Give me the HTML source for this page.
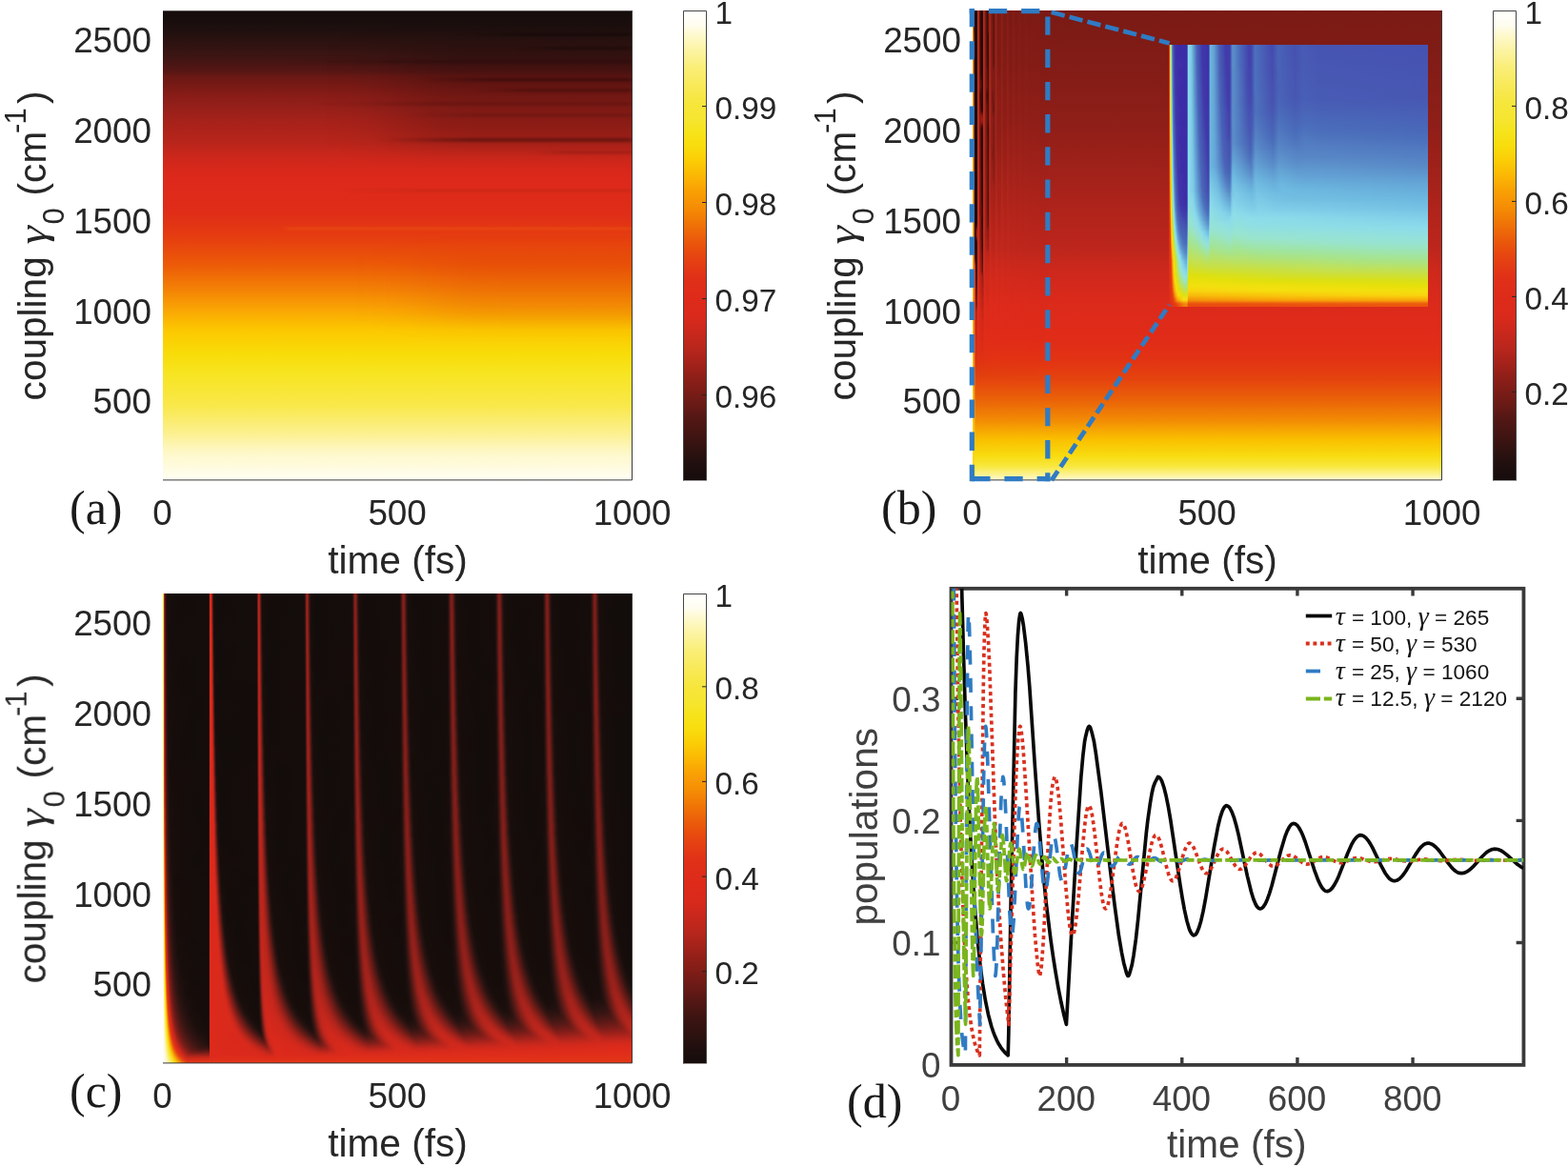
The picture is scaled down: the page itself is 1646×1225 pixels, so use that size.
<!DOCTYPE html>
<html lang="en"><head><meta charset="utf-8"><title>Figure</title>
<style>html,body{margin:0;padding:0;background:#fff}#fig{position:relative;width:1646px;height:1225px;overflow:hidden;background:#fff}.hm{position:absolute;overflow:hidden}.bl{position:absolute;left:0;top:0;width:100%;height:100%}.bl i{position:absolute;left:0;width:100%;display:block}#ov{position:absolute;left:0;top:0;display:block}</style></head><body>
<div id="fig">
<svg width="0" height="0" style="position:absolute"><defs><filter id="vb" x="0" y="-0.5" width="1" height="2" color-interpolation-filters="sRGB"><feGaussianBlur stdDeviation="0 2.5"/></filter><filter id="vb2" x="0" y="-0.5" width="1" height="2" color-interpolation-filters="sRGB"><feGaussianBlur stdDeviation="0 1.5"/></filter></defs></svg>
<div class="hm" style="left:171px;top:623.4px;width:493px;height:493px"><div class="bl" style="filter:url(#vb)"><i style="top:-12.4px;height:28px;background:linear-gradient(90deg,#ffffff 0,#f8e21e 0.5px,#e33a13 1px,#a7231b 1.5px,#661b17 2px,#431714 2.5px,#2e1412 3px,#180e0c 4.5px,#120c0a 19px,#140d0b 48px,#2c1412 48.5px,#a0221b 49px,#dd2b1b 49.5px,#dc2a1c 50.5px,#c7271c 51px,#441714 52.5px,#261210 53px,#180e0c 53.5px,#120c0a 58.5px,#140d0b 98px,#190e0c 98.5px,#371513 99px,#a3221b 100px,#bb261c 100.5px,#b7251c 101px,#a0221b 101.5px,#421714 103px,#2a1311 103.5px,#170d0b 104.5px,#120c0a 121px,#140d0b 148px,#180e0c 148.5px,#24110f 149px,#3e1614 149.5px,#851e19 150.5px,#9b211b 151px,#9e221b 151.5px,#911f1a 152px,#311512 154px,#190e0c 155px,#120c0a 160.5px,#150d0b 198px,#1e100e 199px,#2c1412 199.5px,#791d18 201px,#8a1f1a 201.5px,#901f1a 202px,#891e1a 202.5px,#2a1311 205px,#190e0c 206px,#120c0a 213.5px,#150d0b 248px,#1c0f0d 249px,#361513 250px,#751c18 251.5px,#831e19 252px,#881e19 252.5px,#791d18 253.5px,#331513 255.5px,#190e0c 257px,#120c0a 266px,#150d0b 298px,#23110f 299.5px,#3f1714 300.5px,#731c18 302px,#841e19 303px,#7a1d18 304px,#2e1412 306.5px,#190e0c 308px,#120c0a 318px,#150d0b 348px,#21110f 349.5px,#3c1614 350.5px,#6f1c17 352px,#811e19 353px,#791d18 354px,#301412 356.5px,#190e0c 358px,#120c0a 367.5px,#160d0b 398.5px,#20100e 399.5px,#381613 400.5px,#791d18 402.5px,#801d19 403.5px,#6e1b17 404.5px,#271210 407px,#170d0b 408.5px,#120c0a 429px,#160d0b 448.5px,#271311 450px,#761c18 452.5px,#7f1d19 453.5px,#701c17 454.5px,#281311 457px,#170e0c 458.5px,#120c0a 475.5px,#120c0a 493px)"></i><i style="top:15.6px;height:16px;background:linear-gradient(90deg,#ffffff 0,#f8e322 0.5px,#e54011 1px,#ae241c 1.5px,#6a1b17 2px,#471815 2.5px,#311513 3px,#190e0c 4.5px,#120c0a 17px,#140d0b 48px,#2c1412 48.5px,#9f221b 49px,#dd2b1b 49.5px,#dc2a1c 50.5px,#cd281c 51px,#7a1d18 52px,#2c1412 53px,#1b0f0d 53.5px,#120c0a 56px,#140d0b 98px,#190e0c 98.5px,#341513 99px,#9f221b 100px,#ba261c 100.5px,#b9251c 101px,#a5231b 101.5px,#301512 103.5px,#180e0c 104.5px,#120c0a 111.5px,#140d0b 148px,#22110f 149px,#3b1613 149.5px,#811e19 150.5px,#99211b 151px,#9f221b 151.5px,#95201a 152px,#381613 154px,#1d0f0d 155px,#120c0a 158px,#150d0b 198px,#1d0f0d 199px,#2a1311 199.5px,#751c18 201px,#881e19 201.5px,#901f1a 202px,#8c1f1a 202.5px,#6a1b17 203.5px,#2f1412 205px,#1b0f0d 206px,#120c0a 210.5px,#150d0b 248px,#1b0e0c 249px,#331513 250px,#801d19 252px,#871e19 252.5px,#7d1d19 253.5px,#2b1412 256px,#170e0c 257.5px,#120c0a 273px,#150d0b 298px,#22110f 299.5px,#3c1614 300.5px,#7c1d19 302.5px,#831e19 303.5px,#721c18 304.5px,#291311 307px,#180e0c 308.5px,#120c0a 324px,#170d0b 348.5px,#291311 350px,#781d18 352.5px,#811e19 353.5px,#721c18 354.5px,#2a1311 357px,#180e0c 358.5px,#120c0a 372.5px,#160d0b 398.5px,#271210 400px,#761c18 402.5px,#801d19 403.5px,#731c18 404.5px,#2b1412 407px,#180e0c 408.5px,#120c0a 421px,#160d0b 448.5px,#261210 450px,#731c18 452.5px,#801d19 453.5px,#741c18 454.5px,#2c1412 457px,#180e0c 458.5px,#120c0a 469.5px,#120c0a 493px)"></i><i style="top:31.6px;height:16px;background:linear-gradient(90deg,#ffffff 0,#f8e427 0.5px,#e6480f 1px,#b5251c 1.5px,#701c17 2px,#4b1815 2.5px,#341513 3px,#1f100e 4px,#140d0b 6.5px,#140d0b 48px,#2c1412 48.5px,#9e221b 49px,#dd2b1c 49.5px,#dd2a1c 50.5px,#d2281c 51px,#b1241c 51.5px,#5b1a16 52.5px,#361513 53px,#20100e 53.5px,#140d0b 54.5px,#140d0b 98px,#190e0c 98.5px,#321513 99px,#9b211b 100px,#b9251c 100.5px,#ba261c 101px,#a9231b 101.5px,#381613 103.5px,#1a0e0c 104.5px,#120c0a 108.5px,#140d0b 148px,#21100e 149px,#371513 149.5px,#7c1d19 150.5px,#96201a 151px,#9f221b 151.5px,#98211b 152px,#2b1412 154.5px,#180e0c 155.5px,#120c0a 162.5px,#140d0b 198px,#1b0f0d 199px,#281311 199.5px,#851e19 201.5px,#8f1f1a 202px,#8e1f1a 202.5px,#711c18 203.5px,#361513 205px,#1e100e 206px,#130c0a 208.5px,#150d0b 248px,#190e0c 249px,#2f1412 250px,#7d1d19 252px,#861e19 252.5px,#811e19 253.5px,#301512 256px,#180e0c 257.5px,#120c0a 267.5px,#170d0b 298.5px,#291311 300px,#791d18 302.5px,#841e19 303.5px,#761c18 304.5px,#2d1412 307px,#190e0c 308.5px,#120c0a 319px,#160d0b 348.5px,#271210 350px,#751c18 352.5px,#821e19 353.5px,#761c18 354.5px,#2e1412 357px,#190e0c 358.5px,#120c0a 368px,#160d0b 398.5px,#251210 400px,#721c18 402.5px,#801d19 403.5px,#771c18 404.5px,#261210 407.5px,#170d0b 409px,#120c0a 428.5px,#160d0b 448.5px,#24110f 450px,#3f1614 451px,#6f1c17 452.5px,#7f1d19 453.5px,#781d18 454.5px,#281311 457.5px,#170e0c 459px,#120c0a 475.5px,#120c0a 493px)"></i><i style="top:47.6px;height:16px;background:linear-gradient(90deg,#ffffff 0,#f8e52e 0.5px,#e8510c 1px,#bd261c 1.5px,#751c18 2px,#4f1815 2.5px,#381613 3px,#21110f 4px,#160d0b 6px,#140d0b 48px,#2c1412 48.5px,#9e211b 49px,#dd2b1c 49.5px,#dd2b1c 50.5px,#d5291c 51px,#ba261c 51.5px,#421714 53px,#261210 53.5px,#190e0c 54px,#120c0a 58.5px,#140d0b 98px,#180e0c 98.5px,#2f1412 99px,#97201a 100px,#b7251c 100.5px,#bc261c 101px,#ad241c 101.5px,#2a1311 104px,#170e0c 105px,#120c0a 115px,#140d0b 148px,#1f100e 149px,#341513 149.5px,#771c18 150.5px,#92201a 151px,#9f221b 151.5px,#9b211b 152px,#751c18 153px,#321513 154.5px,#1b0f0d 155.5px,#120c0a 159.5px,#160d0b 198.5px,#261210 199.5px,#811e19 201.5px,#8d1f1a 202px,#8f1f1a 202.5px,#771c18 203.5px,#2c1412 205.5px,#170d0b 207px,#120c0a 223px,#160d0b 248.5px,#21100e 249.5px,#2c1412 250px,#791d18 252px,#881e19 253px,#791d18 254px,#2a1311 256.5px,#170e0c 258px,#120c0a 273.5px,#160d0b 298.5px,#271210 300px,#751c18 302.5px,#841e19 303.5px,#7b1d18 304.5px,#291311 307.5px,#180e0c 309px,#120c0a 323.5px,#160d0b 348.5px,#251210 350px,#521916 351.5px,#7c1d19 353px,#801d19 354px,#611a16 355.5px,#291311 357.5px,#180e0c 359px,#120c0a 372px,#160d0b 398.5px,#23110f 400px,#3e1614 401px,#7a1d18 403px,#801d19 404px,#701c17 405px,#2b1412 407.5px,#180e0c 409px,#120c0a 421px,#150d0b 448.5px,#22110f 450px,#3b1613 451px,#771c18 453px,#801d19 454px,#711c18 455px,#2c1412 457.5px,#170d0b 459.5px,#120c0a 489.5px,#120c0a 493px)"></i><i style="top:63.6px;height:16px;background:linear-gradient(90deg,#ffffff 0,#f9e635 0.5px,#ea5a0a 1px,#c5271c 1.5px,#7c1d18 2px,#531916 2.5px,#2b1412 3.5px,#180e0c 5px,#120c0a 20px,#140d0b 48px,#2b1412 48.5px,#9d211b 49px,#dd2b1c 49.5px,#d8291c 51px,#c2261c 51.5px,#4e1815 53px,#2e1412 53.5px,#1d0f0d 54px,#120c0a 56px,#140d0b 98px,#180e0c 98.5px,#2d1412 99px,#93201a 100px,#b5251c 100.5px,#bc261c 101px,#b1241c 101.5px,#811e19 102.5px,#321513 104px,#190e0c 105px,#120c0a 111px,#140d0b 148px,#1e100e 149px,#301512 149.5px,#8e1f1a 151px,#9e211b 151.5px,#9d211b 152px,#7c1d19 153px,#3a1613 154.5px,#1f100e 155.5px,#130c0a 157.5px,#160d0b 198.5px,#190e0c 199px,#351513 200px,#7d1d19 201.5px,#8b1f1a 202px,#901f1a 202.5px,#7d1d19 203.5px,#331513 205.5px,#180e0c 207px,#120c0a 216px,#160d0b 248.5px,#1f100e 249.5px,#3b1613 250.5px,#751c18 252px,#881e19 253px,#7e1d19 254px,#301412 256.5px,#190e0c 258px,#120c0a 267.5px,#160d0b 298.5px,#251210 300px,#511915 301.5px,#7d1d19 303px,#831e19 304px,#741c18 305px,#2e1412 307.5px,#170d0b 309.5px,#120c0a 331px,#160d0b 348.5px,#23110f 350px,#3c1614 351px,#791d18 353px,#811e19 354px,#741c18 355px,#2f1412 357.5px,#170e0c 359.5px,#120c0a 378.5px,#150d0b 398.5px,#22110f 400px,#391613 401px,#761c18 403px,#801d19 404px,#751c18 405px,#271210 408px,#180e0c 409.5px,#120c0a 426px,#170d0b 449px,#291311 450.5px,#741c18 453px,#801d19 454px,#761c18 455px,#281311 458px,#180e0c 459.5px,#120c0a 474px,#120c0a 493px)"></i><i style="top:79.6px;height:16px;background:linear-gradient(90deg,#ffffff 0,#f9e73c 0.5px,#ec6309 1px,#cd281c 1.5px,#821e19 2px,#581916 2.5px,#2e1412 3.5px,#190e0c 5px,#120c0a 17.5px,#140d0b 48px,#2b1412 48.5px,#9d211b 49px,#dd2b1c 49.5px,#da2a1c 51px,#ca271c 51.5px,#831e19 52.5px,#3a1613 53.5px,#23110f 54px,#180e0c 54.5px,#120c0a 60px,#140d0b 98px,#180e0c 98.5px,#2b1412 99px,#8f1f1a 100px,#b2251c 100.5px,#bd261c 101px,#b4251c 101.5px,#891e1a 102.5px,#3b1614 104px,#1d0f0d 105px,#120c0a 107.5px,#160d0b 148.5px,#1c0f0d 149px,#2d1412 149.5px,#8a1f1a 151px,#9c211b 151.5px,#9f221b 152px,#831e19 153px,#301412 155px,#1b0f0d 156px,#120c0a 160.5px,#160d0b 198.5px,#22110f 199.5px,#311513 200px,#781d18 201.5px,#881e1a 202px,#901f1a 202.5px,#8d1f1a 203px,#721c18 204px,#2b1412 206px,#170e0c 207.5px,#120c0a 222px,#160d0b 248.5px,#271210 250px,#7e1d19 252.5px,#881e19 253.5px,#761c18 254.5px,#2a1311 257px,#180e0c 258.5px,#120c0a 271.5px,#160d0b 298.5px,#23110f 300px,#3b1614 301px,#791d18 303px,#841e19 304px,#791d18 305px,#2a1311 308px,#170d0b 310px,#120c0a 345.5px,#1a0e0c 349.5px,#2a1311 350.5px,#751c18 353px,#821e19 354px,#791d18 355px,#2b1412 358px,#170d0b 360px,#120c0a 390px,#170d0b 399px,#281311 400.5px,#721c18 403px,#801d19 404px,#791d18 405px,#2c1412 408px,#170d0b 410px,#120c0a 434px,#160d0b 449px,#271210 450.5px,#7a1d18 453.5px,#7f1d19 454.5px,#641a17 456px,#2d1412 458px,#170e0c 460px,#120c0a 480px,#120c0a 493px)"></i><i style="top:95.6px;height:16px;background:linear-gradient(90deg,#ffffff 0,#fae843 0.5px,#ee6e08 1px,#d4291c 1.5px,#891e1a 2px,#5e1a16 2.5px,#431714 3px,#271210 4px,#180e0c 5.5px,#120c0a 24.5px,#140d0b 48px,#2b1412 48.5px,#9c211b 49px,#dd2b1c 49.5px,#dc2a1c 51px,#d1281c 51.5px,#b5251c 52px,#471815 53.5px,#2b1412 54px,#1c0f0d 54.5px,#120c0a 56.5px,#140c0a 98px,#170e0c 98.5px,#291311 99px,#8a1f1a 100px,#b0241c 100.5px,#bd261c 101px,#b7251c 101.5px,#911f1a 102.5px,#2f1412 104.5px,#190e0c 105.5px,#120c0a 111.5px,#160d0b 148.5px,#1b0f0d 149px,#2a1311 149.5px,#851e19 151px,#99211b 151.5px,#9f221b 152px,#99211b 152.5px,#601a16 154px,#291311 155.5px,#160d0b 157px,#130c0a 197.5px,#180e0c 199px,#2d1412 200px,#851e19 202px,#8e1f1a 202.5px,#8f1f1a 203px,#791d18 204px,#331513 206px,#190e0c 207.5px,#120c0a 216px,#150d0b 248.5px,#251210 250px,#441714 251px,#7a1d18 252.5px,#881e1a 253.5px,#7c1d19 254.5px,#271210 257.5px,#170e0c 259px,#120c0a 278px,#150d0b 298.5px,#21100e 300px,#371513 301px,#741c18 303px,#831e19 304px,#7e1d19 305px,#271210 308.5px,#180e0c 310px,#120c0a 325px,#170d0b 349px,#271311 350.5px,#7b1d18 353.5px,#811e19 354.5px,#741c18 355.5px,#281311 358.5px,#160d0b 360.5px,#130c0a 397.5px,#1e100e 400px,#301512 401px,#781d18 403.5px,#801d19 404.5px,#741c18 405.5px,#291311 408.5px,#170d0b 410.5px,#120c0a 446px,#1d0f0d 450px,#2e1412 451px,#761c18 453.5px,#801d19 454.5px,#751c18 455.5px,#2a1311 458.5px,#170d0b 460.5px,#120c0a 490px,#120c0a 493px)"></i><i style="top:111.6px;height:16px;background:linear-gradient(90deg,#ffffff 0,#fae84b 0.5px,#f07806 1px,#d92a1c 1.5px,#911f1a 2px,#631a17 2.5px,#481815 3px,#291311 4px,#170e0c 6px,#120c0a 37px,#140d0b 48px,#2b1412 48.5px,#9c211b 49px,#dd2b1c 49.5px,#dc2a1c 51px,#d4291c 51.5px,#bf261c 52px,#371613 54px,#23110f 54.5px,#150d0b 55.5px,#140c0a 98px,#170d0b 98.5px,#281311 99px,#531916 99.5px,#861e19 100px,#ac241c 100.5px,#bc261c 101px,#b9251c 101.5px,#99211b 102.5px,#3a1613 104.5px,#1d0f0d 105.5px,#130c0a 108px,#160d0b 148.5px,#1a0e0c 149px,#281311 149.5px,#801d19 151px,#96201a 151.5px,#9f221b 152px,#9c211b 152.5px,#7e1d19 153.5px,#301512 155.5px,#180e0c 157px,#120c0a 169px,#150d0b 198.5px,#1e100e 199.5px,#2a1311 200px,#801d19 202px,#8c1f1a 202.5px,#901f1a 203px,#801d19 204px,#2d1412 206.5px,#180e0c 208px,#120c0a 219.5px,#150d0b 248.5px,#1a0e0c 249.5px,#2d1412 250.5px,#751c18 252.5px,#871e19 253.5px,#811e19 254.5px,#2c1412 257.5px,#170d0b 259.5px,#120c0a 288.5px,#170d0b 299px,#271210 300.5px,#7b1d18 303.5px,#841e19 304.5px,#7a1d18 305.5px,#2d1412 308.5px,#170e0c 310.5px,#120c0a 329px,#160d0b 349px,#251210 350.5px,#4d1815 352px,#771c18 353.5px,#821e19 354.5px,#791d18 355.5px,#2e1412 358.5px,#180e0c 360.5px,#120c0a 377.5px,#160d0b 399px,#23110f 400.5px,#3b1613 401.5px,#741c18 403.5px,#801d19 404.5px,#791d18 405.5px,#271210 409px,#160d0b 411px,#140c0a 448px,#1b0f0d 450px,#381613 451.5px,#721c18 453.5px,#801d19 454.5px,#7a1d18 455.5px,#281311 459px,#170d0b 461px,#120c0a 493px)"></i><i style="top:127.6px;height:16px;background:linear-gradient(90deg,#ffffff 0,#fae952 0.5px,#f28206 1px,#dd2a1c 1.5px,#9a211b 2px,#691b17 2.5px,#4d1815 3px,#2b1412 4px,#180e0c 6px,#120c0a 28.5px,#140d0b 48px,#2b1412 48.5px,#9c211b 49px,#dd2a1c 49.5px,#d8291c 51.5px,#c8271c 52px,#891e1a 53px,#461715 54px,#2b1412 54.5px,#170d0b 55.5px,#120c0a 68.5px,#140c0a 98px,#170d0b 98.5px,#261210 99px,#4e1815 99.5px,#811e19 100px,#a9231b 100.5px,#bb261c 101px,#bb261c 101.5px,#a0221b 102.5px,#301512 105px,#1a0e0c 106px,#120c0a 111px,#150d0b 148.5px,#190e0c 149px,#261210 149.5px,#5c1a16 150.5px,#92201a 151.5px,#9e211b 152px,#9e211b 152.5px,#851e19 153.5px,#2a1311 156px,#170d0b 157.5px,#120c0a 177px,#150d0b 198.5px,#1c0f0d 199.5px,#391613 200.5px,#7b1d18 202px,#901f1a 203px,#851e19 204px,#291311 207px,#170e0c 208.5px,#120c0a 223.5px,#170d0b 249px,#20100e 250px,#3a1613 251px,#7d1d19 253px,#881e1a 254px,#7c1d18 255px,#2a1311 258px,#180e0c 259.5px,#120c0a 272px,#160d0b 299px,#24110f 300.5px,#3c1614 301.5px,#761c18 303.5px,#841e19 304.5px,#7f1d19 305.5px,#2b1412 309px,#170e0c 311px,#120c0a 333px,#160d0b 349px,#22110f 350.5px,#381613 351.5px,#721c18 353.5px,#811e19 354.5px,#7d1d19 355.5px,#431714 358px,#241210 359.5px,#170e0c 361px,#120c0a 380.5px,#160d0b 399px,#21110f 400.5px,#441714 402px,#791d18 404px,#811e19 405px,#6b1b17 406.5px,#2c1412 409px,#180e0c 411px,#120c0a 428.5px,#150d0b 449px,#20100e 450.5px,#421714 452px,#771c18 454px,#801d19 455px,#6c1b17 456.5px,#2e1412 459px,#180e0c 461px,#120c0a 476.5px,#120c0a 493px)"></i><i style="top:143.6px;height:16px;background:linear-gradient(90deg,#ffffff 0,#fbea59 0.5px,#f48d05 1px,#de2b1b 1.5px,#a3221b 2px,#701c18 2.5px,#521916 3px,#2f1412 4px,#180e0c 6px,#120c0a 24px,#140d0b 48px,#2b1412 48.5px,#9b211b 49px,#dd2a1c 49.5px,#db2a1c 51.5px,#d0281c 52px,#99211b 53px,#391613 54.5px,#251210 55px,#190e0c 55.5px,#120c0a 60px,#130c0a 98px,#170d0b 98.5px,#251210 99px,#4a1815 99.5px,#a5221b 100.5px,#b9251c 101px,#bc261c 101.5px,#a6231b 102.5px,#2a1311 105.5px,#180e0c 106.5px,#120c0a 114px,#150d0b 148.5px,#180e0c 149px,#24110f 149.5px,#391613 150px,#8d1f1a 151.5px,#9c211b 152px,#9f221b 152.5px,#8c1f1a 153.5px,#331513 156px,#190e0c 157.5px,#120c0a 166px,#150d0b 198.5px,#1b0f0d 199.5px,#341513 200.5px,#851e19 202.5px,#901f1a 203.5px,#7f1d19 204.5px,#311512 207px,#190e0c 208.5px,#120c0a 217px,#160d0b 249px,#271210 250.5px,#781d18 253px,#881e19 254px,#811e19 255px,#281311 258.5px,#180e0c 260px,#120c0a 274px,#160d0b 299px,#22110f 300.5px,#451714 302px,#7b1d18 304px,#841e19 305px,#721c18 306.5px,#291311 309.5px,#170d0b 311.5px,#120c0a 335.5px,#170d0b 349.5px,#281311 351px,#781d18 354px,#821e19 355px,#721c18 356.5px,#2a1311 359.5px,#170e0c 361.5px,#120c0a 383px,#170d0b 399.5px,#261210 401px,#751c18 404px,#811e19 405px,#7b1d18 406px,#2b1412 409.5px,#180e0c 411.5px,#120c0a 430.5px,#170d0b 449.5px,#251210 451px,#4a1815 452.5px,#7b1d18 454.5px,#801d19 455.5px,#691b17 457px,#2c1412 459.5px,#180e0c 461.5px,#120c0a 478.5px,#120c0a 493px)"></i><i style="top:159.6px;height:16px;background:linear-gradient(90deg,#ffffff 0,#fbeb61 0.5px,#f69804 1px,#df2c1a 1.5px,#781d18 2.5px,#581916 3px,#341513 4px,#190e0c 6px,#120c0a 19.5px,#140d0b 48px,#2b1412 48.5px,#9b211b 49px,#dd2a1c 49.5px,#dc2a1c 51.5px,#d5291c 52px,#c3271c 52.5px,#301412 55px,#180e0c 56px,#120c0a 63px,#130c0a 98px,#160d0b 98.5px,#23110f 99px,#461715 99.5px,#a0221b 100.5px,#b7251c 101px,#bd261c 101.5px,#ac241c 102.5px,#5d1a16 104.5px,#271210 106px,#160d0b 107.5px,#150d0b 148.5px,#21110f 149.5px,#341513 150px,#871e19 151.5px,#99211b 152px,#a0221b 152.5px,#92201a 153.5px,#2e1412 156.5px,#180e0c 158px,#120c0a 168.5px,#160d0b 199px,#22110f 200px,#441714 201px,#801d19 202.5px,#901f1a 203.5px,#851e19 204.5px,#2d1412 207.5px,#190e0c 209px,#120c0a 218.5px,#160d0b 249px,#241210 250.5px,#3f1714 251.5px,#7e1d19 253.5px,#881e1a 254.5px,#7e1d19 255.5px,#271210 259px,#180e0c 260.5px,#120c0a 276px,#160d0b 299px,#1f100e 300.5px,#3f1614 302px,#761c18 304px,#831e19 305px,#791d18 306.5px,#291311 310px,#170d0b 312px,#120c0a 336px,#170d0b 349.5px,#251210 351px,#491815 352.5px,#7b1d18 354.5px,#821e19 355.5px,#6f1c17 357px,#291311 360px,#170e0c 362px,#120c0a 383.5px,#160d0b 399.5px,#23110f 401px,#471815 402.5px,#791d18 404.5px,#811e19 405.5px,#6f1c17 407px,#2a1311 410px,#180e0c 412px,#120c0a 431px,#160d0b 449.5px,#22110f 451px,#441714 452.5px,#771c18 454.5px,#801d19 455.5px,#711c18 457px,#2b1412 460px,#180e0c 462px,#120c0a 479px,#120c0a 493px)"></i><i style="top:175.6px;height:16px;background:linear-gradient(90deg,#ffffff 0,#fbec69 0.5px,#f8a304 1px,#e13019 1.5px,#b8251c 2px,#811e19 2.5px,#5f1a16 3px,#381613 4px,#251210 5px,#160d0b 7.5px,#140d0b 48px,#2b1412 48.5px,#9b211b 49px,#dd2a1c 49.5px,#d8291c 52px,#cd281c 52.5px,#99211b 53.5px,#401714 55px,#2a1311 55.5px,#170e0c 56.5px,#120c0a 67px,#160d0b 98.5px,#21110f 99px,#421714 99.5px,#9b211b 100.5px,#b5251c 101px,#bd261c 101.5px,#b1241c 102.5px,#7f1d19 104px,#301412 106px,#170e0c 107.5px,#120c0a 120.5px,#150d0b 148.5px,#1f100e 149.5px,#2f1412 150px,#811e19 151.5px,#95201a 152px,#9f221b 152.5px,#98211b 153.5px,#2b1412 157px,#180e0c 158.5px,#120c0a 170.5px,#160d0b 199px,#20100e 200px,#3d1614 201px,#7a1d18 202.5px,#8f1f1a 203.5px,#8b1f1a 204.5px,#2c1412 208px,#170d0b 210px,#120c0a 236.5px,#170d0b 249.5px,#2a1311 251px,#791d18 253.5px,#881e19 254.5px,#831e19 255.5px,#261210 259.5px,#160d0b 261.5px,#130c0a 298px,#1d0f0d 300.5px,#381613 302px,#7a1d18 304.5px,#841e19 306px,#6d1b17 307.5px,#291311 310.5px,#170e0c 312.5px,#120c0a 334px,#160d0b 349.5px,#22110f 351px,#431714 352.5px,#761c18 354.5px,#821e19 356px,#6d1b17 357.5px,#291311 360.5px,#180e0c 362.5px,#120c0a 382.5px,#160d0b 399.5px,#21100e 401px,#401714 402.5px,#741c18 404.5px,#811e19 406px,#6d1b17 407.5px,#2a1311 410.5px,#180e0c 412.5px,#120c0a 430.5px,#160d0b 449.5px,#1f100e 451px,#3d1614 452.5px,#721c18 454.5px,#801d19 456px,#6f1c17 457.5px,#2b1412 460.5px,#180e0c 462.5px,#120c0a 479px,#120c0a 493px)"></i><i style="top:191.6px;height:16px;background:linear-gradient(90deg,#ffffff 0,#fced72 0.5px,#f9ae04 1px,#e33615 1.5px,#c3271c 2px,#8a1f1a 2.5px,#661b17 3px,#3d1614 4px,#23110f 5.5px,#160d0b 8px,#140d0b 48px,#2b1412 48.5px,#9a211b 49px,#dd2a1c 49.5px,#db2a1c 52px,#d3291c 52.5px,#aa231b 53.5px,#3a1613 55.5px,#1c0f0d 56.5px,#120c0a 59.5px,#160d0b 98.5px,#20100e 99px,#3d1614 99.5px,#95201a 100.5px,#b2241c 101px,#bc261c 101.5px,#b5251c 102.5px,#8a1f1a 104px,#2c1412 106.5px,#170d0b 108px,#120c0a 123px,#140d0b 148.5px,#1d0f0d 149.5px,#2b1412 150px,#7a1d18 151.5px,#9c211b 152.5px,#9c211b 153.5px,#761c18 155px,#2a1311 157.5px,#180e0c 159px,#120c0a 171.5px,#160d0b 199px,#1d0f0d 200px,#371513 201px,#821e19 203px,#911f1a 204px,#871e19 205px,#2b1412 208.5px,#170d0b 210.5px,#120c0a 234.5px,#170d0b 249.5px,#271210 251px,#7e1d19 254px,#891e1a 255px,#781d18 256.5px,#2e1412 259.5px,#180e0c 261.5px,#120c0a 276px,#160d0b 299.5px,#20100e 301px,#3f1714 302.5px,#7d1d19 305px,#831e19 306.5px,#6c1b17 308px,#2a1311 311px,#180e0c 313px,#120c0a 331.5px,#170d0b 350px,#2f1412 352px,#791d18 355px,#811e19 356.5px,#6c1b17 358px,#2a1311 361px,#180e0c 363px,#120c0a 380.5px,#170d0b 400px,#2c1412 402px,#771c18 405px,#811e19 406.5px,#6c1b17 408px,#2b1412 411px,#180e0c 413px,#120c0a 429px,#170d0b 450px,#2b1412 452px,#751c18 455px,#801d19 456.5px,#6d1b17 458px,#2c1412 461px,#180e0c 463px,#120c0a 478px,#120c0a 493px)"></i><i style="top:207.6px;height:16px;background:linear-gradient(90deg,#ffffff 0,#fcee7a 0.5px,#fab904 1px,#e53f11 1.5px,#d0281c 2px,#95201a 2.5px,#6e1b17 3px,#431714 4px,#2b1412 5px,#180e0c 7.5px,#120c0a 36px,#140d0b 48px,#2b1412 48.5px,#9a211b 49px,#dc2a1c 49.5px,#d8291c 52.5px,#ce281c 53px,#a0221b 54px,#361513 56px,#1b0f0d 57px,#120c0a 60.5px,#160d0b 98.5px,#1e100e 99px,#391613 99.5px,#8f1f1a 100.5px,#ae241c 101px,#bb261c 101.5px,#b8251c 102.5px,#95201a 104px,#2b1412 107px,#170e0c 108.5px,#120c0a 123.5px,#160d0b 149px,#281311 150px,#891e1a 152px,#99211b 152.5px,#9f221b 153.5px,#811e19 155px,#2a1311 158px,#180e0c 159.5px,#120c0a 171.5px,#150d0b 199px,#1b0f0d 200px,#311512 201px,#7c1d18 203px,#8f1f1a 204px,#8d1f1a 205px,#5f1a16 207px,#2b1412 209px,#170e0c 211px,#120c0a 231px,#160d0b 249.5px,#24110f 251px,#3b1614 252px,#771c18 254px,#871e19 255px,#871e19 256px,#5f1a16 258px,#271311 260.5px,#170d0b 262.5px,#120c0a 290px,#190e0c 300.5px,#2b1412 302px,#771c18 305px,#851e19 306.5px,#761c18 308px,#2b1412 311.5px,#170d0b 314px,#120c0a 346px,#1c0f0d 351px,#351513 352.5px,#731c18 355px,#831e19 356.5px,#751c18 358px,#2b1412 361.5px,#170d0b 364px,#120c0a 393px,#180e0c 400.5px,#321513 402.5px,#791d18 405.5px,#811e19 407px,#6c1b17 408.5px,#261210 412px,#170d0b 414px,#120c0a 440px,#180e0c 450.5px,#301512 452.5px,#771c18 455.5px,#801d19 457px,#6d1b17 458.5px,#271210 462px,#170e0c 464px,#120c0a 487px,#120c0a 493px)"></i><i style="top:223.6px;height:16px;background:linear-gradient(90deg,#ffffff 0,#fcef83 0.5px,#fbc404 1px,#e84e0d 1.5px,#d8291c 2px,#a1221b 2.5px,#781d18 3px,#491815 4px,#291311 5.5px,#180e0c 8px,#120c0a 41px,#140d0b 48px,#2b1412 48.5px,#9a211b 49px,#dc2a1c 49.5px,#db2a1c 52.5px,#c7271c 53.5px,#341513 56.5px,#1b0f0d 57.5px,#120c0a 61px,#150d0b 98.5px,#1c0f0d 99px,#341513 99.5px,#881e1a 100.5px,#a9231b 101px,#b9251c 101.5px,#bb261c 102.5px,#9f221b 104px,#2b1412 107.5px,#180e0c 109px,#120c0a 122px,#160d0b 149px,#190e0c 149.5px,#371513 150.5px,#821e19 152px,#9e211b 153px,#9d211b 154px,#7d1d19 155.5px,#2a1412 158.5px,#170d0b 160.5px,#120c0a 193.5px,#190e0c 200px,#2b1412 201px,#821e19 203.5px,#911f1a 204.5px,#8b1f1a 205.5px,#511915 208px,#261210 210px,#160d0b 212px,#140c0a 248.5px,#1a0e0c 250.5px,#341513 252px,#7b1d18 254.5px,#891e1a 256px,#771c18 257.5px,#291311 261px,#180e0c 263px,#120c0a 282px,#160d0b 300px,#21100e 301.5px,#3c1614 303px,#791d18 305.5px,#851e19 307px,#771c18 308.5px,#271311 312.5px,#180e0c 314.5px,#120c0a 335.5px,#180e0c 350.5px,#2d1412 352.5px,#751c18 355.5px,#831e19 357px,#761c18 358.5px,#281311 362.5px,#180e0c 364.5px,#120c0a 384px,#170d0b 400.5px,#2b1412 402.5px,#731c18 405.5px,#821e19 407px,#761c18 408.5px,#281311 412.5px,#170d0b 415px,#130c0a 448px,#1d0f0d 451.5px,#351513 453px,#791d18 456px,#811e19 457.5px,#6e1b17 459px,#291311 462.5px,#170d0b 465px,#120c0a 493px)"></i><i style="top:239.6px;height:16px;background:linear-gradient(90deg,#ffffff 0,#fcf08c 0.5px,#facf07 1px,#eb5e09 1.5px,#dd2b1c 2px,#821e19 3px,#651b17 3.5px,#421714 4.5px,#271210 6px,#180e0c 8.5px,#120c0a 45.5px,#140d0b 48px,#2b1412 48.5px,#9a211b 49px,#dc2a1c 49.5px,#d9291c 53px,#d1281c 53.5px,#ac241c 54.5px,#351513 57px,#1d0f0d 58px,#120c0a 61px,#150d0b 98.5px,#1a0e0c 99px,#2f1412 99.5px,#811e19 100.5px,#a4221b 101px,#b7251c 101.5px,#bd261c 102.5px,#a8231b 104px,#6d1b17 106px,#2d1412 108px,#180e0c 109.5px,#120c0a 120px,#160d0b 149px,#22110f 150px,#301512 150.5px,#8d1f1a 152.5px,#a0221b 153.5px,#9b211b 154.5px,#6e1b17 156.5px,#2c1412 159px,#170e0c 161px,#120c0a 180px,#160d0b 199.5px,#271210 201px,#871e19 204px,#92201a 205px,#821e19 206.5px,#281311 210.5px,#170d0b 212.5px,#120c0a 238px,#170d0b 250px,#241210 251.5px,#481815 253px,#7e1d19 255px,#8a1f1a 256.5px,#781d18 258px,#2c1412 261.5px,#170d0b 264px,#120c0a 291px,#190e0c 301px,#341513 303px,#7a1d18 306px,#861e19 307.5px,#791d18 309px,#2b1412 313px,#170e0c 315.5px,#120c0a 341.5px,#180e0c 351px,#311513 353px,#761c18 356px,#841e19 357.5px,#781d18 359px,#2b1412 363px,#170e0c 365.5px,#120c0a 389.5px,#180e0c 401px,#2f1412 403px,#741c18 406px,#821e19 407.5px,#781d18 409px,#261210 413.5px,#170d0b 416px,#140c0a 449px,#20100e 452px,#391613 453.5px,#7a1d18 456.5px,#811e19 458px,#711c18 459.5px,#271210 463.5px,#170d0b 466px,#120c0a 493px)"></i><i style="top:255.6px;height:10px;background:linear-gradient(90deg,#ffffff 0,#fdf193 0.5px,#f9d80a 1px,#ee6d08 1.5px,#df2c1b 2px,#ba261c 2.5px,#8c1f1a 3px,#6d1b17 3.5px,#471815 4.5px,#2a1311 6px,#170e0c 9px,#120c0a 47.5px,#140d0b 48px,#2b1412 48.5px,#9a211b 49px,#dc2a1c 49.5px,#dc2a1c 53px,#cd281c 54px,#8e1f1a 55.5px,#341513 57.5px,#1d0f0d 58.5px,#120c0a 61.5px,#150d0b 98.5px,#190e0c 99px,#2b1412 99.5px,#9e221b 101px,#b4251c 101.5px,#be261c 102.5px,#ad241c 104px,#7b1d18 106px,#2d1412 108.5px,#180e0c 110px,#120c0a 120px,#150d0b 149px,#1f100e 150px,#2b1412 150.5px,#871e19 152.5px,#9f221b 153.5px,#9f221b 154.5px,#791d18 156.5px,#2d1412 159.5px,#180e0c 161.5px,#120c0a 177px,#160d0b 199.5px,#24110f 201px,#3f1714 202px,#811e19 204px,#911f1a 205px,#891e1a 206.5px,#291311 211px,#180e0c 213px,#120c0a 232px,#160d0b 250px,#21110f 251.5px,#411714 253px,#801d19 255.5px,#8a1f1a 257px,#781d18 258.5px,#281311 262.5px,#180e0c 264.5px,#120c0a 284px,#170d0b 300.5px,#261210 302.5px,#7b1d18 306.5px,#861e19 308px,#7a1d18 309.5px,#271311 314px,#170d0b 316.5px,#130c0a 348px,#1a0e0c 351.5px,#361513 353.5px,#781d18 356.5px,#841e19 358px,#791d18 359.5px,#281311 364px,#170d0b 366.5px,#120c0a 397.5px,#1e100e 402px,#341513 403.5px,#761c18 406.5px,#831e19 408px,#791d18 409.5px,#281311 414px,#170d0b 416.5px,#120c0a 446.5px,#190e0c 451.5px,#321513 453.5px,#741c18 456.5px,#821e19 458px,#791d18 459.5px,#291311 464px,#170e0c 466.5px,#120c0a 493px)"></i><i style="top:265.6px;height:10px;background:linear-gradient(90deg,#ffffff 0,#fdf298 0.5px,#f8de0d 1px,#f07806 1.5px,#e02d1a 2px,#c4271c 2.5px,#94201a 3px,#741c18 3.5px,#4c1815 4.5px,#2c1412 6px,#180e0c 9px,#120c0a 40.5px,#140d0b 48px,#2b1412 48.5px,#9a211b 49px,#dc2a1c 49.5px,#d92a1c 53.5px,#c5271c 54.5px,#311512 58px,#180e0c 59.5px,#120c0a 71.5px,#150d0b 98.5px,#190e0c 99px,#291311 99.5px,#9a211b 101px,#b1241c 101.5px,#bc261c 102px,#b8251c 103.5px,#9f221b 105px,#2c1412 109px,#180e0c 110.5px,#120c0a 121px,#150d0b 149px,#1d0f0d 150px,#291311 150.5px,#811e19 152.5px,#9d211b 153.5px,#a1221b 154.5px,#8c1f1a 156px,#2c1412 160px,#180e0c 162px,#120c0a 177.5px,#150d0b 199.5px,#21110f 201px,#391613 202px,#7b1d18 204px,#92201a 205.5px,#871e19 207px,#291311 211.5px,#180e0c 213.5px,#120c0a 231px,#170d0b 250.5px,#2e1412 252.5px,#7c1d18 255.5px,#8b1f1a 257px,#7f1d19 258.5px,#281311 263px,#170d0b 265.5px,#130c0a 298px,#1e0f0d 302px,#331513 303.5px,#7e1d19 307px,#871e19 308.5px,#791d18 310px,#281311 314.5px,#170e0c 317px,#120c0a 345.5px,#190e0c 351.5px,#301512 353.5px,#7b1d18 357px,#851e19 358.5px,#791d18 360px,#291311 364.5px,#170e0c 367px,#120c0a 393.5px,#180e0c 401.5px,#2e1412 403.5px,#791d18 407px,#831e19 408.5px,#791d18 410px,#291311 414.5px,#180e0c 417px,#120c0a 441.5px,#180e0c 451.5px,#2c1412 453.5px,#771c18 457px,#831e19 458.5px,#791d18 460px,#2a1311 464.5px,#180e0c 467px,#120c0a 489.5px,#120c0a 493px)"></i><i style="top:275.6px;height:10px;background:linear-gradient(90deg,#ffffff 0,#fdf39e 0.5px,#f8e014 1px,#f28405 1.5px,#e13217 2px,#ce281c 2.5px,#9e211b 3px,#7b1d18 3.5px,#521915 4.5px,#301512 6px,#190e0c 9px,#120c0a 34.5px,#140d0b 48px,#2b1412 48.5px,#9a211b 49px,#dc2a1c 49.5px,#dc2a1c 53.5px,#ce281c 54.5px,#96201a 56px,#401714 58px,#24110f 59px,#160d0b 60.5px,#150d0b 98.5px,#180e0c 99px,#271311 99.5px,#701c17 100.5px,#95201a 101px,#ae241c 101.5px,#bb261c 102px,#ba261c 103.5px,#9b211b 105.5px,#2b1412 109.5px,#170d0b 111.5px,#120c0a 139px,#170d0b 149.5px,#261210 150.5px,#651b17 152px,#8d1f1a 153px,#a0221b 154px,#9a211b 155.5px,#671b17 158px,#2d1412 160.5px,#180e0c 162.5px,#120c0a 177px,#170d0b 200px,#271311 201.5px,#821e19 204.5px,#93201a 206px,#861e19 207.5px,#2a1311 212px,#170d0b 214.5px,#120c0a 247px,#1c0f0d 251.5px,#351513 253px,#7f1d19 256px,#8b1f1a 257.5px,#7e1d19 259px,#291311 263.5px,#170e0c 266px,#120c0a 293.5px,#180e0c 301.5px,#2d1412 303.5px,#791d18 307px,#871e19 308.5px,#801d19 310px,#2a1311 315px,#180e0c 317.5px,#120c0a 339.5px,#180e0c 351.5px,#2b1412 353.5px,#7d1d19 357.5px,#851e19 359px,#711c18 361px,#2a1412 365px,#180e0c 367.5px,#120c0a 388.5px,#180e0c 401.5px,#2a1311 403.5px,#7b1d18 407.5px,#841e19 409px,#721c18 411px,#2b1412 415px,#170d0b 418px,#130c0a 448.5px,#1e0f0d 452.5px,#3c1614 454.5px,#791d18 457.5px,#831e19 459px,#721c18 461px,#271210 465.5px,#170d0b 468px,#120c0a 493px)"></i><i style="top:285.6px;height:10px;background:linear-gradient(90deg,#ffffff 0,#fdf3a3 0.5px,#f8e21b 1px,#f48f05 1.5px,#e33814 2px,#d6291c 2.5px,#a8231b 3px,#841e19 3.5px,#571916 4.5px,#2c1412 6.5px,#180e0c 10px,#120c0a 47.5px,#140d0b 48px,#2b1412 48.5px,#9a211b 49px,#dc2a1c 49.5px,#d92a1c 54px,#c9271c 55px,#7b1d18 57px,#2e1412 59px,#180e0c 60.5px,#120c0a 72px,#140d0b 98.5px,#180e0c 99px,#251210 99.5px,#431714 100px,#8f1f1a 101px,#ab231b 101.5px,#b9251c 102px,#bf261c 103px,#ab241c 105px,#7e1d19 107px,#2c1412 110px,#170d0b 112px,#120c0a 133.5px,#160d0b 149.5px,#24110f 150.5px,#481815 151.5px,#871e19 153px,#9f221b 154px,#9e211b 155.5px,#711c18 158px,#271210 161.5px,#170d0b 163.5px,#120c0a 191px,#180e0c 200.5px,#2e1412 202px,#7c1d18 204.5px,#93201a 206px,#8c1f1a 207.5px,#2b1412 212.5px,#170e0c 215px,#120c0a 239.5px,#180e0c 251px,#2f1412 253px,#821e19 256.5px,#8c1f1a 258px,#7f1d19 259.5px,#2b1412 264px,#180e0c 266.5px,#120c0a 287px,#180e0c 301.5px,#291311 303.5px,#7a1d18 307.5px,#881e19 309px,#7b1d18 311px,#271311 316px,#160d0b 319px,#140d0b 350px,#1d0f0d 352.5px,#3a1613 354.5px,#771c18 357.5px,#851e19 359px,#7a1d18 361px,#281311 366px,#170d0b 369px,#140d0b 400px,#1c0f0d 402.5px,#381613 404.5px,#7c1d19 408px,#851e19 409.5px,#731c18 411.5px,#281311 416px,#170d0b 419px,#140d0b 450px,#20100e 453px,#361513 454.5px,#7b1d18 458px,#841e19 459.5px,#741c18 461.5px,#291311 466px,#170d0b 469px,#120c0a 493px)"></i><i style="top:295.6px;height:10px;background:linear-gradient(90deg,#ffffff 0,#fdf4a8 0.5px,#f8e321 1px,#f79b04 1.5px,#e54111 2px,#dc2a1c 2.5px,#8d1f1a 3.5px,#5e1a16 4.5px,#391613 6px,#22110f 8px,#160d0b 11.5px,#140d0b 48px,#2b1412 48.5px,#9a211b 49px,#dc2a1c 49.5px,#dc2a1c 54px,#d1281c 55px,#a2221b 56.5px,#3f1714 59px,#251210 60px,#160d0b 61.5px,#130c0a 98px,#170e0c 99px,#23110f 99.5px,#3e1614 100px,#891e1a 101px,#a7231b 101.5px,#b7251c 102px,#bf261c 103px,#b0241c 105px,#8a1f1a 107px,#2d1412 110.5px,#180e0c 112.5px,#120c0a 129px,#160d0b 149.5px,#21110f 150.5px,#2d1412 151px,#811e19 153px,#9c211b 154px,#a3221b 155px,#97201a 156.5px,#501915 160px,#281311 162px,#180e0c 164px,#120c0a 183.5px,#160d0b 200px,#22110f 201.5px,#471815 203px,#811e19 205px,#94201a 206.5px,#8b1f1a 208px,#271311 213.5px,#170d0b 216px,#130c0a 248.5px,#1d0f0d 252px,#351513 253.5px,#7c1d19 256.5px,#8c1f1a 258px,#861e19 259.5px,#281311 265px,#170e0c 267.5px,#120c0a 294px,#180e0c 302px,#2c1412 304px,#7c1d18 308px,#881e1a 309.5px,#7d1d19 311.5px,#2a1311 316.5px,#170d0b 319.5px,#130c0a 348.5px,#1b0e0c 352.5px,#331513 354.5px,#791d18 358px,#861e19 359.5px,#7c1d18 361.5px,#2a1412 366.5px,#170d0b 369.5px,#130c0a 398px,#1a0e0c 402.5px,#311512 404.5px,#761c18 408px,#851e19 409.5px,#7c1d18 411.5px,#261210 417px,#160d0b 420px,#150d0b 450.5px,#1d0f0d 453px,#391613 455px,#7c1d18 458.5px,#851e19 460px,#761c18 462px,#271210 467px,#170d0b 470px,#120c0a 493px)"></i><i style="top:305.6px;height:10px;background:linear-gradient(90deg,#ffffff 0,#fdf5ad 0.5px,#f8e52b 1px,#f9a704 1.5px,#e84f0d 2px,#de2b1b 2.5px,#be261c 3px,#97201a 3.5px,#651b17 4.5px,#3e1614 6px,#251210 8px,#170d0b 11.5px,#140d0b 48px,#2b1412 48.5px,#9a211b 49px,#dc2a1c 49.5px,#db2a1c 54.5px,#cf281c 55.5px,#a0221b 57px,#411714 59.5px,#271210 60.5px,#170d0b 62px,#120c0a 85px,#140d0b 98.5px,#21110f 99.5px,#391613 100px,#831e19 101px,#a2221b 101.5px,#b4251c 102px,#c0261c 103px,#af241c 105.5px,#891e1a 107.5px,#301512 111px,#180e0c 113px,#120c0a 126px,#160d0b 149.5px,#1f100e 150.5px,#3b1614 151.5px,#8b1f1a 153.5px,#a0221b 154.5px,#a1221b 156px,#7c1d19 158.5px,#2b1412 162.5px,#170d0b 165px,#120c0a 195.5px,#190e0c 201px,#311512 202.5px,#851e19 205.5px,#95201a 207px,#851e19 209px,#2a1311 214px,#180e0c 216.5px,#120c0a 239.5px,#180e0c 251.5px,#2e1412 253.5px,#7e1d19 257px,#8d1f1a 258.5px,#811e19 260.5px,#2b1412 265.5px,#170d0b 268.5px,#120c0a 297.5px,#1d0f0d 303px,#381613 305px,#7c1d19 308.5px,#891e1a 310.5px,#791d18 312.5px,#291311 317.5px,#170d0b 320.5px,#130c0a 349px,#1c0f0d 353px,#361513 355px,#791d18 358.5px,#871e19 360.5px,#781d18 362.5px,#291311 367.5px,#170d0b 370.5px,#130c0a 399px,#1c0f0d 403px,#341513 405px,#7e1d19 409px,#851e19 411px,#711c18 413px,#2a1311 417.5px,#170e0c 420.5px,#130c0a 448.5px,#1b0f0d 453px,#321513 455px,#7c1d19 459px,#851e19 461px,#721c18 463px,#2a1311 467.5px,#170e0c 470.5px,#120c0a 493px)"></i><i style="top:315.6px;height:10px;background:linear-gradient(90deg,#ffffff 0,#fdf5b2 0.5px,#f9e637 1px,#fab304 1.5px,#eb5e0a 2px,#df2c1a 2.5px,#cb271c 3px,#a2221b 3.5px,#6d1b17 4.5px,#441714 6px,#281311 8px,#170d0b 12px,#140d0b 48px,#2b1412 48.5px,#9a211b 49px,#dc2a1c 49.5px,#da2a1c 55px,#cd281c 56px,#8d1f1a 58px,#361513 60.5px,#1b0f0d 62px,#120c0a 67.5px,#140d0b 98.5px,#1f100e 99.5px,#341513 100px,#9c211b 101.5px,#b1241c 102px,#c0261c 103px,#b4251c 105.5px,#95201a 107.5px,#2a1412 112px,#180e0c 114px,#120c0a 131.5px,#150d0b 149.5px,#1c0f0d 150.5px,#351513 151.5px,#841e19 153.5px,#9d211b 154.5px,#a4221b 156px,#871e19 158.5px,#281311 163.5px,#170d0b 166px,#130c0a 199px,#1c0f0d 201.5px,#381613 203px,#7f1d19 205.5px,#94201a 207px,#92201a 208.5px,#6d1b17 211px,#281311 215px,#170e0c 217.5px,#120c0a 244px,#190e0c 252px,#321513 254px,#801d19 257.5px,#8e1f1a 259px,#841e19 261px,#2a1311 266.5px,#170d0b 269.5px,#120c0a 298px,#1b0f0d 303px,#311512 305px,#7d1d19 309px,#8a1f1a 311px,#7d1d19 313px,#291311 318.5px,#170e0c 321.5px,#130c0a 349px,#1e100e 353.5px,#381613 355.5px,#801d19 359.5px,#881e19 361.5px,#6e1b17 364px,#291311 368.5px,#170e0c 371.5px,#130c0a 398.5px,#1d0f0d 403.5px,#361513 405.5px,#7e1d19 409.5px,#871e19 411.5px,#751c18 413.5px,#291311 418.5px,#170e0c 421.5px,#130c0a 448.5px,#1c0f0d 453.5px,#341513 455.5px,#7c1d19 459.5px,#861e19 461.5px,#761c18 463.5px,#2a1311 468.5px,#180e0c 471.5px,#120c0a 493px)"></i><i style="top:325.6px;height:10px;background:linear-gradient(90deg,#ffffff 0,#fdf6b7 0.5px,#fae843 1px,#fbbf04 1.5px,#ee6e08 2px,#e13118 2.5px,#d5291c 3px,#8e1f1a 4px,#641a17 5px,#401714 6.5px,#271311 8.5px,#170d0b 12.5px,#140d0b 48px,#2b1412 48.5px,#9a211b 49px,#dc2a1c 49.5px,#d9291c 55.5px,#cd281c 56.5px,#901f1a 58.5px,#3b1614 61px,#251210 62px,#170d0b 63.5px,#120c0a 85px,#160d0b 99px,#1d0f0d 99.5px,#2f1412 100px,#95201a 101.5px,#ad241c 102px,#c0261c 103px,#b8251c 105.5px,#96201a 108px,#281311 113px,#170e0c 115px,#120c0a 137.5px,#170d0b 150px,#23110f 151px,#411714 152px,#8c1f1a 154px,#a0221b 155px,#a4221b 156.5px,#891e1a 159px,#2c1412 164px,#180e0c 166.5px,#120c0a 186.5px,#170e0c 201px,#271210 202.5px,#821e19 206px,#96201a 207.5px,#93201a 209px,#711c18 211.5px,#281311 216px,#160d0b 219px,#150d0b 250.5px,#1f100e 253px,#361513 254.5px,#811e19 258px,#8f1f1a 260px,#811e19 262px,#2a1311 267.5px,#170e0c 270.5px,#120c0a 297.5px,#1c0f0d 303.5px,#321513 305.5px,#821e19 310px,#8b1f1a 312px,#741c18 314.5px,#291311 319.5px,#170d0b 323px,#140d0b 350.5px,#1f100e 354px,#391613 356px,#801d19 360px,#891e1a 362px,#741c18 364.5px,#2a1311 369.5px,#170d0b 373px,#140d0b 400.5px,#1e100e 404px,#371613 406px,#7e1d19 410px,#881e1a 412px,#741c18 414.5px,#2a1311 419.5px,#170d0b 423px,#140d0b 450.5px,#1e0f0d 454px,#361513 456px,#7c1d19 460px,#881e19 462px,#751c18 464.5px,#2b1412 469.5px,#170d0b 473px,#120c0a 493px)"></i><i style="top:335.6px;height:10px;background:linear-gradient(90deg,#ffffff 0,#fef6bc 0.5px,#fae94f 1px,#facb06 1.5px,#f17e06 2px,#e33a13 2.5px,#dc2a1c 3px,#9b211b 4px,#6d1b17 5px,#471815 6.5px,#271311 9px,#170e0c 13px,#140d0b 48px,#2b1412 48.5px,#9a211b 49px,#dc2a1c 49.5px,#d9291c 56px,#c2261c 57.5px,#361513 62px,#1d0f0d 63.5px,#120c0a 68px,#160d0b 99px,#1b0f0d 99.5px,#2b1412 100px,#8d1f1a 101.5px,#a7231b 102px,#bf261c 103px,#bc261c 105.5px,#a2221b 108px,#2d1412 113.5px,#170e0c 116px,#120c0a 140px,#160d0b 150px,#20100e 151px,#3a1613 152px,#841e19 154px,#a3221b 155.5px,#a5231b 157px,#8b1f1a 159.5px,#2b1412 165px,#180e0c 167.5px,#120c0a 187px,#170d0b 201px,#2b1412 203px,#841e19 206.5px,#97201a 208px,#91201a 210px,#5e1a16 213.5px,#281311 217px,#170d0b 220px,#140c0a 250px,#1c0f0d 253px,#381613 255px,#811e19 258.5px,#911f1a 260.5px,#861e19 262.5px,#271210 269px,#170d0b 272px,#130c0a 300px,#1d0f0d 304px,#331513 306px,#811e19 310.5px,#8d1f1a 312.5px,#7b1d18 315px,#271311 321px,#170d0b 324.5px,#150d0b 351.5px,#20100e 354.5px,#3a1613 356.5px,#7e1d19 360.5px,#8b1f1a 362.5px,#7b1d18 365px,#281311 371px,#170d0b 374.5px,#150d0b 401.5px,#1f100e 404.5px,#381613 406.5px,#7c1d19 410.5px,#8a1f1a 412.5px,#7b1d18 415px,#281311 421px,#170d0b 424.5px,#150d0b 451.5px,#1e100e 454.5px,#361513 456.5px,#811e19 461px,#891e1a 463px,#751c18 465.5px,#281311 471px,#170d0b 474.5px,#120c0a 493px)"></i><i style="top:345.6px;height:6px;background:linear-gradient(90deg,#ffffff 0,#fef7c0 0.5px,#fbea58 1px,#f9d409 1.5px,#f48b05 2px,#e64510 2.5px,#de2b1b 3px,#c9271c 3.5px,#8a1f1a 4.5px,#641a17 5.5px,#3c1614 7.5px,#24110f 10px,#170d0b 14.5px,#140d0b 48px,#2b1412 48.5px,#9a211b 49px,#dc2a1c 49.5px,#d8291c 56.5px,#c1261c 58px,#2e1412 63px,#180e0c 65px,#120c0a 80.5px,#150d0b 99px,#190e0c 99.5px,#281311 100px,#651a17 101px,#a2221b 102px,#b4251c 102.5px,#c1261c 103.5px,#b8251c 106.5px,#9a211b 109px,#2a1311 114.5px,#170d0b 117px,#120c0a 147px,#180e0c 150.5px,#331513 152px,#8c1f1a 154.5px,#a5231b 156px,#a3221b 158px,#7e1d19 161px,#2a1311 166px,#180e0c 168.5px,#120c0a 190px,#180e0c 201.5px,#301512 203.5px,#871e19 207px,#98211b 208.5px,#93201a 210.5px,#621a17 214px,#271311 218px,#170d0b 221px,#130c0a 250px,#1e100e 253.5px,#3b1614 255.5px,#811e19 259px,#92201a 261px,#891e1a 263px,#271210 270px,#170e0c 273px,#130c0a 300px,#1e100e 304.5px,#341513 306.5px,#811e19 311px,#8e1f1a 313px,#801d19 315.5px,#281311 322px,#170d0b 325.5px,#140d0b 351px,#1d0f0d 354.5px,#321513 356.5px,#7e1d19 361px,#8c1f1a 363px,#7f1d19 365.5px,#281311 372px,#170d0b 375.5px,#140d0b 401px,#1c0f0d 404.5px,#391613 407px,#821e19 411.5px,#8b1f1a 413.5px,#7a1d18 416px,#291311 422px,#170d0b 425.5px,#140d0b 451px,#1c0f0d 454.5px,#371613 457px,#811e19 461.5px,#8b1f1a 463.5px,#7a1d18 466px,#291311 472px,#170d0b 475.5px,#120c0a 493px)"></i><i style="top:351.6px;height:6px;background:linear-gradient(90deg,#ffffff 0,#fef7c3 0.5px,#fbeb5f 1px,#f8db0b 1.5px,#f69605 2px,#e8500d 2.5px,#df2c1a 3px,#d2281c 3.5px,#92201a 4.5px,#6a1b17 5.5px,#401714 7.5px,#261210 10px,#170d0b 14.5px,#140d0b 48px,#2b1412 48.5px,#99211b 49px,#dc2a1c 49.5px,#db2a1c 56.5px,#ca271c 58px,#861e19 60.5px,#301512 63.5px,#180e0c 65.5px,#120c0a 78.5px,#150d0b 99px,#190e0c 99.5px,#261210 100px,#5f1a16 101px,#9d211b 102px,#b1241c 102.5px,#c1261c 103.5px,#bb261c 106.5px,#a2221b 109px,#2c1412 115px,#180e0c 117.5px,#120c0a 139px,#170e0c 150.5px,#2f1412 152px,#871e19 154.5px,#a4221b 156px,#a6231b 158px,#871e19 161px,#271210 167px,#160d0b 170px,#150d0b 200.5px,#1e100e 202.5px,#371513 204px,#821e19 207px,#9a211b 209px,#94201a 211px,#5d1a16 215px,#2a1311 218.5px,#180e0c 221.5px,#120c0a 248px,#1c0f0d 253.5px,#351513 255.5px,#831e19 259.5px,#93201a 261.5px,#851e19 264px,#2a1311 270.5px,#170d0b 274px,#130c0a 300.5px,#1c0f0d 304.5px,#371513 307px,#821e19 311.5px,#8f1f1a 314px,#7d1d19 316.5px,#271311 323px,#170d0b 326.5px,#140d0b 351.5px,#1f100e 355px,#351513 357px,#7f1d19 361.5px,#8d1f1a 364px,#7d1d19 366.5px,#281311 373px,#170d0b 376.5px,#140d0b 401.5px,#1e100e 405px,#331513 407px,#831e19 412px,#8b1f1a 414.5px,#761c18 417px,#281311 423px,#170d0b 426.5px,#140d0b 451.5px,#1d0f0d 455px,#3a1613 457.5px,#811e19 462px,#8b1f1a 464.5px,#771c18 467px,#281311 473px,#170d0b 476.5px,#120c0a 493px)"></i><i style="top:357.6px;height:6px;background:linear-gradient(90deg,#ffffff 0,#fef8c6 0.5px,#f8df10 1.5px,#f8a004 2px,#ea5b0a 2.5px,#e02f19 3px,#d8291c 3.5px,#9b211b 4.5px,#711c18 5.5px,#441714 7.5px,#281311 10px,#170d0b 15px,#140d0b 48px,#2b1412 48.5px,#99211b 49px,#dc2a1c 49.5px,#da2a1c 57px,#c9271c 58.5px,#861e19 61px,#331513 64px,#190e0c 66px,#120c0a 77px,#150d0b 99px,#180e0c 99.5px,#24110f 100px,#3a1613 100.5px,#98211b 102px,#ae241c 102.5px,#c1261c 103.5px,#be261c 106.5px,#a2221b 109.5px,#281311 116px,#170d0b 118.5px,#120c0a 148px,#1a0e0c 151px,#2b1412 152px,#8e1f1a 155px,#a7231b 156.5px,#a6231b 158.5px,#801d19 162px,#291311 167.5px,#170d0b 170.5px,#130c0a 199px,#1c0f0d 202.5px,#321513 204px,#851e19 207.5px,#9b211b 209.5px,#95201a 211.5px,#601a16 215.5px,#281311 219.5px,#170e0c 222.5px,#130c0a 249px,#1a0e0c 253.5px,#301412 255.5px,#851e19 260px,#94201a 262px,#871e19 264.5px,#291311 271.5px,#170d0b 275px,#140c0a 301px,#1d0f0d 305px,#391613 307.5px,#821e19 312px,#901f1a 314.5px,#811e19 317px,#2b1412 323.5px,#170d0b 327.5px,#140d0b 351.5px,#1c0f0d 355px,#371513 357.5px,#801d19 362px,#8e1f1a 364.5px,#801d19 367px,#271311 374px,#170d0b 377.5px,#140d0b 401.5px,#20100e 405.5px,#351513 407.5px,#831e19 412.5px,#8d1f1a 415px,#7a1d18 417.5px,#281311 424px,#170d0b 427.5px,#140d0b 451.5px,#1f100e 455.5px,#341513 457.5px,#821e19 462.5px,#8c1f1a 465px,#7b1d18 467.5px,#281311 474px,#170e0c 477.5px,#120c0a 493px)"></i><i style="top:363.6px;height:6px;background:linear-gradient(90deg,#ffffff 0,#fef8c8 0.5px,#f8e117 1.5px,#f9aa04 2px,#ed6808 2.5px,#e23516 3px,#dc2a1c 3.5px,#8b1f1a 5px,#5c1a16 6.5px,#351513 9px,#1c0f0d 13px,#120c0a 30.5px,#140d0b 48px,#2b1412 48.5px,#99211b 49px,#dc2a1c 49.5px,#d92a1c 57.5px,#c8271c 59px,#7a1d18 62px,#2d1412 65px,#180e0c 67px,#120c0a 81.5px,#150d0b 99px,#22110f 100px,#351513 100.5px,#92201a 102px,#aa231b 102.5px,#c0261c 103.5px,#c2261c 106px,#a9231b 109.5px,#6d1b17 113px,#2b1412 116.5px,#180e0c 119px,#120c0a 139px,#160d0b 150.5px,#281311 152px,#891e1a 155px,#a5231b 156.5px,#a9231b 158.5px,#901f1a 161.5px,#281311 168.5px,#170d0b 171.5px,#140c0a 200px,#1f100e 203px,#381613 204.5px,#891e1a 208px,#9c211b 210px,#92201a 212.5px,#271311 220.5px,#170d0b 224px,#150d0b 251.5px,#21100e 254.5px,#3c1614 256.5px,#861e19 260.5px,#95201a 262.5px,#8a1f1a 265px,#291311 272.5px,#170e0c 276px,#140c0a 301px,#1f100e 305.5px,#331513 307.5px,#821e19 312.5px,#92201a 315px,#851e19 317.5px,#281311 325px,#170e0c 328.5px,#140d0b 351.5px,#1e0f0d 355.5px,#391613 358px,#851e19 363px,#8f1f1a 365.5px,#791d18 368.5px,#281311 375px,#170e0c 378.5px,#140d0b 401.5px,#1d0f0d 405.5px,#371513 408px,#831e19 413px,#8e1f1a 415.5px,#791d18 418.5px,#281311 425px,#170d0b 429px,#150d0b 452.5px,#20100e 456px,#3d1614 458.5px,#821e19 463px,#8e1f1a 465.5px,#7f1d19 468px,#291311 475px,#170d0b 479px,#120c0a 493px)"></i><i style="top:369.6px;height:6px;background:linear-gradient(90deg,#ffffff 0,#fef8cb 0.5px,#f8e21d 1.5px,#fab404 2px,#ef7507 2.5px,#e43b12 3px,#de2b1b 3.5px,#ce281c 4px,#94201a 5px,#621a17 6.5px,#391613 9px,#23110f 12px,#160d0b 17.5px,#140d0b 48px,#2b1412 48.5px,#99211b 49px,#dc2a1c 49.5px,#d9291c 58px,#c8271c 59.5px,#7d1d19 62.5px,#321513 65.5px,#180e0c 68px,#120c0a 85.5px,#150d0b 99px,#20100e 100px,#311512 100.5px,#8c1f1a 102px,#a5231b 102.5px,#bf261c 103.5px,#c4271c 105.5px,#b4251c 109px,#8c1f1a 112px,#291311 117.5px,#180e0c 120px,#120c0a 142.5px,#180e0c 151px,#301412 152.5px,#901f1a 155.5px,#a8231b 157px,#aa231b 159px,#8c1f1a 162.5px,#271210 169.5px,#170d0b 172.5px,#130c0a 200px,#1d0f0d 203px,#311513 204.5px,#8b1f1a 208.5px,#9e211b 210.5px,#94201a 213px,#4c1815 218.5px,#271311 221.5px,#170d0b 225px,#140d0b 251.5px,#1e100e 254.5px,#361513 256.5px,#871e19 261px,#97201a 263.5px,#891e1a 266px,#291311 273.5px,#170d0b 277.5px,#150d0b 302.5px,#20100e 306px,#341513 308px,#881e19 313.5px,#93201a 316px,#7f1d19 319px,#291311 326px,#170d0b 330px,#150d0b 352.5px,#1f100e 356px,#3a1613 358.5px,#851e19 363.5px,#91201a 366px,#7e1d19 369px,#291311 376px,#170d0b 380px,#140d0b 402.5px,#1e100e 406px,#381613 408.5px,#831e19 413.5px,#901f1a 416px,#7e1d19 419px,#291311 426px,#170d0b 430px,#140d0b 452.5px,#1d0f0d 456px,#361513 458.5px,#821e19 463.5px,#901f1a 466px,#7f1d19 469px,#2a1311 476px,#170e0c 480px,#120c0a 493px)"></i><i style="top:375.6px;height:6px;background:linear-gradient(90deg,#ffffff 0,#fef9ce 0.5px,#fcef7e 1px,#f8e424 1.5px,#fbbf04 2px,#e6480f 3px,#df2c1a 3.5px,#d5291c 4px,#891e1a 5.5px,#5e1a16 7px,#331513 10px,#190e0c 15px,#120c0a 47.5px,#140d0b 48px,#2b1412 48.5px,#99211b 49px,#dc2a1c 49.5px,#d9291c 58.5px,#c9271c 60px,#821e19 63px,#2e1412 66.5px,#180e0c 69px,#120c0a 89.5px,#170d0b 99.5px,#2c1412 100.5px,#9f221b 102.5px,#bd261c 103.5px,#c6271c 105.5px,#b5251c 109.5px,#901f1a 112.5px,#291311 118.5px,#170d0b 121.5px,#130c0a 149.5px,#1b0f0d 151.5px,#2b1412 152.5px,#891e1a 155.5px,#a5231b 157px,#ac241c 159px,#94201a 162.5px,#271210 170.5px,#170d0b 173.5px,#130c0a 200px,#1a0e0c 203px,#361513 205px,#8d1f1a 209px,#9f221b 211px,#97201a 213.5px,#5a1916 218.5px,#281311 222.5px,#170d0b 226px,#140d0b 251.5px,#1f100e 255px,#381613 257px,#871e19 261.5px,#99211b 264px,#8d1f1a 266.5px,#271210 275px,#170d0b 279px,#150d0b 303px,#20100e 306.5px,#3c1614 309px,#871e19 314px,#95201a 316.5px,#851e19 319.5px,#2b1412 327px,#170d0b 331.5px,#150d0b 353px,#20100e 356.5px,#3a1613 359px,#841e19 364px,#93201a 366.5px,#841e19 369.5px,#271311 377.5px,#170d0b 381.5px,#150d0b 403px,#1f100e 406.5px,#381613 409px,#831e19 414px,#92201a 416.5px,#841e19 419.5px,#281311 427.5px,#170d0b 431.5px,#150d0b 453px,#1e100e 456.5px,#371513 459px,#861e19 464.5px,#91201a 467px,#7f1d19 470px,#281311 477.5px,#170d0b 481.5px,#120c0a 493px)"></i><i style="top:381.6px;height:6px;background:linear-gradient(90deg,#ffffff 0,#fef9d1 0.5px,#fcf086 1px,#f9e530 1.5px,#fac905 2px,#e9550b 3px,#e13018 3.5px,#dc2a1c 4px,#92201a 5.5px,#641a17 7px,#3d1614 9.5px,#251210 12.5px,#170d0b 18.5px,#140d0b 48px,#2b1412 48.5px,#99211b 49px,#dc2a1c 49.5px,#d9291c 59px,#cb271c 60.5px,#881e1a 63.5px,#361513 67px,#190e0c 69.5px,#120c0a 82.5px,#160d0b 99.5px,#1b0f0d 100px,#291311 100.5px,#99211b 102.5px,#bb261c 103.5px,#c7271c 105px,#ba261c 109.5px,#94201a 113px,#291311 119.5px,#170d0b 122.5px,#130c0a 149.5px,#190e0c 151.5px,#331513 153px,#8f1f1a 156px,#a8231b 157.5px,#ac241c 160px,#92201a 163.5px,#281311 171.5px,#170d0b 175px,#140d0b 201px,#1d0f0d 203.5px,#3a1613 205.5px,#8e1f1a 209.5px,#a0221b 211.5px,#9a211b 214px,#671b17 218.5px,#291311 223.5px,#170d0b 227.5px,#140d0b 252px,#1d0f0d 255px,#391613 257.5px,#871e19 262px,#9a211b 264.5px,#92201a 267px,#291311 276px,#170d0b 280px,#150d0b 303px,#21100e 307px,#3c1614 309.5px,#8b1f1a 315px,#97201a 317.5px,#871e19 320.5px,#2a1311 328.5px,#170d0b 333px,#150d0b 353.5px,#20100e 357px,#3a1613 359.5px,#881e1a 365px,#95201a 367.5px,#861e19 370.5px,#2a1311 378.5px,#170d0b 383px,#150d0b 403.5px,#1f100e 407px,#381613 409.5px,#861e19 415px,#94201a 417.5px,#861e19 420.5px,#2a1311 428.5px,#170d0b 433px,#150d0b 453.5px,#1f100e 457px,#371513 459.5px,#851e19 465px,#93201a 467.5px,#861e19 470.5px,#281311 479px,#170d0b 483.5px,#120c0a 493px)"></i><i style="top:387.6px;height:6px;background:linear-gradient(90deg,#ffffff 0,#fefad4 0.5px,#fcf18e 1px,#f9e73b 1.5px,#f9d308 2px,#f79c04 2.5px,#ec6409 3px,#e33814 3.5px,#de2b1b 4px,#d1281c 4.5px,#9d211b 5.5px,#6c1b17 7px,#421714 9.5px,#281311 12.5px,#170e0c 18.5px,#140d0b 48px,#2b1412 48.5px,#99211b 49px,#dc2a1c 49.5px,#d92a1c 59.5px,#c5271c 61.5px,#771c18 65px,#2d1412 68.5px,#180e0c 71px,#120c0a 90px,#160d0b 99.5px,#190e0c 100px,#261210 100.5px,#571916 101.5px,#a8231b 103px,#c0261c 104px,#c8271c 106px,#b8251c 110.5px,#92201a 114px,#2a1311 120.5px,#170e0c 123.5px,#130c0a 149px,#1d0f0d 152px,#2c1412 153px,#93201a 156.5px,#aa231b 158px,#ae241c 160.5px,#91201a 164.5px,#291311 172.5px,#170e0c 176px,#130c0a 200.5px,#1f100e 204px,#331513 205.5px,#8f1f1a 210px,#a2221b 212px,#9e211b 214.5px,#701c17 219px,#281311 225px,#170d0b 229px,#150d0b 252.5px,#21110f 256px,#3a1613 258px,#8c1f1a 263px,#9c211b 265.5px,#8f1f1a 268.5px,#291311 277.5px,#170d0b 282px,#150d0b 304px,#21100e 307.5px,#3a1613 310px,#891e1a 315.5px,#98211b 318px,#8e1f1a 321px,#2a1311 330px,#170e0c 334.5px,#150d0b 353.5px,#20100e 357.5px,#391613 360px,#861e19 365.5px,#97201a 368.5px,#891e1a 371.5px,#2a1311 380px,#170e0c 384.5px,#150d0b 404px,#1f100e 407.5px,#371513 410px,#8a1f1a 416px,#96201a 418.5px,#881e1a 421.5px,#281311 430.5px,#170d0b 435px,#160d0b 454.5px,#22110f 458px,#3d1614 460.5px,#881e1a 466px,#95201a 469px,#7f1d19 472.5px,#281311 480.5px,#170d0b 485px,#130c0a 493px)"></i><i style="top:393.6px;height:6px;background:linear-gradient(90deg,#ffffff 0,#fefad7 0.5px,#fdf296 1px,#fae847 1.5px,#f8dc0c 2px,#f9a904 2.5px,#e54310 3.5px,#df2d1a 4px,#d92a1c 4.5px,#95201a 6px,#691b17 7.5px,#3d1614 10.5px,#251210 14px,#170d0b 20px,#140d0b 48px,#2b1412 48.5px,#99211b 49px,#dc2a1c 49.5px,#da2a1c 60px,#c9271c 62px,#821e19 65.5px,#2e1412 69.5px,#170e0c 72.5px,#120c0a 97.5px,#180e0c 100px,#341513 101px,#a1221b 103px,#be261c 104px,#c9271c 105.5px,#bd261c 110.5px,#9f221b 114px,#2c1412 121.5px,#170d0b 125px,#130c0a 149.5px,#1a0e0c 152px,#331513 153.5px,#8c1f1a 156.5px,#a7231b 158px,#b1241c 160px,#a0221b 164px,#661b17 169px,#281311 174px,#170e0c 177.5px,#140c0a 201px,#1c0f0d 204px,#351513 206px,#8f1f1a 210.5px,#a4221b 213px,#9b211b 216px,#601a16 221.5px,#281311 226.5px,#170d0b 230.5px,#150d0b 253px,#1e100e 256px,#3a1613 258.5px,#8b1f1a 263.5px,#9e211b 266px,#95201a 269px,#471815 276px,#261210 279.5px,#170d0b 283.5px,#150d0b 304px,#21100e 308px,#391613 310.5px,#8b1f1a 316.5px,#9b211b 319.5px,#8d1f1a 322.5px,#281311 332px,#170d0b 336.5px,#150d0b 354.5px,#20100e 358px,#371513 360.5px,#891e1a 366.5px,#99211b 369.5px,#8c1f1a 372.5px,#291311 382px,#170d0b 386.5px,#150d0b 404.5px,#1f100e 408px,#3c1614 411px,#871e19 416.5px,#98211b 419.5px,#8c1f1a 422.5px,#291311 432px,#170e0c 436.5px,#160d0b 455px,#22110f 458.5px,#3b1614 461px,#8b1f1a 467px,#98201a 470px,#841e19 473.5px,#291311 482px,#170e0c 486.5px,#130c0a 493px)"></i><i style="top:399.6px;height:6px;background:linear-gradient(90deg,#ffffff 0,#fefada 0.5px,#fdf39e 1px,#fae953 1.5px,#f8e014 2px,#fab604 2.5px,#e9530c 3.5px,#e13217 4px,#dd2b1b 4.5px,#d0281c 5px,#8e1f1a 6.5px,#671b17 8px,#3e1614 11px,#261210 14.5px,#170d0b 21px,#140d0b 48px,#2b1412 48.5px,#99211b 49px,#dc2a1c 49.5px,#d9291c 61px,#c7271c 63px,#771c18 67px,#2b1412 71px,#170d0b 74px,#130c0a 98.5px,#180e0c 100px,#2e1412 101px,#98211b 103px,#ba261c 104px,#c9271c 105.5px,#c0261c 111px,#9f221b 115px,#2a1311 123px,#170e0c 126.5px,#140c0a 150px,#1d0f0d 152.5px,#2c1412 153.5px,#8f1f1a 157px,#a9231b 158.5px,#b3251c 161px,#9d211b 165.5px,#571916 171.5px,#281311 175.5px,#170d0b 179.5px,#150d0b 202px,#1d0f0d 204.5px,#371513 206.5px,#8f1f1a 211px,#a6231b 213.5px,#a1221b 216.5px,#711c18 221.5px,#291311 228px,#170d0b 232.5px,#150d0b 253.5px,#1e100e 256.5px,#391613 259px,#8e1f1a 264.5px,#a0221b 267px,#99211b 270px,#5a1a16 276px,#281311 281px,#170d0b 285.5px,#150d0b 304.5px,#20100e 308.5px,#3d1614 311.5px,#8d1f1a 317.5px,#9d211b 320.5px,#92201a 323.5px,#281311 334px,#170d0b 339px,#150d0b 355px,#1f100e 358.5px,#3b1614 361.5px,#8b1f1a 367.5px,#9b211b 370.5px,#91201a 373.5px,#281311 384px,#170d0b 389px,#160d0b 405.5px,#22110f 409px,#3a1613 411.5px,#891e1a 417.5px,#9a211b 420.5px,#911f1a 423.5px,#281311 434px,#170d0b 439px,#170d0b 456.5px,#2c1412 460.5px,#8c1f1a 468px,#9a211b 471px,#891e1a 474.5px,#291311 484px,#170d0b 489px,#140d0b 493px)"></i><i style="top:405.6px;height:6px;background:linear-gradient(90deg,#ffffff 0,#fefbdc 0.5px,#fdf4a5 1px,#f8e21d 2px,#fbc404 2.5px,#ec6509 3.5px,#e43b12 4px,#df2c1a 4.5px,#d92a1c 5px,#8a1f1a 7px,#5e1a16 9px,#361513 12.5px,#1e100e 17.5px,#130c0a 32.5px,#140d0b 48px,#2b1412 48.5px,#99211b 49px,#dc2a1c 49.5px,#da2a1c 61.5px,#c6271c 64px,#7a1d18 68px,#301512 72px,#180e0c 75px,#120c0a 94.5px,#170d0b 100px,#291311 101px,#a5221b 103.5px,#c0261c 104.5px,#cb271c 106.5px,#be261c 112.5px,#9b211b 116.5px,#2b1412 124.5px,#180e0c 128px,#130c0a 150px,#1a0e0c 152.5px,#311513 154px,#911f1a 157.5px,#af241c 159.5px,#b4251c 162.5px,#9b211b 167px,#2a1311 177px,#170e0c 181px,#140d0b 202px,#1e100e 205px,#371513 207px,#8d1f1a 211.5px,#a7231b 214px,#a6231b 217px,#7d1d19 222px,#281311 230px,#170d0b 234.5px,#150d0b 254px,#22110f 257.5px,#3e1614 260px,#911f1a 265.5px,#a3221b 268.5px,#96201a 272px,#281311 283px,#170d0b 287.5px,#150d0b 305px,#1f100e 309px,#391613 312px,#8d1f1a 318.5px,#a0221b 321.5px,#95201a 325px,#291311 336px,#170d0b 341px,#150d0b 355.5px,#22110f 359.5px,#3e1614 362.5px,#901f1a 369px,#9e221b 372px,#901f1a 375.5px,#291311 386px,#170d0b 391px,#170d0b 406.5px,#271311 410.5px,#8e1f1a 419px,#9d211b 422px,#901f1a 425.5px,#291311 436px,#170e0c 441px,#180e0c 457.5px,#2f1412 461.5px,#8d1f1a 469px,#9d211b 472px,#901f1a 475.5px,#2a1311 486px,#170e0c 491px,#150d0b 493px)"></i><i style="top:411.6px;height:6px;background:linear-gradient(90deg,#ffffff 0,#fefbdf 0.5px,#fdf4ac 1px,#f8e529 2px,#fad108 2.5px,#f07806 3.5px,#e74d0d 4px,#e13217 4.5px,#d3291c 5.5px,#98201a 7px,#671b17 9px,#3c1614 12.5px,#251210 16.5px,#170d0b 24px,#140d0b 48px,#2b1412 48.5px,#99211b 49px,#dc2a1c 49.5px,#da2a1c 62.5px,#c6271c 65px,#761c18 69.5px,#311512 73.5px,#180e0c 77px,#130c0a 98.5px,#1a0e0c 100.5px,#361513 101.5px,#9b211b 103.5px,#bb261c 104.5px,#cb271c 106px,#c3271c 112.5px,#a4221b 117px,#291311 126.5px,#170d0b 130.5px,#140d0b 151px,#1d0f0d 153px,#351513 154.5px,#9c211b 158.5px,#b3251c 160.5px,#b4251c 164px,#96201a 169px,#291311 179px,#170d0b 183.5px,#150d0b 203px,#23110f 206px,#401714 208px,#92201a 212.5px,#a9231b 215px,#a7231b 218.5px,#791d18 224px,#281311 232px,#170d0b 236.5px,#150d0b 254.5px,#21110f 258px,#3b1613 260.5px,#92201a 266.5px,#a6231b 269.5px,#9c211b 273px,#531916 280.5px,#271210 285.5px,#170d0b 290.5px,#160d0b 306.5px,#24110f 310.5px,#471815 314px,#92201a 320px,#a3221b 323.5px,#96201a 327px,#291311 338.5px,#170d0b 344px,#170d0b 357px,#261210 361px,#591916 365.5px,#94201a 370.5px,#a1221b 374px,#911f1a 377.5px,#291311 388.5px,#170d0b 394px,#180e0c 408px,#321513 412.5px,#92201a 420.5px,#a0221b 424px,#911f1a 427.5px,#291311 438.5px,#170d0b 444px,#1a0e0c 459px,#371513 463px,#91201a 470.5px,#a0221b 474px,#911f1a 477.5px,#291311 488.5px,#180e0c 493px)"></i><i style="top:417.6px;height:4px;background:linear-gradient(90deg,#ffffff 0,#fefbe1 0.5px,#fdf5b1 1px,#f9e636 2px,#f8db0b 2.5px,#fab204 3px,#eb5d0a 4px,#e43a13 4.5px,#df2c1a 5px,#dc2a1c 5.5px,#94201a 7.5px,#671b17 9.5px,#3e1614 13px,#261210 17px,#170d0b 25px,#140d0b 48px,#2b1412 48.5px,#99211b 49px,#dc2a1c 49.5px,#d92a1c 63.5px,#c6271c 66px,#7b1d18 70.5px,#301512 75px,#180e0c 78.5px,#130c0a 98.5px,#190e0c 100.5px,#2f1412 101.5px,#a6231b 104px,#c1261c 105px,#ce281c 107px,#c2261c 114px,#a1221b 118.5px,#2a1311 128px,#170e0c 132px,#140d0b 151px,#1f100e 153.5px,#391613 155px,#93201a 158.5px,#b1241c 160.5px,#b9251c 163.5px,#a1221b 169px,#5a1916 176px,#281311 181px,#170d0b 185.5px,#160d0b 203.5px,#1f100e 206px,#371513 208px,#97201a 213.5px,#ac241c 216px,#aa231b 219.5px,#801d19 225px,#2b1412 233.5px,#170e0c 238.5px,#150d0b 255px,#21100e 258.5px,#391613 261px,#94201a 267.5px,#a8231b 270.5px,#a1221b 274px,#661b17 280.5px,#271311 287.5px,#170d0b 293px,#170d0b 307.5px,#261210 311.5px,#4f1815 315.5px,#97201a 321.5px,#a6231b 325px,#95201a 329px,#2a1311 340.5px,#170e0c 346px,#170d0b 358px,#2b1412 362.5px,#94201a 371.5px,#a4221b 375px,#94201a 379px,#2a1311 390.5px,#170d0b 396.5px,#1a0e0c 409.5px,#351513 413.5px,#93201a 421.5px,#a3221b 425px,#94201a 429px,#2a1412 440.5px,#170d0b 446.5px,#1c0f0d 460px,#331513 463.5px,#92201a 471.5px,#a3221b 475px,#98211b 478.5px,#281311 491px,#1f100e 493px)"></i><i style="top:421.6px;height:4px;background:linear-gradient(90deg,#ffffff 0,#fefbe3 0.5px,#fdf6b6 1px,#f9e741 2px,#f8df11 2.5px,#fabd04 3px,#e6460f 4.5px,#e13018 5px,#d5291c 6px,#8f1f1a 8px,#661b17 10px,#3b1613 14px,#23110f 19px,#160d0b 27.5px,#140d0b 48px,#2b1412 48.5px,#99211b 49px,#dc2a1c 49.5px,#da2a1c 64px,#cb271c 66.5px,#851e19 71px,#2e1412 76.5px,#170d0b 80.5px,#140d0b 99.5px,#1f100e 101px,#2a1311 101.5px,#9e211b 104px,#bd261c 105px,#cd281c 106.5px,#c8271c 113.5px,#ab241c 118.5px,#501915 126px,#261210 130px,#170d0b 134px,#150d0b 151.5px,#1d0f0d 153.5px,#321513 155px,#96201a 159px,#b2251c 161px,#bb261c 164px,#a6231b 169.5px,#6f1c17 175.5px,#281311 182.5px,#170d0b 187px,#150d0b 203.5px,#20100e 206.5px,#401714 209px,#96201a 214px,#af241c 217px,#a9231b 221px,#7a1d18 227px,#291311 235.5px,#170e0c 240.5px,#160d0b 255.5px,#21100e 259px,#381613 261.5px,#97201a 268.5px,#ab231b 272px,#9f221b 276px,#291311 289px,#170d0b 294.5px,#170d0b 308px,#281311 312.5px,#6b1b17 318.5px,#9c211b 323px,#a8231b 326.5px,#97201a 330.5px,#2a1311 342.5px,#170d0b 348.5px,#180e0c 359.5px,#331513 364px,#96201a 372.5px,#a6231b 376px,#9a211b 380px,#2a1311 392.5px,#170d0b 398.5px,#190e0c 410px,#321513 414px,#94201a 422.5px,#a5231b 426px,#99211b 430px,#2b1412 442.5px,#180e0c 448px,#1b0f0d 460.5px,#371513 464.5px,#93201a 472.5px,#a5221b 476px,#9a211b 480px,#291311 493px)"></i><i style="top:425.6px;height:4px;background:linear-gradient(90deg,#ffffff 0,#fefce5 0.5px,#fef6ba 1px,#f8e119 2.5px,#fbc805 3px,#e9550b 4.5px,#e33814 5px,#df2c1a 5.5px,#dc2a1c 6px,#8c1f1a 8.5px,#5f1a16 11px,#351513 15.5px,#1c0f0d 22.5px,#130c0a 47.5px,#140d0b 48px,#2b1412 48.5px,#99211b 49px,#dc2a1c 49.5px,#da2a1c 65px,#ca271c 67.5px,#881e19 72px,#331513 77.5px,#180e0c 81.5px,#140d0b 99.5px,#1c0f0d 101px,#371613 102px,#a9231b 104.5px,#c2261c 105.5px,#d0281c 107.5px,#c5271c 115.5px,#a4221b 120.5px,#2a1311 131px,#170d0b 135.5px,#150d0b 152px,#1f100e 154px,#361513 155.5px,#97201a 159.5px,#b3251c 161.5px,#bd261c 164.5px,#a9231b 170.5px,#6f1c17 177px,#2a1311 184px,#170d0b 189px,#150d0b 204px,#21110f 207px,#401714 209.5px,#9b211b 215px,#b1241c 218px,#ac241c 222px,#801d19 228px,#291311 237.5px,#170d0b 243px,#160d0b 256.5px,#24110f 260px,#431714 263px,#99211b 269.5px,#ad241c 273px,#a3221b 277px,#581916 285.5px,#271210 291.5px,#170d0b 297px,#180e0c 309.5px,#321513 314.5px,#98211b 323.5px,#aa231b 327px,#a1221b 331px,#511915 340px,#271210 345.5px,#170d0b 351.5px,#190e0c 360.5px,#361513 365px,#9a211b 374px,#a9231b 377.5px,#9d211b 381.5px,#291311 395px,#170d0b 401px,#1b0f0d 411px,#351513 415px,#99211b 424px,#a8231b 427.5px,#9c211b 431.5px,#291311 445px,#1b0f0d 450px,#1f100e 462px,#391613 465.5px,#98201a 474px,#a7231b 477.5px,#9c211b 481.5px,#381613 493px)"></i><i style="top:429.6px;height:4px;background:linear-gradient(90deg,#ffffff 0,#fefce6 0.5px,#fef7bf 1px,#f8e322 2.5px,#f9d208 3px,#f38905 4px,#e54310 5px,#e13018 5.5px,#d8291c 6.5px,#8b1f1a 9px,#5f1a16 11.5px,#371513 16px,#20100e 22px,#150d0b 34px,#140d0b 48px,#2b1412 48.5px,#99211b 49px,#dc2a1c 49.5px,#d92a1c 66px,#c5271c 69px,#741c18 74.5px,#2e1412 79.5px,#180e0c 83.5px,#140c0a 99.5px,#1a0e0c 101px,#301512 102px,#a0221b 104.5px,#be261c 105.5px,#cf281c 107px,#cb271c 115px,#af241c 120.5px,#6f1c17 126.5px,#291311 133px,#170d0b 137.5px,#150d0b 152px,#21110f 154.5px,#3a1613 156px,#98211b 160px,#b8251c 162.5px,#be261c 166px,#a9231b 172px,#701c18 178.5px,#291311 186px,#170e0c 191px,#160d0b 204.5px,#21110f 207.5px,#3f1714 210px,#99211b 215.5px,#b2241c 218.5px,#b1241c 222.5px,#8f1f1a 228px,#291311 239.5px,#170e0c 245px,#160d0b 257px,#261210 261px,#541916 265px,#9a211b 270.5px,#af241c 274px,#a8231b 278px,#751c18 284.5px,#2b1412 293px,#170d0b 299.5px,#190e0c 311px,#341513 315.5px,#9c211b 325px,#ad241c 329px,#9e211b 333.5px,#2b1412 347px,#170e0c 353.5px,#1b0f0d 361.5px,#381613 366px,#9a211b 375px,#ab241c 379px,#9d211b 383.5px,#2b1412 397px,#190e0c 403px,#1f100e 412.5px,#361513 416px,#98211b 425px,#ab231b 429px,#9d211b 433.5px,#2c1412 447px,#21110f 451px,#261210 464px,#501915 468.5px,#9b211b 475.5px,#aa231b 479.5px,#9a211b 484px,#4b1815 493px)"></i><i style="top:433.6px;height:4px;background:linear-gradient(90deg,#ffffff 0,#fffce8 0.5px,#fef7c3 1px,#fbeb61 2px,#f8e52e 2.5px,#f8dd0c 3px,#fabb04 3.5px,#e9530c 5px,#e33914 5.5px,#e02d1a 6px,#d4291c 7px,#96201a 9px,#671b17 11.5px,#3d1614 16px,#241210 21.5px,#170d0b 31.5px,#140d0b 48px,#2b1412 48.5px,#99211b 49px,#dc2a1c 49.5px,#d92a1c 67px,#c7271c 70px,#7c1d18 75.5px,#311512 81px,#180e0c 85.5px,#140d0b 100px,#20100e 101.5px,#3c1614 102.5px,#a8231b 105px,#ca271c 106.5px,#d2281c 109px,#c9271c 117px,#ab231b 122.5px,#2b1412 134.5px,#170e0c 139.5px,#150d0b 152.5px,#1e100e 154.5px,#3c1614 156.5px,#a1221b 161px,#bc261c 163.5px,#c0261c 167.5px,#a7231b 174px,#5b1a16 182.5px,#281311 188.5px,#170d0b 194px,#170d0b 205.5px,#251210 208.5px,#4e1815 211.5px,#9c211b 216.5px,#b5251c 220px,#b1241c 224.5px,#861e19 231px,#2b1412 241.5px,#170e0c 247.5px,#180e0c 258.5px,#311512 263px,#9f221b 272px,#b2241c 275.5px,#a9231b 280px,#6d1b17 287.5px,#291311 296px,#170d0b 302.5px,#1a0e0c 312px,#341513 316.5px,#9e221b 326.5px,#b0241c 330.5px,#a3221b 335px,#2a1311 350px,#180e0c 356.5px,#1e100e 363px,#381613 367px,#9c211b 376.5px,#ae241c 380.5px,#a3221b 385px,#2a1311 400px,#1f100e 404.5px,#251210 414.5px,#461715 418.5px,#9b211b 426.5px,#ad241c 430.5px,#a2221b 435px,#2a1412 450px,#2d1412 466px,#9e211b 477px,#ad241c 481px,#9f221b 485.5px,#611a16 493px)"></i><i style="top:437.6px;height:4px;background:linear-gradient(90deg,#ffffff 0,#fffcea 0.5px,#fdf39e 1.5px,#f9e73b 2.5px,#f8e015 3px,#fbc805 3.5px,#ec6509 5px,#e6460f 5.5px,#e23317 6px,#dc2a1c 7px,#8b1f1a 10px,#5d1a16 13px,#331513 18.5px,#190e0c 28px,#140d0b 48px,#2b1412 48.5px,#99211b 49px,#dc2a1c 49.5px,#da2a1c 68px,#c5271c 71.5px,#761c18 77.5px,#2b1412 83.5px,#170e0c 88px,#160d0b 100.5px,#261210 102px,#471815 103px,#af241c 105.5px,#cc281c 107px,#d3281c 111px,#c8271c 119px,#a4221b 125px,#2c1412 136.5px,#170e0c 142px,#160d0b 153px,#241210 155.5px,#481815 157.5px,#a0221b 161.5px,#bc261c 164px,#c3271c 168px,#ac241c 175px,#6f1c17 182.5px,#2a1311 190.5px,#170d0b 196.5px,#170d0b 206px,#291311 209.5px,#a3221b 218px,#b9251c 221.5px,#b2251c 226.5px,#831e19 233.5px,#291311 244.5px,#170d0b 251px,#190e0c 260px,#321513 264px,#9f221b 273px,#b4251c 277px,#ad241c 281.5px,#7a1d18 288.5px,#2a1412 298.5px,#170e0c 305px,#1d0f0d 313.5px,#341513 317.5px,#a0221b 328px,#b3251c 332.5px,#a7231b 337px,#2b1412 353px,#1e0f0d 358px,#23110f 365px,#411714 369px,#9e211b 378px,#b1241c 382.5px,#a6231b 387px,#2b1412 403px,#291311 416px,#4f1915 420.5px,#a0221b 428.5px,#b1241c 433px,#a0221b 438px,#321513 452px,#3a1613 468.5px,#9f221b 478.5px,#b0241c 483px,#a0221b 488px,#7a1d18 493px)"></i><i style="top:441.6px;height:4px;background:linear-gradient(90deg,#ffffff 0,#fffdeb 0.5px,#fdf4a6 1.5px,#f8e31f 3px,#f9d409 3.5px,#f69704 4.5px,#e43d12 6px,#e13018 6.5px,#db2a1c 7.5px,#8d1f1a 10.5px,#601a16 13.5px,#371513 19px,#1f100e 26.5px,#140d0b 44.5px,#140d0b 48px,#2b1412 48.5px,#99211b 49px,#dc2a1c 49.5px,#d92a1c 69.5px,#c5271c 73px,#741c18 79.5px,#2d1412 85.5px,#170e0c 90.5px,#150d0b 100.5px,#22110f 102px,#3d1614 103px,#a4221b 105.5px,#c8271c 107px,#d3291c 109px,#cc281c 119.5px,#ae241c 125.5px,#291311 139.5px,#170d0b 145px,#170d0b 154px,#2b1412 156.5px,#a5231b 162.5px,#bf261c 165px,#c5271c 169.5px,#ac241c 177px,#6e1b17 185px,#281311 193.5px,#170d0b 199.5px,#180e0c 207.5px,#311513 211px,#a4221b 219px,#bb261c 222.5px,#b7251c 227.5px,#93201a 234px,#2b1412 247px,#170d0b 254px,#1c0f0d 261.5px,#381613 265.5px,#a1221b 274.5px,#b7251c 278.5px,#b2251c 283px,#891e1a 289.5px,#2b1412 301.5px,#1b0f0d 307.5px,#21110f 315.5px,#3b1614 319.5px,#a4221b 330px,#b6251c 334.5px,#aa231b 339.5px,#2a1412 356.5px,#261210 361.5px,#2a1311 367.5px,#831e19 376.5px,#ab231b 381.5px,#b4251c 386px,#9d211b 391.5px,#311512 405.5px,#391613 419.5px,#a1221b 430px,#b3251c 434.5px,#a9231b 439.5px,#401714 453.5px,#471815 471px,#a0221b 480px,#b3251c 484.5px,#a9231b 489.5px,#92201a 493px)"></i><i style="top:445.6px;height:4px;background:linear-gradient(90deg,#ffffff 0,#fffded 0.5px,#fdf5ad 1.5px,#f8e52c 3px,#f8df0f 3.5px,#fbc504 4px,#e8510c 6px,#e33a13 6.5px,#e02e19 7px,#db2a1c 8px,#911f1a 11px,#641a17 14px,#3b1613 19.5px,#24110f 26px,#170d0b 37.5px,#140d0b 48px,#2b1412 48.5px,#99211b 49px,#dc2a1c 49.5px,#d92a1c 71px,#c7271c 74.5px,#7d1d19 81px,#2d1412 88px,#170d0b 93.5px,#160d0b 101px,#261210 102.5px,#591916 104px,#a8231b 106px,#ca271c 107.5px,#d5291c 110px,#cc281c 121.5px,#ab241c 128px,#2b1412 142px,#170d0b 148px,#170e0c 154.5px,#2a1311 157px,#a9231b 163.5px,#c4271c 166.5px,#c6271c 172px,#ac241c 179.5px,#621a16 189px,#291311 196.5px,#170d0b 203px,#190e0c 208.5px,#341513 212px,#a3221b 220px,#bd261c 224px,#bc261c 229px,#98211b 236px,#2b1412 250.5px,#190e0c 257px,#1d0f0d 262.5px,#371613 266.5px,#a6231b 276.5px,#bb261c 281px,#b3251c 286px,#7e1d19 294px,#2c1412 305px,#23110f 309px,#291311 318.5px,#731c18 326.5px,#ac241c 333px,#b9251c 338px,#a6231b 343.5px,#301412 359.5px,#371513 370.5px,#a8231b 382.5px,#b8251c 387.5px,#a8231b 393px,#401714 407px,#481815 422.5px,#a6231b 432.5px,#b7251c 437.5px,#a8231b 443px,#511915 455px,#5b1a16 474.5px,#a6231b 482.5px,#b7251c 487.5px,#a8231b 493px)"></i><i style="top:449.6px;height:4px;background:linear-gradient(90deg,#ffffff 0,#fffdef 0.5px,#fdf6b4 1.5px,#f9e73c 3px,#f8e21a 3.5px,#f9d309 4px,#f28206 5.5px,#e74d0e 6.5px,#e33914 7px,#e02e1a 7.5px,#dc2a1c 8.5px,#8c1f1a 12px,#5f1a16 15.5px,#351513 22px,#1c0f0d 32px,#150d0b 48px,#2b1412 48.5px,#99211b 49px,#dc2a1c 49.5px,#da2a1c 72.5px,#c7271c 76.5px,#751c18 84px,#2c1412 91px,#170e0c 96.5px,#170d0b 101.5px,#2a1311 103px,#721c18 105px,#a9231b 106.5px,#cb271c 108px,#d5291c 110.5px,#cd281c 123.5px,#ab231b 130.5px,#2c1412 145px,#170e0c 151.5px,#190e0c 155.5px,#301512 158px,#ab231b 164.5px,#c5271c 167.5px,#ca271c 173px,#b2251c 181px,#781d18 189.5px,#291311 200px,#170e0c 206.5px,#1d0f0d 210px,#341513 213px,#a6231b 221.5px,#c0261c 225.5px,#bf261c 231px,#9c211b 238.5px,#2a1311 254.5px,#20100e 259px,#261210 265.5px,#541916 270.5px,#a9231b 278.5px,#be261c 283px,#b7251c 288.5px,#861e19 296.5px,#2d1412 309px,#341513 321.5px,#aa231b 334.5px,#bd261c 339.5px,#b2251c 345px,#741c18 354px,#411714 361.5px,#481815 374px,#a8231b 384.5px,#bb261c 389.5px,#b1241c 395px,#741c18 404px,#531916 409px,#5a1916 426px,#aa231b 435px,#bb261c 440px,#af241c 445.5px,#631a17 456.5px,#6c1b17 478px,#a9231b 485px,#bb261c 490px,#b8251c 493px)"></i><i style="top:453.6px;height:3px;background:linear-gradient(90deg,#ffffff 0,#fffdf0 0.5px,#fef6ba 1.5px,#f8e425 3.5px,#f8de0e 4px,#f9ae04 5px,#e7490f 7px,#e02d1a 8px,#dc2a1c 9px,#891e1a 13px,#5f1a16 16.5px,#351513 23.5px,#1c0f0d 34.5px,#150d0b 48px,#2b1412 48.5px,#99211b 49px,#dc2a1c 49.5px,#d9291c 74.5px,#c6271c 78.5px,#741c18 86.5px,#2b1412 94px,#170d0b 100px,#180e0c 102px,#2f1412 103.5px,#ab231b 107px,#cb271c 108.5px,#d6291c 111px,#ce281c 125.5px,#aa231b 133px,#2b1412 148.5px,#170e0c 155px,#24110f 157.5px,#3f1714 159.5px,#a6231b 165px,#c4271c 168px,#ce281c 173px,#ba261c 182px,#8b1f1a 190px,#2b1412 203px,#1b0f0d 209px,#241210 212px,#471815 215.5px,#a8231b 223px,#c4271c 227.5px,#c2261c 233.5px,#9d211b 241.5px,#2b1412 258px,#2e1412 268px,#ac241c 280.5px,#c2261c 285.5px,#bb261c 291px,#8d1f1a 299px,#3d1614 310.5px,#441714 325px,#ad241c 337px,#c0261c 342.5px,#b3251c 348.5px,#701c18 358.5px,#521916 363px,#591916 377.5px,#ac241c 387px,#bf261c 392.5px,#b3251c 398.5px,#701c18 408.5px,#641a17 411px,#6f1c17 430px,#ae241c 437.5px,#bf261c 443px,#b0241c 449px,#751c18 458.5px,#811e19 482px,#b2251c 488.5px,#be261c 493px)"></i><i style="top:456.6px;height:3px;background:linear-gradient(90deg,#ffffff 0,#fffdf1 0.5px,#fef7bf 1.5px,#fbea58 3px,#f8e118 4px,#f9d409 4.5px,#f48b05 6px,#e64510 7.5px,#e02d1a 8.5px,#d5291c 10px,#8d1f1a 13.5px,#5f1a16 17.5px,#351513 25px,#1b0f0d 37px,#160d0b 48px,#2b1412 48.5px,#99211b 49px,#dc2a1c 49.5px,#d92a1c 76px,#c5271c 80.5px,#731c18 89px,#2b1412 97px,#180e0c 102px,#291311 103.5px,#681b17 105.5px,#ad241c 107.5px,#cc281c 109px,#d7291c 112px,#cf281c 127.5px,#ac241c 135px,#2b1412 151.5px,#1c0f0d 157px,#351513 159.5px,#a8231b 166px,#c9271c 169.5px,#d0281c 175px,#ba261c 184.5px,#891e1a 193px,#2b1412 206.5px,#24110f 211px,#2c1412 214px,#ab231b 224.5px,#c6271c 229px,#c6271c 235px,#a3221b 243.5px,#361513 260px,#3f1614 271px,#ab241c 282px,#c4271c 287.5px,#be261c 293.5px,#901f1a 302px,#4d1815 312px,#541916 328.5px,#ae241c 339px,#c3271c 344.5px,#bb261c 350.5px,#891e1a 359px,#631a17 364.5px,#6d1b17 381.5px,#af241c 389.5px,#c2261c 395px,#b8251c 401px,#821e19 410px,#761c18 412.5px,#7f1d19 433.5px,#b4251c 440.5px,#c2261c 446px,#b1241c 452.5px,#861e19 460px,#901f1a 485.5px,#b8251c 491.5px,#bd261c 493px)"></i><i style="top:459.6px;height:3px;background:linear-gradient(90deg,#ffffff 0,#fefbde 1px,#fdf4a8 2px,#f8e422 4px,#f8de0e 4.5px,#fab404 5.5px,#e64410 8px,#e02e1a 9px,#d7291c 10.5px,#8b1f1a 14.5px,#601a16 18.5px,#371513 26px,#20100e 36px,#170d0b 48px,#2b1412 48.5px,#99211b 49px,#dc2a1c 49.5px,#d9291c 78px,#c6271c 82.5px,#741c18 91.5px,#2b1412 100px,#1f100e 103px,#2c1412 104px,#ae241c 108px,#cc281c 109.5px,#d8291c 112.5px,#cf281c 130px,#aa231b 138px,#2b1412 155px,#23110f 158.5px,#421714 161px,#a9231b 167px,#c9271c 170.5px,#d1281c 176px,#c1261c 185.5px,#95201a 194.5px,#2d1412 210px,#311512 215.5px,#ac241c 226px,#c7271c 230.5px,#ca271c 236.5px,#aa231b 245.5px,#471815 261.5px,#4d1815 274px,#ad241c 284px,#c7271c 289.5px,#c4271c 295.5px,#9c211b 304px,#5f1a16 313.5px,#6a1b17 333px,#b3251c 342px,#c7271c 348px,#bb261c 354.5px,#801d19 364.5px,#761c18 366.5px,#801d19 385.5px,#b7251c 393px,#c6271c 399px,#b7251c 405.5px,#881e19 414px,#94201a 438px,#bd261c 444.5px,#c5271c 450.5px,#ad241c 457.5px,#98211b 461.5px,#a3221b 490px,#b5251c 493px)"></i><i style="top:462.6px;height:3px;background:linear-gradient(90deg,#ffffff 0,#fefbe1 1px,#fdf192 2.5px,#f9e632 4px,#f8e119 4.5px,#f9d80a 5px,#f9ae04 6px,#e6460f 8.5px,#e12f19 9.5px,#d3281c 11.5px,#92201a 15px,#621a17 19.5px,#381613 27.5px,#21110f 37.5px,#180e0c 48px,#2b1412 48.5px,#99211b 49px,#dc2a1c 49.5px,#d9291c 80px,#c6271c 85px,#751c18 94.5px,#2c1412 103.5px,#2f1412 104.5px,#ac241c 108.5px,#cb271c 110px,#d8291c 112.5px,#d1281c 131.5px,#b3251c 139.5px,#2b1412 159px,#291311 160px,#6f1c17 164.5px,#af241c 168.5px,#cc281c 172px,#d2281c 179.5px,#c1261c 189px,#92201a 198.5px,#401714 211.5px,#441714 218.5px,#b0241c 228px,#cb271c 233px,#cc281c 240px,#a9231b 249.5px,#5a1a16 262.5px,#631a17 278px,#b0241c 286.5px,#ca271c 292.5px,#c6271c 299px,#9a211b 308.5px,#731c18 315px,#7e1d19 337.5px,#b8251c 345.5px,#ca271c 352px,#bc261c 359px,#8a1f1a 368.5px,#96201a 390.5px,#c0261c 397.5px,#c9271c 404px,#b0241c 411.5px,#9b211b 416px,#a7231b 443px,#c5271c 449.5px,#c5271c 456px,#aa231b 463.5px,#b2251c 493px)"></i><i style="top:465.6px;height:3px;background:linear-gradient(90deg,#ffffff 0,#fefbe3 1px,#fdf39d 2.5px,#f8e425 4.5px,#f8e013 5px,#fbc004 6px,#e74a0e 9px,#e13217 10px,#d7291c 12px,#8c1f1a 16.5px,#5e1a16 21.5px,#351513 30.5px,#1b0f0d 45.5px,#190e0c 48px,#2b1412 48.5px,#99211b 49px,#dc2a1c 49.5px,#d9291c 82.5px,#c4271c 88px,#701c18 98.5px,#3d1614 105px,#3d1614 105.5px,#b5251c 109.5px,#d0281c 111px,#db2a1c 115.5px,#d0281c 135.5px,#aa231b 144.5px,#371513 161.5px,#3e1614 162.5px,#b2241c 170px,#d0281c 174px,#d2281c 185px,#b9251c 195px,#791d18 206.5px,#551916 212.5px,#5a1a16 222px,#b1241c 230px,#ce281c 235.5px,#cd281c 244px,#a6231b 254.5px,#711c18 264px,#7e1d19 283px,#ba261c 290.5px,#cf281c 296.5px,#c6271c 304px,#94201a 314.5px,#8a1f1a 317px,#98211b 343.5px,#c4271c 351px,#ce281c 357.5px,#b9251c 365px,#9f221b 370.5px,#ac241c 396.5px,#ca271c 403.5px,#c8271c 410.5px,#af241c 418px,#bc261c 449.5px,#cc281c 456px,#bf261c 463.5px,#c3271c 493px)"></i><i style="top:468.6px;height:3px;background:linear-gradient(90deg,#ffffff 0,#fefce6 1px,#fdf4a7 2.5px,#f8e320 5px,#f8df10 5.5px,#f9ac04 7px,#e54011 10px,#df2c1b 11.5px,#d6291c 13px,#8a1f1a 18px,#5c1a16 23.5px,#321513 34px,#1c0f0d 48px,#2b1412 48.5px,#99211b 49px,#dc2a1c 49.5px,#d8291c 85.5px,#c6271c 91px,#751c18 102px,#521916 106.5px,#581916 107px,#af241c 110px,#d1281c 112px,#dc2a1c 117px,#d1281c 138.5px,#b0241c 147.5px,#4e1815 163px,#521915 165px,#b2251c 171.5px,#d1281c 175.5px,#d4291c 186.5px,#c5271c 196px,#94201a 207px,#6e1b17 214px,#781d18 226.5px,#b8251c 233px,#d1281c 238.5px,#ce281c 248.5px,#a4221b 260px,#8a1f1a 265.5px,#98211b 288.5px,#c5271c 295.5px,#d2281c 302px,#c7271c 309.5px,#a2221b 318.5px,#b1241c 350.5px,#cf281c 358px,#cc281c 366px,#b5251c 373px,#c2261c 404px,#d1281c 411px,#c3271c 421.5px,#ce281c 464.5px,#d1281c 493px)"></i><i style="top:471.6px;height:3px;background:linear-gradient(90deg,#ffffff 0,#fffce9 1px,#fdf299 3px,#f8e21e 5.5px,#f8df0f 6px,#f9af04 7.5px,#e74b0e 10.5px,#e23516 11.5px,#de2b1b 13px,#ca271c 15px,#901f1a 19px,#621a17 24.5px,#391613 34.5px,#21110f 47px,#20100e 48px,#2b1412 48.5px,#99211b 49px,#dc2a1c 49.5px,#d92a1c 88.5px,#c5271c 95px,#6f1c17 107.5px,#6e1b17 108.5px,#bc261c 111.5px,#d2281c 113px,#dc2a1c 117.5px,#d3291c 141.5px,#ba261c 150px,#6a1b17 164px,#711c18 168.5px,#b5251c 173.5px,#d2281c 177.5px,#d7291c 188.5px,#c8271c 200px,#97201a 212px,#8a1f1a 215px,#95201a 231.5px,#c7271c 238px,#d5291c 244px,#cc281c 255.5px,#a5231b 267px,#b4251c 295.5px,#d0281c 302px,#d0281c 312.5px,#b9251c 320.5px,#c9271c 359.5px,#d3291c 367px,#ca271c 378px,#da2a1c 493px)"></i><i style="top:474.6px;height:3px;background:linear-gradient(90deg,#ffffff 0,#fefbdd 1.5px,#fcf18f 3.5px,#f8e31e 6px,#f9d409 7px,#f38605 9.5px,#e43d12 12px,#df2d1a 13.5px,#d6291c 15.5px,#8e1f1a 21px,#5f1a16 27.5px,#341513 39.5px,#2a1311 47px,#2b1412 48.5px,#99211b 49px,#dc2a1c 49.5px,#d9291c 92.5px,#c5271c 99.5px,#851e19 110px,#99211b 111px,#cb271c 113.5px,#db2a1c 116.5px,#d7291c 143.5px,#c5271c 152.5px,#8c1f1a 165.5px,#901f1a 172.5px,#c2261c 177px,#d4291c 180.5px,#d8291c 193.5px,#c9271c 206px,#a9231b 216px,#b7251c 238.5px,#d2281c 244px,#d6291c 255.5px,#c4271c 265px,#c0261c 270.5px,#cf281c 305px,#d5291c 315.5px,#d1281c 328.5px,#dd2b1b 484.5px,#dd2b1b 493px)"></i><i style="top:477.6px;height:3px;background:linear-gradient(90deg,#ffffff 0,#fefbe1 1.5px,#fdf39e 3.5px,#f8e321 6.5px,#f8da0b 7.5px,#f8a304 9.5px,#e54310 13px,#df2c1a 15px,#d7291c 17px,#8b1f1a 23.5px,#5e1a16 30.5px,#441714 38.5px,#4e1815 48.5px,#99211b 49px,#dc2a1c 49.5px,#d9291c 97.5px,#c5271c 105px,#a0221b 112.5px,#cd281c 115px,#dc2a1c 118.5px,#d7291c 149.5px,#c5271c 159px,#af241c 166px,#b9251c 178.5px,#d3281c 182.5px,#dc2a1c 193.5px,#cc281c 212px,#c7271c 217.5px,#d6291c 250px,#d6291c 264px,#df2c1b 493px)"></i><i style="top:480.6px;height:3px;background:linear-gradient(90deg,#ffffff 0,#fefce5 1.5px,#fdf29b 4px,#f8e529 7px,#f9d70a 8.5px,#f69904 11px,#e54310 14.5px,#e02d1a 16.5px,#d7291c 19px,#8d1f1a 26px,#741c18 30px,#791d18 44.5px,#7e1d19 48.5px,#99211b 49px,#dc2a1c 49.5px,#d9291c 103.5px,#c4271c 112px,#b8251c 115px,#d4291c 117.5px,#dd2a1c 121.5px,#d7291c 157px,#d1281c 168px,#da2a1c 189.5px,#e02d1a 493px)"></i><i style="top:483.6px;height:3px;background:linear-gradient(90deg,#ffffff 0,#fefbdf 2px,#fcf08b 5px,#f8e427 8px,#f8da0b 9.5px,#f8a304 12px,#e54210 16.5px,#df2c1a 19px,#d3291c 22px,#b0241c 25.5px,#b5251c 46px,#b8251c 49px,#dc2a1c 49.5px,#d9291c 111px,#e02d1a 317.5px,#e13019 493px)"></i><i style="top:486.6px;height:3px;background:linear-gradient(90deg,#ffffff 0,#fefce5 2px,#fdf193 5.5px,#f8e321 9.5px,#f9d90b 11px,#f69605 14.5px,#e43b12 19.5px,#df2c1b 22px,#e23317 493px)"></i><i style="top:489.6px;height:3px;background:linear-gradient(90deg,#ffffff 0,#fefbe2 2.5px,#fdf193 6.5px,#f8e425 11px,#f9d90b 13px,#f8a104 16.5px,#e43c12 23px,#e13118 25.5px,#e23416 493px)"></i><i style="top:492.6px;height:13px;background:linear-gradient(90deg,#ffffff 0,#fefbe0 3px,#fdf191 7.5px,#f8e31f 13px,#f9d70a 15px,#f89e04 19px,#e43e11 26px,#e43c12 493px)"></i></div></div>
<div class="hm" style="left:1020.5px;top:11.3px;width:493.5px;height:493.1px;background:linear-gradient(180deg,#7a1a14 -0.06%,#821c16 10.69%,#8e1e18 23.46%,#a4221a 36.44%,#b4241b 44.96%,#bc261c 50.44%,#cc281c 54.9%,#dc2a1b 62.6%,#e02c18 69.9%,#e23214 74.16%,#e5440e 78.63%,#ea6208 82.88%,#f28a04 87.14%,#fac000 91.4%,#f8dc10 94.85%,#f8e840 97.08%,#fdf4a0 99.11%,#fffbe0 100%)"></div>
<div class="hm" style="left:1020.5px;top:11.3px;width:80px;height:493.1px"><div class="bl" style="filter:url(#vb)"><i style="top:-12.3px;height:24px;background:linear-gradient(90deg,rgba(250,175,25,0.95) 0,rgba(250,175,25,0.9) 0.2px,rgba(250,175,25,0.78) 0.5px,rgba(250,175,25,0.27) 1.2px,rgba(12,5,4,0.74) 1.8px,rgba(12,5,4,0.92) 5px,rgba(240,60,30,0.45) 5.2px,rgba(240,60,30,0.71) 5.5px,rgba(240,60,30,0.67) 5.8px,rgba(240,60,30,0.5) 6.2px,rgba(240,60,30,0.11) 7px,rgba(12,5,4,0.06) 7.2px,rgba(12,5,4,0.8) 8.8px,rgba(12,5,4,0.8) 11px,rgba(240,60,30,0.13) 11.2px,rgba(240,60,30,0.51) 11.5px,rgba(240,60,30,0.56) 11.8px,rgba(240,60,30,0.46) 12.2px,rgba(12,5,4,0.03) 13.5px,rgba(12,5,4,0.63) 15.8px,rgba(240,60,30,0.02) 17.2px,rgba(240,60,30,0.25) 17.5px,rgba(240,60,30,0.4) 17.8px,rgba(240,60,30,0.42) 18px,rgba(240,60,30,0.28) 18.8px,rgba(12,5,4,0.01) 19.8px,rgba(12,5,4,0.32) 23px,rgba(12,5,4,0.03) 23.2px,rgba(240,60,30,0.2) 23.8px,rgba(240,60,30,0.26) 24px,rgba(240,60,30,0.25) 24.5px,rgba(12,5,4,0) 26px,rgba(12,5,4,0.03) 29.2px,rgba(240,60,30,0.16) 30.2px,rgba(240,60,30,0.14) 31px,rgba(240,60,30,0.01) 32.2px,rgba(12,5,4,0.01) 35.2px,rgba(240,60,30,0.1) 36.5px,rgba(240,60,30,0.04) 38px,rgba(12,5,4,0.02) 39px,rgba(240,60,30,0) 41.2px,rgba(240,60,30,0.08) 42.8px,rgba(12,5,4,0.01) 45.5px,rgba(240,60,30,0.02) 47.5px,rgba(240,60,30,0.05) 49.5px,rgba(12,5,4,0) 52.2px,rgba(240,60,30,0.04) 55.8px,rgba(240,60,30,0.01) 58.8px,rgba(240,60,30,0.02) 62.2px,rgba(240,60,30,0.02) 66.2px,rgba(240,60,30,0) 80px)"></i><i style="top:11.7px;height:12px;background:linear-gradient(90deg,rgba(250,176,25,0.95) 0,rgba(250,176,25,0.91) 0.2px,rgba(250,176,25,0.78) 0.5px,rgba(250,176,25,0.29) 1.2px,rgba(12,5,4,0.72) 1.8px,rgba(12,5,4,0.92) 5px,rgba(240,60,30,0.44) 5.2px,rgba(240,60,30,0.7) 5.5px,rgba(240,60,30,0.67) 5.8px,rgba(240,60,30,0.5) 6.2px,rgba(12,5,4,0.05) 7.2px,rgba(12,5,4,0.8) 8.8px,rgba(12,5,4,0.8) 11px,rgba(240,60,30,0.12) 11.2px,rgba(240,60,30,0.51) 11.5px,rgba(240,60,30,0.55) 11.8px,rgba(240,60,30,0.46) 12.2px,rgba(12,5,4,0.03) 13.5px,rgba(12,5,4,0.63) 15.8px,rgba(240,60,30,0.02) 17.2px,rgba(240,60,30,0.25) 17.5px,rgba(240,60,30,0.4) 17.8px,rgba(240,60,30,0.41) 18px,rgba(240,60,30,0.28) 18.8px,rgba(12,5,4,0) 19.8px,rgba(12,5,4,0.33) 23px,rgba(12,5,4,0.04) 23.2px,rgba(240,60,30,0.2) 23.8px,rgba(240,60,30,0.26) 24px,rgba(240,60,30,0.24) 24.5px,rgba(12,5,4,0) 26px,rgba(12,5,4,0.03) 29.2px,rgba(240,60,30,0.16) 30.2px,rgba(240,60,30,0.13) 31px,rgba(240,60,30,0.01) 32.2px,rgba(12,5,4,0.01) 35.2px,rgba(240,60,30,0.1) 36.5px,rgba(240,60,30,0.04) 38px,rgba(12,5,4,0.01) 39px,rgba(240,60,30,0) 41.2px,rgba(240,60,30,0.08) 42.8px,rgba(12,5,4,0.01) 45.5px,rgba(240,60,30,0.02) 47.5px,rgba(240,60,30,0.05) 49.5px,rgba(12,5,4,0) 52.2px,rgba(240,60,30,0.04) 55.8px,rgba(240,60,30,0.01) 58.8px,rgba(240,60,30,0.02) 62.5px,rgba(240,60,30,0) 80px)"></i><i style="top:23.7px;height:12px;background:linear-gradient(90deg,rgba(250,177,25,0.95) 0,rgba(250,177,25,0.91) 0.2px,rgba(250,177,25,0.79) 0.5px,rgba(250,177,25,0.3) 1.2px,rgba(250,177,25,0.18) 1.5px,rgba(12,5,4,0.7) 1.8px,rgba(12,5,4,0.92) 5px,rgba(240,60,30,0.44) 5.2px,rgba(240,60,30,0.7) 5.5px,rgba(240,60,30,0.67) 5.8px,rgba(240,60,30,0.5) 6.2px,rgba(12,5,4,0.04) 7.2px,rgba(12,5,4,0.8) 8.8px,rgba(12,5,4,0.8) 11px,rgba(240,60,30,0.12) 11.2px,rgba(240,60,30,0.51) 11.5px,rgba(240,60,30,0.55) 11.8px,rgba(240,60,30,0.46) 12.2px,rgba(240,60,30,0.1) 13.2px,rgba(12,5,4,0.02) 13.5px,rgba(12,5,4,0.63) 15.8px,rgba(12,5,4,0.59) 17px,rgba(240,60,30,0.01) 17.2px,rgba(240,60,30,0.25) 17.5px,rgba(240,60,30,0.39) 17.8px,rgba(240,60,30,0.41) 18px,rgba(240,60,30,0.28) 18.8px,rgba(12,5,4,0) 19.8px,rgba(12,5,4,0.33) 23px,rgba(12,5,4,0.05) 23.2px,rgba(240,60,30,0.19) 23.8px,rgba(240,60,30,0.25) 24px,rgba(240,60,30,0.24) 24.5px,rgba(12,5,4,0) 26px,rgba(12,5,4,0.04) 29.2px,rgba(240,60,30,0.15) 30.2px,rgba(240,60,30,0.13) 31px,rgba(240,60,30,0.01) 32.2px,rgba(12,5,4,0.02) 35.2px,rgba(240,60,30,0.1) 36.5px,rgba(240,60,30,0.04) 38px,rgba(12,5,4,0.01) 39px,rgba(240,60,30,0) 41.2px,rgba(240,60,30,0.08) 42.8px,rgba(12,5,4,0.01) 45.5px,rgba(240,60,30,0.02) 47.5px,rgba(240,60,30,0.05) 49.5px,rgba(12,5,4,0) 52.2px,rgba(240,60,30,0.04) 55.8px,rgba(240,60,30,0.01) 59px,rgba(240,60,30,0.02) 62.5px,rgba(240,60,30,0) 80px)"></i><i style="top:35.7px;height:12px;background:linear-gradient(90deg,rgba(250,178,25,0.95) 0,rgba(250,178,25,0.91) 0.2px,rgba(250,178,25,0.8) 0.5px,rgba(250,178,25,0.32) 1.2px,rgba(250,178,25,0.2) 1.5px,rgba(12,5,4,0.68) 1.8px,rgba(12,5,4,0.92) 5px,rgba(240,60,30,0.44) 5.2px,rgba(240,60,30,0.7) 5.5px,rgba(240,60,30,0.6) 6px,rgba(240,60,30,0.39) 6.5px,rgba(12,5,4,0.02) 7.2px,rgba(12,5,4,0.8) 8.8px,rgba(12,5,4,0.8) 11px,rgba(240,60,30,0.11) 11.2px,rgba(240,60,30,0.5) 11.5px,rgba(240,60,30,0.55) 11.8px,rgba(240,60,30,0.46) 12.2px,rgba(240,60,30,0.2) 13px,rgba(12,5,4,0.01) 13.5px,rgba(12,5,4,0.63) 15.8px,rgba(12,5,4,0.59) 17px,rgba(12,5,4,0) 17.2px,rgba(240,60,30,0.24) 17.5px,rgba(240,60,30,0.39) 17.8px,rgba(240,60,30,0.41) 18px,rgba(240,60,30,0.28) 18.8px,rgba(240,60,30,0) 19.8px,rgba(12,5,4,0.33) 23px,rgba(12,5,4,0.06) 23.2px,rgba(240,60,30,0.19) 23.8px,rgba(240,60,30,0.25) 24px,rgba(240,60,30,0.24) 24.5px,rgba(240,60,30,0) 26px,rgba(12,5,4,0.05) 29.2px,rgba(240,60,30,0.15) 30.2px,rgba(240,60,30,0.13) 31px,rgba(240,60,30,0.01) 32.2px,rgba(12,5,4,0.02) 35.2px,rgba(240,60,30,0.1) 36.5px,rgba(240,60,30,0.05) 38px,rgba(12,5,4,0.01) 39px,rgba(240,60,30,0) 41.2px,rgba(240,60,30,0.08) 42.8px,rgba(12,5,4,0.01) 45.5px,rgba(240,60,30,0.02) 47.5px,rgba(240,60,30,0.05) 49.5px,rgba(12,5,4,0) 52.2px,rgba(240,60,30,0.04) 55.8px,rgba(240,60,30,0.01) 59px,rgba(240,60,30,0.02) 62.5px,rgba(240,60,30,0) 80px)"></i><i style="top:47.7px;height:12px;background:linear-gradient(90deg,rgba(250,179,25,0.95) 0,rgba(250,179,25,0.91) 0.2px,rgba(250,179,25,0.81) 0.5px,rgba(250,179,25,0.34) 1.2px,rgba(250,179,25,0.22) 1.5px,rgba(12,5,4,0.84) 2px,rgba(12,5,4,0.92) 5px,rgba(240,60,30,0.43) 5.2px,rgba(240,60,30,0.7) 5.5px,rgba(240,60,30,0.6) 6px,rgba(240,60,30,0.39) 6.5px,rgba(12,5,4,0.01) 7.2px,rgba(12,5,4,0.8) 8.8px,rgba(12,5,4,0.8) 11px,rgba(240,60,30,0.1) 11.2px,rgba(240,60,30,0.5) 11.5px,rgba(240,60,30,0.55) 11.8px,rgba(240,60,30,0.46) 12.2px,rgba(240,60,30,0.2) 13px,rgba(12,5,4,0) 13.5px,rgba(12,5,4,0.63) 16px,rgba(12,5,4,0.59) 17px,rgba(12,5,4,0.01) 17.2px,rgba(240,60,30,0.24) 17.5px,rgba(240,60,30,0.39) 17.8px,rgba(240,60,30,0.4) 18px,rgba(240,60,30,0.28) 18.8px,rgba(240,60,30,0.01) 19.8px,rgba(12,5,4,0.34) 23px,rgba(12,5,4,0.07) 23.2px,rgba(240,60,30,0.18) 23.8px,rgba(240,60,30,0.24) 24px,rgba(240,60,30,0.23) 24.5px,rgba(240,60,30,0.05) 25.8px,rgba(240,60,30,0) 26px,rgba(12,5,4,0.06) 29.2px,rgba(240,60,30,0.15) 30.2px,rgba(240,60,30,0.12) 31px,rgba(240,60,30,0.01) 32.2px,rgba(12,5,4,0.02) 35.2px,rgba(240,60,30,0.1) 36.5px,rgba(240,60,30,0.06) 37.8px,rgba(12,5,4,0.01) 39px,rgba(12,5,4,0) 41.2px,rgba(240,60,30,0.08) 42.8px,rgba(12,5,4,0.01) 45.5px,rgba(240,60,30,0.02) 47.5px,rgba(240,60,30,0.05) 49.5px,rgba(12,5,4,0) 52.2px,rgba(240,60,30,0.04) 55.8px,rgba(240,60,30,0.01) 59px,rgba(240,60,30,0.02) 62.5px,rgba(240,60,30,0) 80px)"></i><i style="top:59.7px;height:12px;background:linear-gradient(90deg,rgba(250,180,25,0.95) 0,rgba(250,180,25,0.91) 0.2px,rgba(250,180,25,0.81) 0.5px,rgba(250,180,25,0.35) 1.2px,rgba(250,180,25,0.23) 1.5px,rgba(12,5,4,0.82) 2px,rgba(12,5,4,0.92) 5px,rgba(240,60,30,0.43) 5.2px,rgba(240,60,30,0.7) 5.5px,rgba(240,60,30,0.6) 6px,rgba(240,60,30,0.4) 6.5px,rgba(12,5,4,0) 7.2px,rgba(12,5,4,0.8) 8.8px,rgba(12,5,4,0.8) 11px,rgba(240,60,30,0.1) 11.2px,rgba(240,60,30,0.5) 11.5px,rgba(240,60,30,0.54) 11.8px,rgba(240,60,30,0.46) 12.2px,rgba(240,60,30,0.21) 13px,rgba(240,60,30,0) 13.5px,rgba(12,5,4,0.63) 16.8px,rgba(12,5,4,0.02) 17.2px,rgba(240,60,30,0.23) 17.5px,rgba(240,60,30,0.38) 17.8px,rgba(240,60,30,0.4) 18px,rgba(240,60,30,0.28) 18.8px,rgba(240,60,30,0.01) 19.8px,rgba(12,5,4,0.08) 23.2px,rgba(240,60,30,0.18) 23.8px,rgba(240,60,30,0.24) 24px,rgba(240,60,30,0.23) 24.5px,rgba(240,60,30,0.05) 25.8px,rgba(240,60,30,0.01) 26px,rgba(12,5,4,0.06) 29.2px,rgba(240,60,30,0.02) 29.5px,rgba(240,60,30,0.14) 30.2px,rgba(240,60,30,0.12) 31px,rgba(240,60,30,0) 32.2px,rgba(240,60,30,0.02) 35.5px,rgba(240,60,30,0.1) 36.5px,rgba(240,60,30,0.06) 37.8px,rgba(12,5,4,0.01) 39px,rgba(12,5,4,0) 41.2px,rgba(240,60,30,0.08) 42.8px,rgba(12,5,4,0.01) 45.8px,rgba(240,60,30,0.02) 47.5px,rgba(240,60,30,0.05) 49.5px,rgba(12,5,4,0) 52.2px,rgba(240,60,30,0.04) 55.8px,rgba(240,60,30,0.01) 59px,rgba(240,60,30,0.02) 62.5px,rgba(240,60,30,0) 80px)"></i><i style="top:71.7px;height:12px;background:linear-gradient(90deg,rgba(250,181,25,0.95) 0,rgba(250,181,25,0.91) 0.2px,rgba(250,181,25,0.82) 0.5px,rgba(250,181,25,0.37) 1.2px,rgba(250,181,25,0.25) 1.5px,rgba(12,5,4,0.81) 2px,rgba(12,5,4,0.92) 5px,rgba(240,60,30,0.43) 5.2px,rgba(240,60,30,0.69) 5.5px,rgba(240,60,30,0.6) 6px,rgba(240,60,30,0.41) 6.5px,rgba(240,60,30,0.01) 7.2px,rgba(12,5,4,0.8) 10.2px,rgba(12,5,4,0.8) 11px,rgba(240,60,30,0.09) 11.2px,rgba(240,60,30,0.5) 11.5px,rgba(240,60,30,0.54) 11.8px,rgba(240,60,30,0.46) 12.2px,rgba(240,60,30,0.22) 13px,rgba(240,60,30,0.01) 13.5px,rgba(12,5,4,0.59) 17px,rgba(12,5,4,0.03) 17.2px,rgba(240,60,30,0.23) 17.5px,rgba(240,60,30,0.38) 17.8px,rgba(240,60,30,0.4) 18px,rgba(240,60,30,0.28) 18.8px,rgba(240,60,30,0.02) 19.8px,rgba(12,5,4,0.09) 23.2px,rgba(240,60,30,0.17) 23.8px,rgba(240,60,30,0.23) 24px,rgba(240,60,30,0.23) 24.5px,rgba(240,60,30,0.05) 25.8px,rgba(240,60,30,0.01) 26px,rgba(240,60,30,0.02) 29.5px,rgba(240,60,30,0.14) 30.2px,rgba(240,60,30,0.12) 31px,rgba(12,5,4,0.02) 32.5px,rgba(240,60,30,0.01) 35.5px,rgba(240,60,30,0.1) 36.5px,rgba(240,60,30,0.07) 37.8px,rgba(12,5,4,0.01) 39px,rgba(12,5,4,0) 41.2px,rgba(240,60,30,0.08) 42.8px,rgba(12,5,4,0.01) 45.8px,rgba(240,60,30,0.02) 47.5px,rgba(240,60,30,0.05) 49.5px,rgba(12,5,4,0) 52.5px,rgba(240,60,30,0.04) 55.8px,rgba(240,60,30,0.01) 59px,rgba(240,60,30,0.02) 62.5px,rgba(240,60,30,0) 80px)"></i><i style="top:83.7px;height:12px;background:linear-gradient(90deg,rgba(250,182,25,0.95) 0,rgba(250,182,25,0.92) 0.2px,rgba(250,182,25,0.82) 0.5px,rgba(250,182,25,0.26) 1.5px,rgba(250,182,25,0.16) 1.8px,rgba(12,5,4,0.79) 2px,rgba(12,5,4,0.92) 5px,rgba(240,60,30,0.42) 5.2px,rgba(240,60,30,0.69) 5.5px,rgba(240,60,30,0.61) 6px,rgba(240,60,30,0.41) 6.5px,rgba(240,60,30,0.02) 7.2px,rgba(12,5,4,0.64) 8px,rgba(12,5,4,0.8) 11px,rgba(240,60,30,0.09) 11.2px,rgba(240,60,30,0.49) 11.5px,rgba(240,60,30,0.54) 11.8px,rgba(240,60,30,0.46) 12.2px,rgba(240,60,30,0.22) 13px,rgba(240,60,30,0.02) 13.5px,rgba(12,5,4,0.46) 14.2px,rgba(12,5,4,0.6) 17px,rgba(12,5,4,0.04) 17.2px,rgba(240,60,30,0.22) 17.5px,rgba(240,60,30,0.38) 17.8px,rgba(240,60,30,0.4) 18px,rgba(240,60,30,0.28) 18.8px,rgba(240,60,30,0.02) 19.8px,rgba(12,5,4,0.19) 20.2px,rgba(12,5,4,0.1) 23.2px,rgba(240,60,30,0.23) 24px,rgba(240,60,30,0.22) 24.5px,rgba(240,60,30,0.06) 25.8px,rgba(240,60,30,0.01) 26px,rgba(240,60,30,0.01) 29.5px,rgba(240,60,30,0.14) 30.2px,rgba(240,60,30,0.12) 31px,rgba(12,5,4,0.02) 32.5px,rgba(240,60,30,0.01) 35.5px,rgba(240,60,30,0.1) 36.5px,rgba(240,60,30,0.07) 37.8px,rgba(12,5,4,0.01) 39.2px,rgba(12,5,4,0) 41.2px,rgba(240,60,30,0.08) 42.8px,rgba(12,5,4,0.01) 45.8px,rgba(240,60,30,0.02) 47.5px,rgba(240,60,30,0.05) 49.5px,rgba(12,5,4,0) 52.5px,rgba(240,60,30,0.04) 55.8px,rgba(240,60,30,0.01) 59px,rgba(240,60,30,0.02) 62.5px,rgba(240,60,30,0) 80px)"></i><i style="top:95.7px;height:12px;background:linear-gradient(90deg,rgba(250,183,25,0.95) 0,rgba(250,183,25,0.92) 0.2px,rgba(250,183,25,0.83) 0.5px,rgba(250,183,25,0.28) 1.5px,rgba(250,183,25,0.18) 1.8px,rgba(12,5,4,0.77) 2px,rgba(12,5,4,0.92) 5px,rgba(240,60,30,0.42) 5.2px,rgba(240,60,30,0.69) 5.5px,rgba(240,60,30,0.61) 6px,rgba(240,60,30,0.42) 6.5px,rgba(240,60,30,0.04) 7.2px,rgba(12,5,4,0.2) 7.5px,rgba(12,5,4,0.8) 9.5px,rgba(12,5,4,0.8) 11px,rgba(240,60,30,0.08) 11.2px,rgba(240,60,30,0.49) 11.5px,rgba(240,60,30,0.54) 11.8px,rgba(240,60,30,0.46) 12.2px,rgba(240,60,30,0.23) 13px,rgba(240,60,30,0.03) 13.5px,rgba(12,5,4,0.13) 13.8px,rgba(12,5,4,0.6) 17px,rgba(12,5,4,0.06) 17.2px,rgba(240,60,30,0.22) 17.5px,rgba(240,60,30,0.37) 17.8px,rgba(240,60,30,0.39) 18px,rgba(240,60,30,0.28) 18.8px,rgba(240,60,30,0.03) 19.8px,rgba(12,5,4,0.07) 20px,rgba(12,5,4,0.35) 23px,rgba(12,5,4,0.11) 23.2px,rgba(240,60,30,0.07) 23.5px,rgba(240,60,30,0.16) 23.8px,rgba(240,60,30,0.23) 24px,rgba(240,60,30,0.22) 24.5px,rgba(240,60,30,0.06) 25.8px,rgba(240,60,30,0.01) 26px,rgba(240,60,30,0.01) 29.5px,rgba(240,60,30,0.14) 30.2px,rgba(240,60,30,0.12) 31px,rgba(12,5,4,0.01) 32.5px,rgba(240,60,30,0.01) 35.5px,rgba(240,60,30,0.1) 36.5px,rgba(240,60,30,0.06) 38px,rgba(12,5,4,0.01) 39.2px,rgba(240,60,30,0) 41.2px,rgba(240,60,30,0.08) 42.8px,rgba(12,5,4,0.01) 46px,rgba(240,60,30,0.03) 47.8px,rgba(240,60,30,0.05) 49.5px,rgba(240,60,30,0) 52.5px,rgba(240,60,30,0.04) 55.8px,rgba(240,60,30,0.01) 59px,rgba(240,60,30,0.02) 62.8px,rgba(240,60,30,0) 80px)"></i><i style="top:107.7px;height:12px;background:linear-gradient(90deg,rgba(250,184,25,0.95) 0,rgba(250,184,25,0.92) 0.2px,rgba(250,184,25,0.83) 0.5px,rgba(250,184,25,0.29) 1.5px,rgba(250,184,25,0.19) 1.8px,rgba(12,5,4,0.77) 2px,rgba(12,5,4,0.92) 5px,rgba(240,60,30,0.4) 5.2px,rgba(240,60,30,0.68) 5.5px,rgba(240,60,30,0.6) 6px,rgba(240,60,30,0.41) 6.5px,rgba(240,60,30,0.02) 7.2px,rgba(240,60,30,0.05) 11.2px,rgba(240,60,30,0.47) 11.5px,rgba(240,60,30,0.52) 11.8px,rgba(240,60,30,0.45) 12.2px,rgba(240,60,30,0.22) 13px,rgba(240,60,30,0.01) 13.5px,rgba(12,5,4,0.6) 17px,rgba(12,5,4,0.11) 17.2px,rgba(240,60,30,0.2) 17.5px,rgba(240,60,30,0.35) 17.8px,rgba(240,60,30,0.38) 18px,rgba(240,60,30,0.27) 18.8px,rgba(240,60,30,0.01) 19.8px,rgba(12,5,4,0.15) 23.2px,rgba(240,60,30,0.04) 23.5px,rgba(240,60,30,0.14) 23.8px,rgba(240,60,30,0.2) 24px,rgba(240,60,30,0.2) 24.5px,rgba(240,60,30,0.04) 25.8px,rgba(12,5,4,0.01) 26px,rgba(12,5,4,0) 29.5px,rgba(240,60,30,0.11) 30px,rgba(240,60,30,0.15) 30.5px,rgba(12,5,4,0.01) 32.5px,rgba(240,60,30,0.01) 35.5px,rgba(240,60,30,0.1) 36.5px,rgba(240,60,30,0.06) 38px,rgba(12,5,4,0.01) 39.2px,rgba(240,60,30,0) 41.2px,rgba(240,60,30,0.08) 42.8px,rgba(12,5,4,0.01) 46px,rgba(240,60,30,0.03) 47.8px,rgba(240,60,30,0.05) 49.8px,rgba(240,60,30,0) 52.5px,rgba(240,60,30,0.04) 55.8px,rgba(240,60,30,0.01) 59px,rgba(240,60,30,0.02) 62.8px,rgba(240,60,30,0) 80px)"></i><i style="top:119.7px;height:12px;background:linear-gradient(90deg,rgba(250,185,25,0.95) 0,rgba(250,185,25,0.92) 0.2px,rgba(250,185,25,0.84) 0.5px,rgba(250,185,25,0.3) 1.5px,rgba(12,5,4,0.86) 2.2px,rgba(12,5,4,0.92) 5px,rgba(240,60,30,0.38) 5.2px,rgba(240,60,30,0.67) 5.5px,rgba(240,60,30,0.59) 6px,rgba(240,60,30,0.4) 6.5px,rgba(12,5,4,0.01) 7.2px,rgba(12,5,4,0.8) 9.2px,rgba(12,5,4,0.8) 11px,rgba(12,5,4,0) 11.2px,rgba(240,60,30,0.46) 11.5px,rgba(240,60,30,0.51) 11.8px,rgba(240,60,30,0.43) 12.2px,rgba(240,60,30,0.2) 13px,rgba(12,5,4,0.01) 13.5px,rgba(12,5,4,0.63) 16.5px,rgba(12,5,4,0.16) 17.2px,rgba(240,60,30,0.33) 17.8px,rgba(240,60,30,0.35) 18px,rgba(240,60,30,0.25) 18.8px,rgba(12,5,4,0.01) 19.8px,rgba(12,5,4,0.19) 23.2px,rgba(12,5,4,0) 23.5px,rgba(240,60,30,0.11) 23.8px,rgba(240,60,30,0.18) 24px,rgba(240,60,30,0.18) 24.5px,rgba(12,5,4,0.02) 26px,rgba(12,5,4,0.01) 29.5px,rgba(240,60,30,0.14) 30.2px,rgba(240,60,30,0.12) 31px,rgba(12,5,4,0.01) 32.5px,rgba(240,60,30,0.01) 35.5px,rgba(240,60,30,0.1) 36.5px,rgba(240,60,30,0.06) 38px,rgba(12,5,4,0.01) 39.5px,rgba(240,60,30,0.02) 41.5px,rgba(240,60,30,0.08) 43px,rgba(12,5,4,0) 46.2px,rgba(240,60,30,0.06) 49.5px,rgba(240,60,30,0.01) 52.8px,rgba(240,60,30,0.04) 56px,rgba(240,60,30,0.01) 59.2px,rgba(240,60,30,0.02) 62.8px,rgba(240,60,30,0) 80px)"></i><i style="top:131.7px;height:12px;background:linear-gradient(90deg,rgba(250,186,25,0.95) 0,rgba(250,186,25,0.92) 0.2px,rgba(250,186,25,0.84) 0.5px,rgba(250,186,25,0.32) 1.5px,rgba(12,5,4,0.86) 2.2px,rgba(12,5,4,0.92) 5px,rgba(240,60,30,0.65) 5.5px,rgba(240,60,30,0.57) 6px,rgba(240,60,30,0.39) 6.5px,rgba(12,5,4,0.03) 7.2px,rgba(12,5,4,0.8) 9.2px,rgba(12,5,4,0.8) 11px,rgba(12,5,4,0.05) 11.2px,rgba(240,60,30,0.44) 11.5px,rgba(240,60,30,0.49) 11.8px,rgba(240,60,30,0.42) 12.2px,rgba(240,60,30,0.19) 13px,rgba(12,5,4,0.03) 13.5px,rgba(12,5,4,0.63) 16.8px,rgba(12,5,4,0.21) 17.2px,rgba(240,60,30,0.31) 17.8px,rgba(240,60,30,0.33) 18px,rgba(240,60,30,0.23) 18.8px,rgba(12,5,4,0.03) 19.8px,rgba(12,5,4,0.2) 23.2px,rgba(12,5,4,0.02) 23.5px,rgba(240,60,30,0.17) 24px,rgba(240,60,30,0.17) 24.5px,rgba(12,5,4,0.02) 26px,rgba(12,5,4,0.01) 29.5px,rgba(240,60,30,0.14) 30.2px,rgba(240,60,30,0.13) 31px,rgba(12,5,4,0) 32.5px,rgba(240,60,30,0.01) 35.5px,rgba(240,60,30,0.1) 36.5px,rgba(240,60,30,0.06) 38px,rgba(12,5,4,0) 39.5px,rgba(240,60,30,0.01) 41.2px,rgba(240,60,30,0.08) 43px,rgba(12,5,4,0) 46.2px,rgba(240,60,30,0.06) 49.5px,rgba(240,60,30,0.01) 52.8px,rgba(240,60,30,0.04) 56px,rgba(240,60,30,0.01) 59.2px,rgba(240,60,30,0.02) 62.8px,rgba(240,60,30,0) 80px)"></i><i style="top:143.7px;height:12px;background:linear-gradient(90deg,rgba(250,187,25,0.95) 0,rgba(250,187,25,0.92) 0.2px,rgba(250,187,25,0.85) 0.5px,rgba(250,187,25,0.33) 1.5px,rgba(250,187,25,0.15) 2px,rgba(12,5,4,0.85) 2.2px,rgba(12,5,4,0.92) 5px,rgba(240,60,30,0.64) 5.5px,rgba(240,60,30,0.56) 6px,rgba(240,60,30,0.38) 6.5px,rgba(12,5,4,0.04) 7.2px,rgba(12,5,4,0.8) 9.5px,rgba(12,5,4,0.8) 11px,rgba(12,5,4,0.1) 11.2px,rgba(240,60,30,0.42) 11.5px,rgba(240,60,30,0.47) 11.8px,rgba(240,60,30,0.4) 12.2px,rgba(240,60,30,0.18) 13px,rgba(240,60,30,0.07) 13.2px,rgba(12,5,4,0.05) 13.5px,rgba(12,5,4,0.63) 16.8px,rgba(12,5,4,0.25) 17.2px,rgba(240,60,30,0.11) 17.5px,rgba(240,60,30,0.28) 17.8px,rgba(240,60,30,0.31) 18px,rgba(240,60,30,0.22) 18.8px,rgba(240,60,30,0.03) 19.5px,rgba(12,5,4,0.13) 20px,rgba(12,5,4,0.21) 23.2px,rgba(12,5,4,0.03) 23.5px,rgba(240,60,30,0.17) 24px,rgba(240,60,30,0.17) 24.5px,rgba(12,5,4,0.01) 26px,rgba(12,5,4,0.01) 29.5px,rgba(240,60,30,0.14) 30.2px,rgba(240,60,30,0.13) 31px,rgba(12,5,4,0.01) 32.8px,rgba(240,60,30,0.01) 35.5px,rgba(240,60,30,0.11) 36.5px,rgba(240,60,30,0.07) 38px,rgba(12,5,4,0) 39.8px,rgba(240,60,30,0.01) 41.2px,rgba(240,60,30,0.08) 43px,rgba(12,5,4,0) 46.5px,rgba(240,60,30,0.06) 49.5px,rgba(240,60,30,0.01) 52.8px,rgba(240,60,30,0.04) 56px,rgba(240,60,30,0.01) 59.2px,rgba(240,60,30,0.02) 63px,rgba(240,60,30,0) 80px)"></i><i style="top:155.7px;height:12px;background:linear-gradient(90deg,rgba(250,188,25,0.95) 0,rgba(250,188,25,0.92) 0.2px,rgba(250,188,25,0.85) 0.5px,rgba(250,188,25,0.35) 1.5px,rgba(250,188,25,0.16) 2px,rgba(12,5,4,0.84) 2.2px,rgba(12,5,4,0.92) 5px,rgba(240,60,30,0.31) 5.2px,rgba(240,60,30,0.62) 5.5px,rgba(240,60,30,0.55) 6px,rgba(240,60,30,0.37) 6.5px,rgba(12,5,4,0.06) 7.2px,rgba(12,5,4,0.8) 9.5px,rgba(12,5,4,0.8) 11px,rgba(12,5,4,0.15) 11.2px,rgba(240,60,30,0.39) 11.5px,rgba(240,60,30,0.45) 11.8px,rgba(240,60,30,0.39) 12.2px,rgba(240,60,30,0.16) 13px,rgba(240,60,30,0.05) 13.2px,rgba(12,5,4,0.07) 13.5px,rgba(12,5,4,0.61) 17px,rgba(12,5,4,0.28) 17.2px,rgba(240,60,30,0.08) 17.5px,rgba(240,60,30,0.26) 17.8px,rgba(240,60,30,0.29) 18px,rgba(240,60,30,0.2) 18.8px,rgba(240,60,30,0.01) 19.5px,rgba(12,5,4,0.21) 23.2px,rgba(12,5,4,0.04) 23.5px,rgba(240,60,30,0.16) 24px,rgba(240,60,30,0.18) 24.2px,rgba(240,60,30,0.07) 25.5px,rgba(12,5,4,0) 26px,rgba(12,5,4,0.01) 29.5px,rgba(240,60,30,0.14) 30.2px,rgba(240,60,30,0.13) 31px,rgba(12,5,4,0) 32.8px,rgba(12,5,4,0.01) 35.2px,rgba(240,60,30,0.11) 36.5px,rgba(240,60,30,0.06) 38.2px,rgba(12,5,4,0) 40px,rgba(240,60,30,0.01) 41.2px,rgba(240,60,30,0.08) 43px,rgba(240,60,30,0) 46.5px,rgba(240,60,30,0.06) 49.5px,rgba(240,60,30,0.01) 52.8px,rgba(240,60,30,0.04) 56px,rgba(240,60,30,0.01) 59.2px,rgba(240,60,30,0.02) 63px,rgba(240,60,30,0) 80px)"></i><i style="top:167.7px;height:12px;background:linear-gradient(90deg,rgba(250,189,25,0.95) 0,rgba(250,189,25,0.92) 0.2px,rgba(250,189,25,0.85) 0.5px,rgba(250,189,25,0.62) 1px,rgba(250,189,25,0.25) 1.8px,rgba(250,189,25,0.17) 2px,rgba(12,5,4,0.83) 2.2px,rgba(12,5,4,0.92) 5px,rgba(240,60,30,0.29) 5.2px,rgba(240,60,30,0.61) 5.5px,rgba(240,60,30,0.54) 6px,rgba(240,60,30,0.36) 6.5px,rgba(240,60,30,0.1) 7px,rgba(12,5,4,0.07) 7.2px,rgba(12,5,4,0.8) 9.8px,rgba(12,5,4,0.8) 11px,rgba(12,5,4,0.19) 11.2px,rgba(240,60,30,0.37) 11.5px,rgba(240,60,30,0.43) 11.8px,rgba(240,60,30,0.37) 12.2px,rgba(240,60,30,0.23) 12.8px,rgba(240,60,30,0.03) 13.2px,rgba(12,5,4,0.08) 13.5px,rgba(12,5,4,0.61) 17px,rgba(12,5,4,0.31) 17.2px,rgba(240,60,30,0.04) 17.5px,rgba(240,60,30,0.23) 17.8px,rgba(240,60,30,0.26) 18px,rgba(240,60,30,0.18) 18.8px,rgba(12,5,4,0) 19.5px,rgba(12,5,4,0.19) 23.2px,rgba(12,5,4,0.04) 23.5px,rgba(240,60,30,0.16) 24px,rgba(240,60,30,0.19) 24.2px,rgba(240,60,30,0.08) 25.5px,rgba(240,60,30,0.01) 26px,rgba(12,5,4,0) 29.5px,rgba(240,60,30,0.14) 30.2px,rgba(240,60,30,0.13) 31px,rgba(12,5,4,0.01) 33.2px,rgba(12,5,4,0) 35.2px,rgba(240,60,30,0.11) 36.5px,rgba(240,60,30,0.06) 38.2px,rgba(12,5,4,0) 40.5px,rgba(240,60,30,0.08) 43px,rgba(240,60,30,0.01) 46.8px,rgba(240,60,30,0.06) 49.5px,rgba(240,60,30,0.01) 52.8px,rgba(240,60,30,0.04) 56px,rgba(240,60,30,0.01) 59.2px,rgba(240,60,30,0.02) 63px,rgba(240,60,30,0) 80px)"></i><i style="top:179.7px;height:12px;background:linear-gradient(90deg,rgba(250,190,25,0.95) 0,rgba(250,190,25,0.93) 0.2px,rgba(250,190,25,0.86) 0.5px,rgba(250,190,25,0.63) 1px,rgba(250,190,25,0.27) 1.8px,rgba(250,190,25,0.18) 2px,rgba(12,5,4,0.82) 2.2px,rgba(12,5,4,0.92) 5px,rgba(240,60,30,0.25) 5.2px,rgba(240,60,30,0.59) 5.5px,rgba(240,60,30,0.52) 6px,rgba(240,60,30,0.34) 6.5px,rgba(240,60,30,0.08) 7px,rgba(12,5,4,0.09) 7.2px,rgba(12,5,4,0.8) 9.8px,rgba(12,5,4,0.8) 11px,rgba(12,5,4,0.24) 11.2px,rgba(240,60,30,0.34) 11.5px,rgba(240,60,30,0.4) 11.8px,rgba(240,60,30,0.34) 12.2px,rgba(240,60,30,0.21) 12.8px,rgba(12,5,4,0) 13.2px,rgba(12,5,4,0.62) 17px,rgba(12,5,4,0.01) 17.5px,rgba(240,60,30,0.2) 17.8px,rgba(240,60,30,0.24) 18px,rgba(240,60,30,0.16) 18.8px,rgba(12,5,4,0.01) 19.5px,rgba(12,5,4,0.03) 23.5px,rgba(240,60,30,0.16) 24px,rgba(240,60,30,0.19) 24.2px,rgba(240,60,30,0.09) 25.5px,rgba(12,5,4,0) 26.2px,rgba(240,60,30,0) 29.5px,rgba(240,60,30,0.11) 30px,rgba(240,60,30,0.15) 30.5px,rgba(12,5,4,0) 33.5px,rgba(240,60,30,0.01) 35.2px,rgba(240,60,30,0.11) 36.5px,rgba(240,60,30,0.06) 38.5px,rgba(240,60,30,0.01) 40.8px,rgba(240,60,30,0.08) 43px,rgba(240,60,30,0.01) 46.8px,rgba(240,60,30,0.06) 49.5px,rgba(240,60,30,0.01) 53px,rgba(240,60,30,0.04) 56.2px,rgba(240,60,30,0.02) 59.5px,rgba(240,60,30,0.02) 63.2px,rgba(240,60,30,0) 80px)"></i><i style="top:191.7px;height:12px;background:linear-gradient(90deg,rgba(250,191,25,0.95) 0,rgba(250,191,25,0.93) 0.2px,rgba(250,191,25,0.86) 0.5px,rgba(250,191,25,0.64) 1px,rgba(250,191,25,0.28) 1.8px,rgba(12,5,4,0.87) 2.5px,rgba(12,5,4,0.92) 5px,rgba(240,60,30,0.21) 5.2px,rgba(240,60,30,0.57) 5.5px,rgba(240,60,30,0.5) 6px,rgba(240,60,30,0.33) 6.5px,rgba(240,60,30,0.21) 6.8px,rgba(240,60,30,0.05) 7px,rgba(12,5,4,0.1) 7.2px,rgba(12,5,4,0.8) 10px,rgba(12,5,4,0.8) 11px,rgba(12,5,4,0.28) 11.2px,rgba(240,60,30,0.31) 11.5px,rgba(240,60,30,0.38) 11.8px,rgba(240,60,30,0.31) 12.2px,rgba(240,60,30,0.19) 12.8px,rgba(12,5,4,0.02) 13.2px,rgba(12,5,4,0.62) 17px,rgba(12,5,4,0.02) 17.5px,rgba(240,60,30,0.2) 17.8px,rgba(240,60,30,0.24) 18px,rgba(240,60,30,0.16) 18.8px,rgba(240,60,30,0.01) 19.5px,rgba(12,5,4,0.03) 23.5px,rgba(240,60,30,0.17) 24px,rgba(240,60,30,0.18) 24.5px,rgba(240,60,30,0.05) 26px,rgba(12,5,4,0.01) 26.5px,rgba(12,5,4,0.02) 29.2px,rgba(240,60,30,0.02) 29.5px,rgba(240,60,30,0.14) 30.2px,rgba(240,60,30,0.13) 31.2px,rgba(12,5,4,0) 33.8px,rgba(12,5,4,0) 35px,rgba(240,60,30,0.11) 36.5px,rgba(240,60,30,0.05) 38.8px,rgba(240,60,30,0.01) 40.8px,rgba(240,60,30,0.08) 43.2px,rgba(240,60,30,0.01) 46.8px,rgba(240,60,30,0.06) 49.5px,rgba(240,60,30,0.01) 53px,rgba(240,60,30,0.04) 56.2px,rgba(240,60,30,0.02) 59.5px,rgba(240,60,30,0.02) 63.2px,rgba(240,60,30,0) 80px)"></i><i style="top:203.7px;height:12px;background:linear-gradient(90deg,rgba(250,192,25,0.95) 0,rgba(250,192,25,0.93) 0.2px,rgba(250,192,25,0.86) 0.5px,rgba(250,192,25,0.65) 1px,rgba(250,192,25,0.29) 1.8px,rgba(250,192,25,0.13) 2.2px,rgba(12,5,4,0.86) 2.5px,rgba(12,5,4,0.92) 5px,rgba(240,60,30,0.17) 5.2px,rgba(240,60,30,0.54) 5.5px,rgba(240,60,30,0.47) 6px,rgba(240,60,30,0.31) 6.5px,rgba(240,60,30,0.19) 6.8px,rgba(240,60,30,0.02) 7px,rgba(12,5,4,0.27) 7.5px,rgba(12,5,4,0.8) 11px,rgba(12,5,4,0.32) 11.2px,rgba(240,60,30,0.28) 11.5px,rgba(240,60,30,0.35) 11.8px,rgba(240,60,30,0.29) 12.2px,rgba(240,60,30,0.16) 12.8px,rgba(240,60,30,0.06) 13px,rgba(12,5,4,0.03) 13.2px,rgba(12,5,4,0.6) 17px,rgba(12,5,4,0.03) 17.5px,rgba(240,60,30,0.2) 17.8px,rgba(240,60,30,0.24) 18px,rgba(240,60,30,0.14) 19px,rgba(12,5,4,0.01) 19.8px,rgba(12,5,4,0.02) 23.5px,rgba(240,60,30,0.17) 24px,rgba(240,60,30,0.18) 24.5px,rgba(240,60,30,0.04) 26.2px,rgba(12,5,4,0.01) 27px,rgba(12,5,4,0.01) 29.2px,rgba(240,60,30,0.14) 30.2px,rgba(240,60,30,0.12) 31.5px,rgba(12,5,4,0) 34.2px,rgba(240,60,30,0.03) 35.2px,rgba(240,60,30,0.11) 36.8px,rgba(240,60,30,0.02) 40.8px,rgba(240,60,30,0.08) 43.2px,rgba(240,60,30,0.01) 46.8px,rgba(240,60,30,0.06) 49.8px,rgba(240,60,30,0.02) 53px,rgba(240,60,30,0.04) 56.2px,rgba(240,60,30,0.02) 59.5px,rgba(240,60,30,0.02) 63.2px,rgba(240,60,30,0) 80px)"></i><i style="top:215.7px;height:12px;background:linear-gradient(90deg,rgba(250,192,25,0.95) 0,rgba(250,192,25,0.93) 0.2px,rgba(250,192,25,0.87) 0.5px,rgba(250,192,25,0.65) 1px,rgba(250,192,25,0.3) 1.8px,rgba(250,192,25,0.14) 2.2px,rgba(12,5,4,0.85) 2.5px,rgba(12,5,4,0.92) 5px,rgba(240,60,30,0.12) 5.2px,rgba(240,60,30,0.52) 5.5px,rgba(240,60,30,0.45) 6px,rgba(240,60,30,0.29) 6.5px,rgba(240,60,30,0.17) 6.8px,rgba(12,5,4,0) 7px,rgba(12,5,4,0.8) 10px,rgba(12,5,4,0.8) 11px,rgba(12,5,4,0.35) 11.2px,rgba(240,60,30,0.24) 11.5px,rgba(240,60,30,0.31) 11.8px,rgba(240,60,30,0.21) 12.5px,rgba(240,60,30,0.04) 13px,rgba(12,5,4,0.04) 13.2px,rgba(12,5,4,0.56) 17px,rgba(12,5,4,0.03) 17.5px,rgba(240,60,30,0.2) 17.8px,rgba(240,60,30,0.24) 18px,rgba(240,60,30,0.15) 19px,rgba(240,60,30,0.01) 19.8px,rgba(12,5,4,0.01) 23.5px,rgba(240,60,30,0.1) 23.8px,rgba(240,60,30,0.17) 24px,rgba(240,60,30,0.18) 24.5px,rgba(240,60,30,0.02) 26.8px,rgba(12,5,4,0.01) 27.5px,rgba(240,60,30,0.01) 29.2px,rgba(240,60,30,0.14) 30.2px,rgba(240,60,30,0.11) 31.8px,rgba(240,60,30,0.01) 34.5px,rgba(240,60,30,0.12) 36.8px,rgba(240,60,30,0.02) 40.8px,rgba(240,60,30,0.08) 43.2px,rgba(240,60,30,0.02) 46.8px,rgba(240,60,30,0.06) 49.8px,rgba(240,60,30,0.02) 53px,rgba(240,60,30,0.04) 56.2px,rgba(240,60,30,0.02) 59.8px,rgba(240,60,30,0.01) 63.8px,rgba(240,60,30,0) 80px)"></i><i style="top:227.7px;height:12px;background:linear-gradient(90deg,rgba(250,193,25,0.95) 0,rgba(250,193,25,0.93) 0.2px,rgba(250,193,25,0.87) 0.5px,rgba(250,193,25,0.66) 1px,rgba(250,193,25,0.32) 1.8px,rgba(250,193,25,0.15) 2.2px,rgba(12,5,4,0.82) 2.5px,rgba(240,60,30,0.06) 5.2px,rgba(240,60,30,0.48) 5.5px,rgba(240,60,30,0.42) 6px,rgba(240,60,30,0.26) 6.5px,rgba(12,5,4,0.02) 7px,rgba(12,5,4,0.79) 10.2px,rgba(12,5,4,0.37) 11.2px,rgba(240,60,30,0.2) 11.5px,rgba(240,60,30,0.28) 11.8px,rgba(240,60,30,0.18) 12.5px,rgba(240,60,30,0.03) 13px,rgba(12,5,4,0.1) 13.5px,rgba(12,5,4,0.29) 17.2px,rgba(12,5,4,0.03) 17.5px,rgba(240,60,30,0.19) 17.8px,rgba(240,60,30,0.24) 18px,rgba(240,60,30,0.16) 19px,rgba(12,5,4,0) 20px,rgba(240,60,30,0.01) 23.5px,rgba(240,60,30,0.11) 23.8px,rgba(240,60,30,0.17) 24px,rgba(240,60,30,0.18) 24.5px,rgba(12,5,4,0) 27.8px,rgba(12,5,4,0) 29px,rgba(240,60,30,0.14) 30.2px,rgba(240,60,30,0.1) 32px,rgba(240,60,30,0.01) 34.5px,rgba(240,60,30,0.11) 36.8px,rgba(240,60,30,0.02) 40.8px,rgba(240,60,30,0.08) 43.2px,rgba(240,60,30,0.02) 47px,rgba(240,60,30,0.06) 49.8px,rgba(240,60,30,0.02) 53.2px,rgba(240,60,30,0.04) 56.5px,rgba(240,60,30,0.02) 60px,rgba(240,60,30,0) 80px)"></i><i style="top:239.7px;height:12px;background:linear-gradient(90deg,rgba(250,194,25,0.95) 0,rgba(250,194,25,0.93) 0.2px,rgba(250,194,25,0.87) 0.5px,rgba(250,194,25,0.67) 1px,rgba(250,194,25,0.33) 1.8px,rgba(250,194,25,0.16) 2.2px,rgba(12,5,4,0.78) 2.5px,rgba(12,5,4,0.87) 5px,rgba(12,5,4,0.01) 5.2px,rgba(240,60,30,0.43) 5.5px,rgba(240,60,30,0.37) 6px,rgba(240,60,30,0.22) 6.5px,rgba(12,5,4,0.03) 7px,rgba(12,5,4,0.76) 10.5px,rgba(12,5,4,0.37) 11.2px,rgba(240,60,30,0.19) 11.5px,rgba(240,60,30,0.27) 11.8px,rgba(240,60,30,0.18) 12.5px,rgba(12,5,4,0.02) 13.2px,rgba(12,5,4,0.23) 17.2px,rgba(12,5,4,0.02) 17.5px,rgba(240,60,30,0.19) 17.8px,rgba(240,60,30,0.23) 18px,rgba(240,60,30,0.14) 19.2px,rgba(12,5,4,0) 20.2px,rgba(12,5,4,0.02) 23.2px,rgba(240,60,30,0.04) 23.5px,rgba(240,60,30,0.17) 24px,rgba(240,60,30,0.17) 24.8px,rgba(240,60,30,0) 28.2px,rgba(240,60,30,0.02) 29px,rgba(240,60,30,0.14) 30.2px,rgba(240,60,30,0.1) 32px,rgba(240,60,30,0.02) 34.8px,rgba(240,60,30,0.11) 36.8px,rgba(240,60,30,0.02) 40.8px,rgba(240,60,30,0.08) 43.2px,rgba(240,60,30,0.02) 47px,rgba(240,60,30,0.06) 49.8px,rgba(240,60,30,0.02) 53.2px,rgba(240,60,30,0.04) 56.5px,rgba(240,60,30,0.02) 60px,rgba(240,60,30,0) 80px)"></i><i style="top:251.7px;height:12px;background:linear-gradient(90deg,rgba(250,195,25,0.95) 0,rgba(250,195,25,0.93) 0.2px,rgba(250,195,25,0.79) 0.8px,rgba(250,195,25,0.34) 1.8px,rgba(250,195,25,0.17) 2.2px,rgba(12,5,4,0.71) 2.5px,rgba(12,5,4,0.82) 5px,rgba(12,5,4,0.04) 5.2px,rgba(240,60,30,0.37) 5.5px,rgba(240,60,30,0.31) 6px,rgba(240,60,30,0.17) 6.5px,rgba(240,60,30,0.05) 6.8px,rgba(12,5,4,0.04) 7px,rgba(12,5,4,0.71) 11px,rgba(12,5,4,0.35) 11.2px,rgba(240,60,30,0.17) 11.5px,rgba(240,60,30,0.26) 11.8px,rgba(240,60,30,0.18) 12.5px,rgba(12,5,4,0) 13.2px,rgba(12,5,4,0.01) 17.5px,rgba(240,60,30,0.18) 17.8px,rgba(240,60,30,0.22) 18px,rgba(240,60,30,0.13) 19.5px,rgba(12,5,4,0) 20.8px,rgba(12,5,4,0) 23.2px,rgba(240,60,30,0.16) 24px,rgba(240,60,30,0.14) 25.2px,rgba(240,60,30,0.01) 28.2px,rgba(240,60,30,0.02) 29px,rgba(240,60,30,0.13) 30.2px,rgba(240,60,30,0.09) 32.2px,rgba(240,60,30,0.02) 34.8px,rgba(240,60,30,0.1) 36.8px,rgba(240,60,30,0.02) 41px,rgba(240,60,30,0.07) 43.5px,rgba(240,60,30,0.02) 47px,rgba(240,60,30,0.05) 50px,rgba(240,60,30,0.02) 53.5px,rgba(240,60,30,0.03) 56.8px,rgba(240,60,30,0.03) 60.8px,rgba(240,60,30,0) 80px)"></i><i style="top:263.7px;height:12px;background:linear-gradient(90deg,rgba(250,196,25,0.95) 0,rgba(250,196,25,0.93) 0.2px,rgba(250,196,25,0.79) 0.8px,rgba(250,196,25,0.26) 2px,rgba(250,196,25,0.13) 2.5px,rgba(12,5,4,0.69) 2.8px,rgba(12,5,4,0.75) 5px,rgba(12,5,4,0.06) 5.2px,rgba(240,60,30,0.31) 5.5px,rgba(240,60,30,0.26) 6px,rgba(240,60,30,0.13) 6.5px,rgba(240,60,30,0.02) 6.8px,rgba(12,5,4,0.65) 11px,rgba(12,5,4,0.33) 11.2px,rgba(240,60,30,0.15) 11.5px,rgba(240,60,30,0.24) 11.8px,rgba(240,60,30,0.18) 12.5px,rgba(12,5,4,0.01) 13.5px,rgba(12,5,4,0) 17.5px,rgba(240,60,30,0.17) 17.8px,rgba(240,60,30,0.2) 18px,rgba(240,60,30,0.11) 19.8px,rgba(240,60,30,0) 21.2px,rgba(12,5,4,0) 23px,rgba(240,60,30,0.07) 23.5px,rgba(240,60,30,0.15) 24px,rgba(240,60,30,0.11) 25.8px,rgba(240,60,30,0.01) 28.5px,rgba(240,60,30,0.04) 29.2px,rgba(240,60,30,0.13) 30.5px,rgba(240,60,30,0.02) 34.8px,rgba(240,60,30,0.09) 37px,rgba(240,60,30,0.02) 41px,rgba(240,60,30,0.07) 43.5px,rgba(240,60,30,0.02) 47.2px,rgba(240,60,30,0.04) 50.2px,rgba(240,60,30,0.02) 53.8px,rgba(240,60,30,0.02) 57.2px,rgba(240,60,30,0) 80px)"></i><i style="top:275.7px;height:12px;background:linear-gradient(90deg,rgba(250,197,25,0.95) 0,rgba(250,197,25,0.93) 0.2px,rgba(250,197,25,0.8) 0.8px,rgba(250,197,25,0.27) 2px,rgba(250,197,25,0.13) 2.5px,rgba(12,5,4,0.59) 2.8px,rgba(12,5,4,0.67) 5px,rgba(12,5,4,0.06) 5.2px,rgba(240,60,30,0.27) 5.5px,rgba(240,60,30,0.22) 6px,rgba(240,60,30,0.12) 6.5px,rgba(240,60,30,0.02) 6.8px,rgba(12,5,4,0.29) 11.2px,rgba(240,60,30,0.21) 11.8px,rgba(240,60,30,0.14) 12.8px,rgba(240,60,30,0.01) 13.5px,rgba(240,60,30,0.01) 17.5px,rgba(240,60,30,0.15) 17.8px,rgba(240,60,30,0.17) 18.2px,rgba(240,60,30,0) 22.2px,rgba(240,60,30,0.01) 23px,rgba(240,60,30,0.13) 24px,rgba(240,60,30,0.09) 26px,rgba(240,60,30,0.01) 28.8px,rgba(240,60,30,0.11) 30.5px,rgba(240,60,30,0.02) 35px,rgba(240,60,30,0.08) 37px,rgba(240,60,30,0.03) 41.2px,rgba(240,60,30,0.06) 43.8px,rgba(240,60,30,0.02) 47.5px,rgba(240,60,30,0.04) 50.5px,rgba(240,60,30,0.02) 54px,rgba(240,60,30,0) 80px)"></i><i style="top:287.7px;height:12px;background:linear-gradient(90deg,rgba(250,198,25,0.95) 0,rgba(250,198,25,0.93) 0.2px,rgba(250,198,25,0.8) 0.8px,rgba(250,198,25,0.28) 2px,rgba(250,198,25,0.14) 2.5px,rgba(12,5,4,0.5) 2.8px,rgba(12,5,4,0.57) 5px,rgba(12,5,4,0.06) 5.2px,rgba(240,60,30,0.23) 5.5px,rgba(240,60,30,0.16) 6.2px,rgba(240,60,30,0.03) 6.8px,rgba(12,5,4,0.02) 7px,rgba(12,5,4,0.24) 11.2px,rgba(240,60,30,0.18) 11.8px,rgba(240,60,30,0.11) 13px,rgba(12,5,4,0.01) 14px,rgba(12,5,4,0.03) 17.2px,rgba(240,60,30,0.04) 17.5px,rgba(240,60,30,0.13) 17.8px,rgba(240,60,30,0.15) 18.5px,rgba(240,60,30,0.01) 22.5px,rgba(240,60,30,0.04) 23.2px,rgba(240,60,30,0.12) 24.2px,rgba(240,60,30,0.01) 28.8px,rgba(240,60,30,0.1) 30.5px,rgba(240,60,30,0.02) 35px,rgba(240,60,30,0.07) 37.2px,rgba(240,60,30,0.02) 41.2px,rgba(240,60,30,0.05) 44px,rgba(240,60,30,0.02) 47.8px,rgba(240,60,30,0.03) 51.2px,rgba(240,60,30,0) 80px)"></i><i style="top:299.7px;height:12px;background:linear-gradient(90deg,rgba(250,199,25,0.95) 0,rgba(250,199,25,0.93) 0.2px,rgba(250,199,25,0.81) 0.8px,rgba(250,199,25,0.29) 2px,rgba(250,199,25,0.15) 2.5px,rgba(12,5,4,0.38) 2.8px,rgba(12,5,4,0.46) 5px,rgba(12,5,4,0.05) 5.2px,rgba(240,60,30,0.19) 5.5px,rgba(240,60,30,0.14) 6.2px,rgba(12,5,4,0.01) 7px,rgba(12,5,4,0.18) 11.2px,rgba(240,60,30,0.15) 11.8px,rgba(240,60,30,0.09) 13.2px,rgba(12,5,4,0) 14.2px,rgba(12,5,4,0.01) 17.2px,rgba(240,60,30,0.12) 17.8px,rgba(240,60,30,0.1) 19.5px,rgba(240,60,30,0.01) 22.8px,rgba(240,60,30,0.1) 24.2px,rgba(240,60,30,0.02) 29px,rgba(240,60,30,0.08) 30.8px,rgba(240,60,30,0.02) 35.2px,rgba(240,60,30,0.06) 37.5px,rgba(240,60,30,0.02) 41.5px,rgba(240,60,30,0.04) 44.5px,rgba(240,60,30,0.03) 48.2px,rgba(240,60,30,0) 80px)"></i><i style="top:311.7px;height:12px;background:linear-gradient(90deg,rgba(250,200,25,0.95) 0,rgba(250,200,25,0.93) 0.2px,rgba(250,200,25,0.81) 0.8px,rgba(250,200,25,0.3) 2px,rgba(250,200,25,0.16) 2.5px,rgba(12,5,4,0.27) 2.8px,rgba(12,5,4,0.04) 5.2px,rgba(240,60,30,0.15) 5.5px,rgba(240,60,30,0.09) 6.5px,rgba(12,5,4,0) 7px,rgba(12,5,4,0.12) 11.2px,rgba(240,60,30,0.12) 11.8px,rgba(240,60,30,0.05) 14px,rgba(12,5,4,0) 15px,rgba(12,5,4,0) 17.2px,rgba(240,60,30,0.09) 17.8px,rgba(240,60,30,0.05) 20.5px,rgba(240,60,30,0.01) 23px,rgba(240,60,30,0.08) 24.2px,rgba(240,60,30,0.02) 29px,rgba(240,60,30,0.06) 30.8px,rgba(240,60,30,0.02) 35.2px,rgba(240,60,30,0.05) 37.8px,rgba(240,60,30,0.03) 42px,rgba(240,60,30,0) 80px)"></i><i style="top:323.7px;height:12px;background:linear-gradient(90deg,rgba(250,201,25,0.95) 0,rgba(250,201,25,0.93) 0.2px,rgba(250,201,25,0.81) 0.8px,rgba(250,201,25,0.31) 2px,rgba(250,201,25,0.17) 2.5px,rgba(12,5,4,0.18) 2.8px,rgba(12,5,4,0.03) 5.2px,rgba(240,60,30,0.12) 5.5px,rgba(240,60,30,0.05) 6.8px,rgba(12,5,4,0) 7.2px,rgba(12,5,4,0.07) 11.2px,rgba(240,60,30,0.09) 11.8px,rgba(12,5,4,0) 16.5px,rgba(240,60,30,0.02) 17.2px,rgba(240,60,30,0.07) 17.8px,rgba(240,60,30,0.01) 23px,rgba(240,60,30,0.06) 24.5px,rgba(240,60,30,0.02) 29.2px,rgba(240,60,30,0.05) 31.2px,rgba(240,60,30,0.02) 35.8px,rgba(240,60,30,0) 80px)"></i><i style="top:335.7px;height:12px;background:linear-gradient(90deg,rgba(250,202,25,0.95) 0,rgba(250,202,25,0.89) 0.5px,rgba(250,202,25,0.73) 1px,rgba(250,202,25,0.33) 2px,rgba(250,202,25,0.13) 2.8px,rgba(12,5,4,0.12) 3px,rgba(12,5,4,0.02) 5.2px,rgba(240,60,30,0.08) 5.5px,rgba(240,60,30,0.03) 7px,rgba(12,5,4,0.01) 7.8px,rgba(12,5,4,0.04) 11.2px,rgba(240,60,30,0.07) 11.8px,rgba(240,60,30,0) 17px,rgba(240,60,30,0.05) 18px,rgba(240,60,30,0.02) 23.2px,rgba(240,60,30,0.04) 25px,rgba(240,60,30,0.02) 29.5px,rgba(240,60,30,0.02) 33.5px,rgba(240,60,30,0) 80px)"></i><i style="top:347.7px;height:12px;background:linear-gradient(90deg,rgba(250,203,25,0.95) 0,rgba(250,203,25,0.89) 0.5px,rgba(250,203,25,0.73) 1px,rgba(250,203,25,0.34) 2px,rgba(250,203,25,0.13) 2.8px,rgba(12,5,4,0.06) 3px,rgba(12,5,4,0.01) 5.2px,rgba(240,60,30,0.05) 5.5px,rgba(12,5,4,0.01) 8.2px,rgba(12,5,4,0.02) 11.2px,rgba(240,60,30,0.04) 12px,rgba(240,60,30,0.01) 17.2px,rgba(240,60,30,0.03) 19.2px,rgba(240,60,30,0.02) 23.5px,rgba(240,60,30,0) 80px)"></i><i style="top:359.7px;height:12px;background:linear-gradient(90deg,rgba(250,204,25,0.95) 0,rgba(250,204,25,0.89) 0.5px,rgba(250,204,25,0.74) 1px,rgba(250,204,25,0.35) 2px,rgba(250,204,25,0.14) 2.8px,rgba(12,5,4,0.03) 3px,rgba(12,5,4,0.01) 5.2px,rgba(240,60,30,0.03) 5.8px,rgba(12,5,4,0.01) 11px,rgba(240,60,30,0.02) 13.2px,rgba(240,60,30,0) 80px)"></i><i style="top:371.7px;height:12px;background:linear-gradient(90deg,rgba(250,205,25,0.95) 0,rgba(250,205,25,0.89) 0.5px,rgba(250,205,25,0.74) 1px,rgba(250,205,25,0.27) 2.2px,rgba(250,205,25,0.15) 2.8px,rgba(12,5,4,0.01) 3px,rgba(240,60,30,0) 80px)"></i><i style="top:383.7px;height:12px;background:linear-gradient(90deg,rgba(250,206,25,0.95) 0,rgba(250,206,25,0.9) 0.5px,rgba(250,206,25,0.75) 1px,rgba(250,206,25,0.28) 2.2px,rgba(250,206,25,0.16) 2.8px,rgba(12,5,4,0) 3px,rgba(240,60,30,0) 80px)"></i><i style="top:395.7px;height:12px;background:linear-gradient(90deg,rgba(250,207,25,0.95) 0,rgba(250,207,25,0.9) 0.5px,rgba(250,207,25,0.75) 1px,rgba(250,207,25,0.29) 2.2px,rgba(250,207,25,0.16) 2.8px,rgba(12,5,4,0) 3px,rgba(240,60,30,0) 80px)"></i><i style="top:407.7px;height:12px;background:linear-gradient(90deg,rgba(250,208,25,0.95) 0,rgba(250,208,25,0.9) 0.5px,rgba(250,208,25,0.76) 1px,rgba(250,208,25,0.3) 2.2px,rgba(250,208,25,0.13) 3px,rgba(12,5,4,0) 3.2px,rgba(240,60,30,0) 80px)"></i><i style="top:419.7px;height:12px;background:linear-gradient(90deg,rgba(250,209,25,0.95) 0,rgba(250,209,25,0.9) 0.5px,rgba(250,209,25,0.76) 1px,rgba(250,209,25,0.31) 2.2px,rgba(250,209,25,0.13) 3px,rgba(12,5,4,0) 3.2px,rgba(240,60,30,0) 80px)"></i><i style="top:431.7px;height:12px;background:linear-gradient(90deg,rgba(250,210,25,0.95) 0,rgba(250,210,25,0.9) 0.5px,rgba(250,210,25,0.68) 1.2px,rgba(250,210,25,0.32) 2.2px,rgba(250,210,25,0.14) 3px,rgba(12,5,4,0) 3.2px,rgba(240,60,30,0) 80px)"></i><i style="top:443.7px;height:12px;background:linear-gradient(90deg,rgba(250,211,25,0.95) 0,rgba(250,211,25,0.9) 0.5px,rgba(250,211,25,0.69) 1.2px,rgba(250,211,25,0.33) 2.2px,rgba(250,211,25,0.15) 3px,rgba(12,5,4,0) 3.2px,rgba(240,60,30,0) 80px)"></i><i style="top:455.7px;height:12px;background:linear-gradient(90deg,rgba(250,212,25,0.95) 0,rgba(250,212,25,0.9) 0.5px,rgba(250,212,25,0.69) 1.2px,rgba(250,212,25,0.27) 2.5px,rgba(250,212,25,0.15) 3px,rgba(12,5,4,0) 3.2px,rgba(240,60,30,0) 80px)"></i><i style="top:467.7px;height:12px;background:linear-gradient(90deg,rgba(250,213,25,0.95) 0,rgba(250,213,25,0.9) 0.5px,rgba(250,213,25,0.7) 1.2px,rgba(250,213,25,0.28) 2.5px,rgba(250,213,25,0.16) 3px,rgba(12,5,4,0) 3.2px,rgba(240,60,30,0) 80px)"></i><i style="top:479.7px;height:12px;background:linear-gradient(90deg,rgba(250,214,25,0.95) 0,rgba(250,214,25,0.91) 0.5px,rgba(250,214,25,0.7) 1.2px,rgba(250,214,25,0.29) 2.5px,rgba(250,214,25,0.12) 3.2px,rgba(12,5,4,0) 3.5px,rgba(240,60,30,0) 80px)"></i><i style="top:491.7px;height:14px;background:linear-gradient(90deg,rgba(250,214,25,0.95) 0,rgba(250,214,25,0.91) 0.5px,rgba(250,214,25,0.71) 1.2px,rgba(250,214,25,0.29) 2.5px,rgba(250,214,25,0.13) 3.2px,rgba(240,60,30,0) 3.5px,rgba(240,60,30,0) 80px)"></i></div></div>
<div class="hm" style="left:1227px;top:47.3px;width:272px;height:274.7px"><div class="bl" style="filter:url(#vb2)"><i style="top:-12.3px;height:17px;background:linear-gradient(90deg,#dc2a1c 0,#e63c12 0.5px,#f8b70a 1px,#dfe00a 1.5px,#ade37f 2px,#91dfe0 2.5px,#6ebae1 3px,#5989c7 3.5px,#4a6cba 4px,#4038ab 6px,#3d2ca8 9px,#3d2ca8 19px,#4a69b9 19.5px,#80cfe8 20px,#8cdbec 20.5px,#7bc9e6 23.5px,#619ed2 26px,#4963b7 29.5px,#4036aa 35px,#3e31a9 41.5px,#4b6dbb 42.5px,#5f98cf 43px,#6bb6df 43.5px,#64a4d5 47px,#4861b6 53px,#413bab 59.5px,#413bab 64px,#5785c5 66.5px,#5b8fc9 67.5px,#4c70bc 73.5px,#4241ad 84px,#4344ad 86.5px,#4c70bc 90.5px,#4449af 108.5px,#4963b7 115px,#4651b0 132px,#475ab4 141px,#4754b2 157px,#4652b1 272px)"></i><i style="top:4.7px;height:5px;background:linear-gradient(90deg,#dc2a1c 0,#e63c12 0.5px,#f8b50a 1px,#e1e008 1.5px,#afe379 2px,#92e0de 2.5px,#70bde2 3px,#5a8cc8 3.5px,#4b6ebb 4px,#4039ab 6px,#3d2ca8 8.5px,#3d2ca8 19px,#4a69b9 19.5px,#80cfe8 20px,#8cdbec 20.5px,#7bc9e6 23.5px,#629fd2 26px,#4964b7 29.5px,#4037aa 35px,#3e31a9 41.5px,#4b6dbb 42.5px,#5f99cf 43px,#6bb6df 43.5px,#64a4d5 47px,#4962b6 53px,#403aab 60px,#413bab 64px,#5785c5 66.5px,#5b8fc9 67.5px,#4c70bc 73.5px,#4241ad 84px,#4345ad 86.5px,#4c70bc 90.5px,#454aaf 108.5px,#4963b7 115px,#4651b0 132px,#485bb4 141px,#4755b2 157px,#4652b1 272px)"></i><i style="top:9.7px;height:5px;background:linear-gradient(90deg,#dc2a1c 0,#e53b13 0.5px,#f8b30a 1px,#e2e009 1.5px,#b2e274 2px,#93e1db 2.5px,#73c0e3 3px,#5c90ca 3.5px,#4c71bc 4px,#413aab 6px,#3d2ca8 8.5px,#3d2ca8 19px,#4a69b9 19.5px,#80cfe8 20px,#8cdcec 20.5px,#7ccae6 23.5px,#62a0d3 26px,#4965b7 29.5px,#4038ab 35px,#3e31a9 41.5px,#4b6dbb 42.5px,#5f99cf 43px,#6bb6df 43.5px,#64a5d6 47px,#485fb5 53.5px,#413bab 60px,#413bab 64px,#5785c5 66.5px,#5b8fc9 67.5px,#4d71bc 73.5px,#4342ad 84px,#4345ae 86.5px,#4c70bc 90.5px,#454baf 108.5px,#4963b7 115px,#4652b1 132px,#485bb4 141.5px,#4755b2 157px,#4653b1 272px)"></i><i style="top:14.7px;height:5px;background:linear-gradient(90deg,#dc2a1c 0,#e53b13 0.5px,#f8b109 1px,#e4e009 1.5px,#b5e26e 2px,#94e2d8 2.5px,#76c3e4 3px,#5d93cc 3.5px,#4e73bd 4px,#4446ae 5.5px,#3e31a9 7px,#3d2ca8 19px,#4a69b9 19.5px,#80cfe8 20px,#8cdcec 20.5px,#77c4e4 24px,#4a6bba 29px,#4038ab 35px,#3e31a9 41.5px,#4b6dbb 42.5px,#5f99cf 43px,#6bb7df 43.5px,#64a5d6 47px,#485fb6 53.5px,#413aab 60.5px,#413cac 64px,#5785c5 66.5px,#5b8fc9 67.5px,#4b6ebb 74px,#4342ad 84.5px,#4346ae 86.5px,#4c70bc 90.5px,#454caf 108.5px,#4963b7 115px,#4653b1 132.5px,#485bb4 141.5px,#4756b2 157.5px,#4653b1 272px)"></i><i style="top:19.7px;height:5px;background:linear-gradient(90deg,#dc2a1c 0,#e53b13 0.5px,#f8af09 1px,#e6e00a 1.5px,#b8e268 2px,#96e2d6 2.5px,#78c6e5 3px,#5f97ce 3.5px,#4f76be 4px,#4448ae 5.5px,#3e31a9 7px,#3d2ca8 19px,#4a69b9 19.5px,#80cfe8 20px,#8cdcec 20.5px,#77c5e4 24px,#4967b8 29.5px,#4037aa 35.5px,#3e31a9 41.5px,#4b6ebb 42.5px,#5f99cf 43px,#6bb7df 43.5px,#65a6d6 47px,#4860b6 53.5px,#413bab 60.5px,#413cac 64px,#5785c5 66.5px,#5b8fca 67.5px,#4b6fbb 74px,#4343ad 84.5px,#4446ae 86.5px,#4c70bc 90.5px,#454caf 108.5px,#4963b7 115px,#4653b1 132.5px,#485cb4 141.5px,#4757b2 157.5px,#4754b1 272px)"></i><i style="top:24.7px;height:5px;background:linear-gradient(90deg,#dc2a1c 0,#e53a13 0.5px,#f8ad09 1px,#e7e00a 1.5px,#bbe163 2px,#97e3d3 2.5px,#7bc9e6 3px,#609bd0 3.5px,#5079c0 4px,#4756b2 5px,#4036aa 6.5px,#3d2ca8 10.5px,#3d2ca8 19px,#4a69b9 19.5px,#80cfe8 20px,#8cdcec 20.5px,#78c5e4 24px,#4968b9 29.5px,#4038ab 35.5px,#3e32a9 41.5px,#4b6ebb 42.5px,#5f99cf 43px,#6bb7df 43.5px,#65a6d6 47px,#4861b6 53.5px,#413bab 60.5px,#413cac 64px,#5b8ec9 67px,#4f77bf 73px,#4447ae 83px,#4447ae 86.5px,#4c70bc 90.5px,#454daf 108.5px,#4963b7 115.5px,#4754b1 132.5px,#485cb4 141.5px,#4757b3 157.5px,#4755b2 272px)"></i><i style="top:29.7px;height:5px;background:linear-gradient(90deg,#dc2a1c 0,#e53a13 0.5px,#f8ab08 1px,#e9e00b 1.5px,#bee15d 2px,#98e4d0 2.5px,#7ecce7 3px,#629fd3 3.5px,#527bc1 4px,#4758b3 5px,#4037ab 6.5px,#3d2ca8 10px,#3d2ca8 19px,#4a69b9 19.5px,#80cfe8 20px,#8cdcec 20.5px,#78c6e5 24px,#4a69b9 29.5px,#4039ab 35.5px,#3e32a9 41.5px,#4b6ebb 42.5px,#5f99cf 43px,#6bb7df 43.5px,#65a7d7 47px,#4962b6 53.5px,#413bab 61px,#413dac 64px,#5b8ec9 67px,#5077bf 73px,#4448ae 83px,#4447ae 86.5px,#4c71bc 90.5px,#454eb0 108.5px,#4963b7 115.5px,#4754b2 132.5px,#485db5 141.5px,#4758b3 157.5px,#4755b2 272px)"></i><i style="top:34.7px;height:5px;background:linear-gradient(90deg,#dc2a1c 0,#e43914 0.5px,#f8a908 1px,#eae00b 1.5px,#c0e057 2px,#99e4c8 2.5px,#81d0e8 3px,#64a4d5 3.5px,#537ec2 4px,#4759b3 5px,#3f33aa 7px,#3d2ca8 15.5px,#3d2ca8 19px,#4a69b9 19.5px,#80cfe8 20px,#8cdcec 20.5px,#79c7e5 24px,#4965b8 30px,#4037ab 36px,#3e32a9 41.5px,#4b6ebb 42.5px,#5f99cf 43px,#6bb7df 43.5px,#65a7d7 47px,#4860b6 54px,#413cab 61px,#413dac 64px,#5b8ec9 67px,#5078bf 73px,#4449ae 83px,#4448ae 86.5px,#4c71bc 90.5px,#464fb0 108.5px,#4963b7 115.5px,#4755b2 132.5px,#485db5 141.5px,#4758b3 157.5px,#4756b2 272px)"></i><i style="top:39.7px;height:5px;background:linear-gradient(90deg,#dc2a1c 0,#e43914 0.5px,#f8a608 1px,#ece00c 1.5px,#c3e051 2px,#9be4c1 2.5px,#84d3e9 3px,#65a8d7 3.5px,#5581c3 4px,#485bb4 5px,#3f34aa 7px,#3d2ca8 13.5px,#3d2ca8 19px,#4a69b9 19.5px,#80cfe8 20px,#8cdcec 20.5px,#79c7e5 24px,#5d94cd 27px,#4962b6 30.5px,#4036aa 36.5px,#3e32a9 41.5px,#4b6ebb 42.5px,#5f99cf 43px,#6bb7df 43.5px,#65a8d7 47px,#4861b6 54px,#413bab 61.5px,#413dac 64px,#5b8ec9 67px,#5079bf 73px,#454aaf 83px,#4449ae 86.5px,#4c71bc 90.5px,#4651b0 109px,#4963b7 115.5px,#4755b2 132.5px,#485eb5 141.5px,#4759b3 157.5px,#4756b2 272px)"></i><i style="top:44.7px;height:5px;background:linear-gradient(90deg,#dc2a1c 0,#e43914 0.5px,#f7a208 1px,#eee00d 1.5px,#c6e04b 2px,#9ce4b9 2.5px,#87d7ea 3px,#67acda 3.5px,#5684c5 4px,#4a6bba 4.5px,#413bab 6.5px,#3d2da8 9px,#3d2ca8 19px,#4a69b9 19.5px,#80cfe8 20px,#8cdcec 20.5px,#7ac8e5 24px,#5e96cd 27px,#4963b7 30.5px,#4037aa 36.5px,#3f32a9 41.5px,#4b6ebb 42.5px,#5f99cf 43px,#6bb7df 43.5px,#64a4d5 47.5px,#4962b6 54px,#413cac 61.5px,#413eac 64px,#5b8ec9 67px,#5179c0 73px,#454baf 83px,#4449ae 86.5px,#4c71bc 90.5px,#4651b0 109px,#4964b7 115.5px,#4756b2 132.5px,#485eb5 141.5px,#475ab4 158px,#4757b2 272px)"></i><i style="top:49.7px;height:5px;background:linear-gradient(90deg,#dc2a1c 0,#e43814 0.5px,#f69e09 1px,#f0e00d 1.5px,#c8e045 2px,#9ee4b1 2.5px,#8adaeb 3px,#69b1dc 3.5px,#5888c6 4px,#4b6ebb 4.5px,#413dac 6.5px,#3d2da8 9px,#3d2ca8 19px,#4a69b9 19.5px,#80cfe8 20px,#8cdcec 20.5px,#7ac8e5 24px,#5f98ce 27px,#4964b7 30.5px,#4038ab 36.5px,#3f32a9 41.5px,#4b6ebb 42.5px,#5f99cf 43px,#6bb7df 43.5px,#64a4d5 47.5px,#485fb5 54.5px,#413cab 62px,#423eac 64px,#5b8ec9 67px,#517ac0 73px,#454caf 83px,#444aaf 86.5px,#4d72bc 91px,#4652b1 109px,#4964b7 115.5px,#4756b2 132.5px,#485fb5 141.5px,#475ab4 158px,#4757b3 272px)"></i><i style="top:54.7px;height:5px;background:linear-gradient(90deg,#dc2a1c 0,#e43814 0.5px,#f69a09 1px,#f1e00e 1.5px,#cae03f 2px,#9fe4a9 2.5px,#8dddea 3px,#6bb6df 3.5px,#5a8bc8 4px,#4860b6 5px,#4037aa 7px,#3d2ca8 11px,#3d2ca8 19px,#4a69b9 19.5px,#80cfe8 20px,#8cdcec 20.5px,#7bc9e6 24px,#609ad0 27px,#4965b8 30.5px,#4037aa 37px,#3f32a9 41.5px,#4b6ebb 42.5px,#5f99cf 43px,#6bb7df 43.5px,#64a5d5 47.5px,#4860b6 54.5px,#413cac 62px,#423fac 64px,#5b8ec9 67px,#5077bf 73.5px,#454caf 83.5px,#454baf 86.5px,#4d72bc 91px,#4652b1 109px,#4965b7 115.5px,#4757b3 132.5px,#485fb5 142px,#485bb4 158px,#4758b3 272px)"></i><i style="top:59.7px;height:5px;background:linear-gradient(90deg,#dc2a1c 0,#e33715 0.5px,#f59509 1px,#f3e00e 1.5px,#cde039 2px,#a1e4a1 2.5px,#8edee7 3px,#6ebae1 3.5px,#5b90ca 4px,#4962b7 5px,#4038ab 7px,#3d2ca8 10.5px,#3d2ca8 19px,#4a69b9 19.5px,#80cfe8 20px,#8cdcec 20.5px,#7bc9e6 24px,#609cd1 27px,#4967b8 30.5px,#4038ab 37px,#3f33aa 41.5px,#4b6ebb 42.5px,#5f99cf 43px,#6bb7df 43.5px,#64a5d6 47.5px,#4962b6 54.5px,#413dac 62.5px,#4240ac 64px,#5078bf 66px,#5b8ec9 67px,#5078bf 73.5px,#4651b0 82.5px,#454daf 86.5px,#4d72bc 91px,#4754b1 109px,#4967b8 115.5px,#475ab4 133px,#4962b6 142px,#485eb5 158.5px,#475ab4 272px)"></i><i style="top:64.7px;height:5px;background:linear-gradient(90deg,#dc2a1c 0,#e33715 0.5px,#f4910a 1px,#f5e00f 1.5px,#cfe033 2px,#a2e499 2.5px,#90dfe3 3px,#72bee2 3.5px,#5d95cd 4px,#5077bf 4.5px,#4758b3 5.5px,#3f34aa 7.5px,#3d2ca8 14px,#3d2ca8 19px,#4a69b9 19.5px,#80cfe8 20px,#8cdcec 20.5px,#7ccae6 24px,#619ed2 27px,#4964b7 31px,#4038ab 37.5px,#3f34aa 41.5px,#4b6ebb 42.5px,#5f99cf 43px,#6bb7df 43.5px,#65a6d6 47.5px,#4860b6 55px,#413eac 63px,#4241ad 64px,#5078bf 66px,#5b8ec9 67px,#517ac0 73.5px,#4652b1 83px,#464fb0 86.5px,#4d72bc 91px,#4756b2 109px,#4a6ab9 115.5px,#485db5 133px,#4964b7 142.5px,#4861b6 159px,#485db5 272px)"></i><i style="top:69.7px;height:5px;background:linear-gradient(90deg,#dc2a1c 0,#e33715 0.5px,#f48c0a 1px,#f6e00f 1.5px,#d1e02d 2px,#a4e491 2.5px,#92e0df 3px,#75c2e3 3.5px,#609acf 4px,#517bc1 4.5px,#475ab4 5.5px,#3f35aa 7.5px,#3d2ca8 12.5px,#3d2ca8 19px,#4a69b9 19.5px,#80cfe8 20px,#8cdcec 20.5px,#7dcbe6 24px,#62a0d3 27px,#4965b8 31px,#4039ab 37.5px,#3f34aa 41.5px,#4b6ebb 42.5px,#5f99cf 43px,#6bb7df 43.5px,#65a7d7 47.5px,#4861b6 55px,#423fac 63.5px,#4651b0 64.5px,#5078bf 66px,#5b8ec9 67px,#5078bf 74px,#4652b1 83.5px,#4754b1 87px,#4d72bd 91px,#4758b3 109px,#4a6cba 115.5px,#4860b6 133px,#4967b8 142.5px,#4964b7 159px,#4860b6 272px)"></i><i style="top:74.7px;height:5px;background:linear-gradient(90deg,#dc2a1c 0,#e33615 0.5px,#f3880a 1px,#f8e010 1.5px,#d4e027 2px,#a8e488 2.5px,#93e1db 3px,#79c7e5 3.5px,#537fc2 4.5px,#485cb4 5.5px,#4036aa 7.5px,#3d2ca8 12px,#3d2ca8 19px,#4a69b9 19.5px,#80cfe8 20px,#8cdcec 20.5px,#79c6e5 24.5px,#4967b8 31px,#4039ab 38px,#3f35aa 41.5px,#4b6fbb 42.5px,#5f99cf 43px,#6bb7df 43.5px,#65a7d7 47.5px,#4860b6 55.5px,#4241ad 63.5px,#4651b1 64.5px,#5079bf 66px,#5b8fc9 67px,#5079c0 74px,#4754b1 83.5px,#4755b2 87px,#4f76be 91px,#485bb4 109px,#4c70bc 115.5px,#4963b7 133px,#4a69b9 143px,#4967b8 159.5px,#4962b7 272px)"></i><i style="top:79.7px;height:5px;background:linear-gradient(90deg,#dc2a1c 0,#e23616 0.5px,#f2840b 1px,#f8dc0f 1.5px,#d6e021 2px,#ace380 2.5px,#95e2d7 3px,#7dcbe6 3.5px,#64a5d5 4px,#5582c4 4.5px,#485eb5 5.5px,#4038ab 7.5px,#3d2ca8 11px,#3d2ca8 19px,#4a69b9 19.5px,#80cfe8 20px,#8cdcec 20.5px,#79c7e5 24.5px,#609bd0 27.5px,#4964b7 31.5px,#4039ab 38.5px,#3f36aa 41.5px,#4b6fbb 42.5px,#5f99cf 43px,#6bb7df 43.5px,#64a4d5 48px,#4861b6 55.5px,#4342ad 63.5px,#4652b1 64.5px,#5079c0 66px,#5b8fc9 67px,#517ac0 74px,#4756b2 83.5px,#4757b3 87px,#5079c0 91px,#485eb5 109px,#4e73bd 115.5px,#4966b8 133px,#4a6cba 142.5px,#4a6ab9 160px,#4965b7 272px)"></i><i style="top:84.7px;height:5px;background:linear-gradient(90deg,#dc2a1c 0,#e23516 0.5px,#f27f0b 1px,#f8d80f 1.5px,#d9e01b 2px,#b0e277 2.5px,#97e3d3 3px,#81d0e8 3.5px,#66aad8 4px,#5786c6 4.5px,#4861b6 5.5px,#3f34aa 8px,#3d2ca8 14.5px,#3d2ca8 19px,#4a69b9 19.5px,#80cfe8 20px,#8cdcec 20.5px,#7ac8e5 24.5px,#619dd1 27.5px,#4966b8 31.5px,#413aab 38.5px,#4036aa 41.5px,#4c6fbb 42.5px,#5f99cf 43px,#6bb7df 43.5px,#64a5d6 48px,#4963b7 55.5px,#4344ad 63.5px,#485db5 65px,#5b8fc9 67px,#5079c0 74.5px,#4756b2 84.5px,#4759b3 87px,#527cc1 91px,#4861b6 109px,#4f77bf 115.5px,#4a69b9 133px,#4c70bc 142px,#4a6cba 159.5px,#4968b8 272px)"></i><i style="top:89.7px;height:5px;background:linear-gradient(90deg,#dc2a1c 0,#e23516 0.5px,#f17b0b 1px,#f8d30e 1.5px,#dbe014 2px,#98e4ce 3px,#85d4e9 3.5px,#69b0dc 4px,#598bc7 4.5px,#4963b7 5.5px,#3f36aa 8px,#3d2ca8 13px,#3d2ca8 19px,#4a69b9 19.5px,#80cfe8 20px,#8cdcec 20.5px,#7bc9e6 24.5px,#62a0d3 27.5px,#4968b8 31.5px,#403aab 39px,#4037aa 41.5px,#4c6fbb 42.5px,#6099cf 43px,#6bb7df 43.5px,#65a6d6 48px,#4962b6 56px,#4446ae 63.5px,#485eb5 65px,#5b8fc9 67px,#5078bf 75px,#4757b3 85px,#4860b6 87.5px,#5480c3 91px,#4964b7 109px,#517ac0 115.5px,#4a6cba 133px,#4e74be 142px,#4c6fbb 158.5px,#4a6ab9 272px)"></i><i style="top:94.7px;height:5px;background:linear-gradient(90deg,#dc2a1c 0,#e23516 0.5px,#f0770c 1px,#f8cf0e 1.5px,#dee00e 2px,#9ae4c3 3px,#89d9eb 3.5px,#6bb6df 4px,#5c90ca 4.5px,#4966b8 5.5px,#4037aa 8px,#3d2ca8 12.5px,#3d2ca8 19px,#4a69b9 19.5px,#80cfe8 20px,#8cdcec 20.5px,#7cc9e6 24.5px,#5f99cf 28px,#4965b8 32px,#413aab 39.5px,#4038ab 41.5px,#4c70bc 42.5px,#609acf 43px,#6bb7df 43.5px,#65a7d7 48px,#4861b6 56.5px,#4448ae 63.5px,#485fb5 65px,#5b8fc9 67px,#5078bf 75.5px,#475ab4 85.5px,#4a6dba 88.5px,#5683c4 91px,#4968b9 109px,#537ec2 115.5px,#4c70bc 133px,#5078bf 142.5px,#4e74bd 159px,#4b6ebb 272px)"></i><i style="top:99.7px;height:5px;background:linear-gradient(90deg,#dc2a1c 0,#e23416 0.5px,#f0720c 1px,#f8cb0d 1.5px,#e0e008 2px,#9ce4b8 3px,#8dddea 3.5px,#6fbce1 4px,#5e96ce 4.5px,#4a69b9 5.5px,#4039ab 8px,#3d2ca8 11.5px,#3d2ca8 19px,#4a69b9 19.5px,#80cfe8 20px,#8cdcec 20.5px,#7ccae6 24.5px,#609cd1 28px,#4963b7 32.5px,#413aab 40px,#4039ab 41.5px,#4c70bc 42.5px,#609acf 43px,#6bb7df 43.5px,#65a8d7 48px,#4963b7 56.5px,#454eaf 64px,#517ac0 66px,#5b8fca 67px,#5078bf 76px,#485db5 86px,#5078bf 89px,#5888c6 91px,#4b6ebb 109.5px,#5582c4 115.5px,#4f76be 133.5px,#527cc1 143.5px,#5179c0 160px,#4d72bd 272px)"></i><i style="top:104.7px;height:5px;background:linear-gradient(90deg,#dc2a1c 0,#e13417 0.5px,#ef6e0c 1px,#f8c70c 1.5px,#e3e009 2px,#c2e054 2.5px,#9ee4ad 3px,#8fdee5 3.5px,#74c1e3 4px,#5480c3 5px,#485fb5 6px,#3f35aa 8.5px,#3d2ca8 14px,#3d2ca8 19px,#4a69b9 19.5px,#80cfe8 20px,#8cdcec 20.5px,#79c7e5 25px,#5e96cd 28.5px,#4965b8 32.5px,#413cac 40px,#413aab 41.5px,#4c70bc 42.5px,#609ad0 43px,#6bb7df 43.5px,#64a5d6 48.5px,#4962b6 57px,#4650b0 64px,#4b6ebb 65.5px,#5e95cd 67px,#537ec2 76px,#4962b6 85.5px,#4c70bc 88px,#5a8bc8 90.5px,#4e74bd 109.5px,#5787c6 115.5px,#527bc1 133.5px,#5480c3 144.5px,#5077bf 272px)"></i><i style="top:109.7px;height:5px;background:linear-gradient(90deg,#dc2a1c 0,#e13317 0.5px,#ee6a0d 1px,#f8c30c 1.5px,#e6e00a 2px,#c6e04b 2.5px,#a1e4a2 3px,#91dfe0 3.5px,#79c6e5 4px,#5685c5 5px,#4962b6 6px,#4037aa 8.5px,#3d2ca8 13px,#3d2ca8 19px,#4a69b9 19.5px,#80cfe8 20px,#8cdcec 20.5px,#7ac8e5 25px,#5f99cf 28.5px,#4963b7 33px,#413cac 40.5px,#413bab 41.5px,#4c71bc 42.5px,#609ad0 43px,#6cb7df 43.5px,#65a6d6 48.5px,#4962b6 57.5px,#4651b1 64px,#4c71bc 65.5px,#609bd0 67px,#5887c6 75px,#4967b8 85.5px,#4f75be 88px,#5c92cb 91px,#517ac0 109.5px,#5a8bc8 115.5px,#5581c3 134px,#5583c4 147.5px,#527cc1 272px)"></i><i style="top:114.7px;height:5px;background:linear-gradient(90deg,#dc2a1c 0,#e13317 0.5px,#ee650d 1px,#f8bf0b 1.5px,#e9e00b 2px,#c9e042 2.5px,#a3e497 3px,#93e1db 3.5px,#7ecce7 4px,#598ac7 5px,#4965b8 6px,#4039ab 8.5px,#3d2ca8 12.5px,#3d2ca8 19px,#4a69b9 19.5px,#80cfe8 20px,#8cdcec 20.5px,#7bc8e5 25px,#619cd1 28.5px,#4965b8 33px,#413dac 41px,#413dac 41.5px,#4d71bc 42.5px,#609ad0 43px,#6cb7df 43.5px,#65a7d7 48.5px,#4964b7 57.5px,#4754b1 64px,#4e74be 65.5px,#62a0d3 67px,#5b8fca 74.5px,#4a6cba 86px,#5f98ce 91px,#5480c3 109.5px,#5c91cb 116px,#5786c5 134px,#5786c5 149.5px,#5480c3 272px)"></i><i style="top:119.7px;height:5px;background:linear-gradient(90deg,#dc2a1c 0,#e13317 0.5px,#ed610d 1px,#f8bb0b 1.5px,#ece00c 2px,#cde039 2.5px,#a6e48b 3px,#95e2d6 3.5px,#83d2e9 4px,#6ab2dd 4.5px,#5c90ca 5px,#4968b9 6px,#4036aa 9px,#3d2ca8 14.5px,#3d2ca8 19px,#4a69b9 19.5px,#80cfe8 20px,#8cdcec 20.5px,#7bc9e6 25px,#629fd2 28.5px,#4968b8 33px,#423eac 41px,#413eac 41.5px,#4d71bc 42.5px,#609ad0 43px,#6cb7df 43.5px,#64a5d6 49px,#4963b7 58.5px,#4757b2 64px,#5078bf 65.5px,#65a6d6 67px,#5e95cd 75px,#4e74be 86px,#5d93cc 89.5px,#619dd2 91.5px,#5786c6 109.5px,#5e97ce 116px,#5a8bc8 134px,#5b8ec9 145.5px,#5785c5 272px)"></i><i style="top:124.7px;height:5px;background:linear-gradient(90deg,#dc2a1c 0,#e03218 0.5px,#ec5d0e 1px,#f8b70a 1.5px,#eee00d 2px,#d1e030 2.5px,#ace37f 3px,#98e4d1 3.5px,#88d8eb 4px,#6db9e0 4.5px,#537fc2 5.5px,#4861b6 6.5px,#4038ab 9px,#3d2ca8 13.5px,#3d2ca8 19px,#4a69b9 19.5px,#80cfe8 20px,#8cdcec 20.5px,#7ccae6 25px,#63a2d4 28.5px,#4a6ab9 33px,#4240ac 41.5px,#4d72bd 42.5px,#609bd0 43px,#6cb7df 43.5px,#65a7d7 49px,#4965b8 59px,#485bb4 64px,#4a6dba 65px,#63a2d4 66.5px,#68aeda 67.5px,#5e96cd 77px,#537ec2 86.5px,#64a4d5 91px,#5b8ec9 109.5px,#619ed2 116px,#5c92cb 134px,#5d94cd 146px,#598ac7 272px)"></i><i style="top:129.7px;height:5px;background:linear-gradient(90deg,#dc2a1c 0,#e03218 0.5px,#ec580e 1px,#f8b30a 1.5px,#f1e00e 2px,#d4e027 2.5px,#9ae4c4 3.5px,#8dddea 4px,#62a0d3 5px,#4c71bc 6px,#413aab 9px,#3d2ca8 13px,#3d2ca8 19px,#4a69b9 19.5px,#80cfe8 20px,#8cdcec 20.5px,#7ac7e5 25.5px,#5e96cd 29.5px,#4965b8 34px,#4242ad 41.5px,#4e75be 42.5px,#62a0d3 43px,#6fbce1 43.5px,#68aeda 49px,#4a69b9 59.5px,#4860b6 64px,#4e73bd 65px,#66a9d8 66.5px,#6ab4de 67.5px,#609cd1 78px,#5787c6 86.5px,#67abd9 91px,#5f98ce 110px,#64a5d5 116.5px,#609acf 134px,#609bd0 147px,#5c91cb 272px)"></i><i style="top:134.7px;height:5px;background:linear-gradient(90deg,#dc2a1c 0,#e03118 0.5px,#eb540e 1px,#f8af09 1.5px,#f4e00f 2px,#d8e01d 2.5px,#9de4b6 3.5px,#8fdee4 4px,#79c6e5 4.5px,#598ac7 5.5px,#485db5 7px,#3f34aa 10px,#3d2ca8 19px,#4a69b9 19.5px,#80cfe8 20px,#8cdcec 20.5px,#7bc8e5 25.5px,#609acf 29.5px,#4964b7 34.5px,#4344ad 41.5px,#4759b3 42px,#5078bf 42.5px,#64a5d6 43px,#74c1e3 43.5px,#6ab3dd 49.5px,#4d71bc 59.5px,#4967b8 64px,#517bc0 65px,#69b0db 66.5px,#6ebae1 67.5px,#64a4d5 78.5px,#5c91cb 86.5px,#6ab2dd 91px,#62a0d3 110px,#67abd9 117px,#63a2d4 134.5px,#629fd3 151.5px,#5f99cf 272px)"></i><i style="top:139.7px;height:5px;background:linear-gradient(90deg,#dc2a1c 0,#e03118 0.5px,#ea500f 1px,#f8ab08 1.5px,#f7e010 2px,#dbe014 2.5px,#a0e4a7 3.5px,#92e0de 4px,#7fcde7 4.5px,#5c92cb 5.5px,#4a6bba 6.5px,#3f36aa 10px,#3d2ca8 16.5px,#3d2ca8 19px,#4a69b9 19.5px,#80cfe8 20px,#8cdcec 20.5px,#7ccae6 25.5px,#619dd1 29.5px,#4967b8 34.5px,#4446ae 41.5px,#475ab4 42px,#517bc0 42.5px,#67abd9 43px,#79c6e5 43.5px,#6bb6df 50.5px,#5179c0 60px,#4b6fbb 64px,#5d93cc 65.5px,#6cb7df 66.5px,#73c0e3 67.5px,#66aad8 80px,#629fd3 87px,#6db9e0 91px,#66aad8 110.5px,#6ab2dd 117.5px,#66aad8 135px,#62a0d3 272px)"></i><i style="top:144.7px;height:5px;background:linear-gradient(90deg,#dc2a1c 0,#e03118 0.5px,#ea4c0f 1px,#f8a508 1.5px,#f8dc0f 2px,#dfe00b 2.5px,#a2e498 3.5px,#95e2d7 4px,#85d4e9 4.5px,#6db9e0 5px,#5582c4 6px,#485cb4 7.5px,#3f34aa 10.5px,#3d2ca8 19px,#4a69b9 19.5px,#80cfe8 20px,#8cdcec 20.5px,#7dcbe6 25.5px,#63a1d3 29.5px,#4a69b9 34.5px,#4449ae 41.5px,#485cb4 42px,#537ec2 42.5px,#69b0dc 43px,#7dcbe6 43.5px,#6fbbe1 51px,#5480c3 61px,#517ac0 64px,#5a8cc8 65px,#71bde2 66.5px,#78c5e4 68px,#66aad9 87px,#72bee2 91.5px,#69b1dc 110.5px,#6db9e0 118.5px,#69b1dc 135px,#65a8d7 272px)"></i><i style="top:149.7px;height:5px;background:linear-gradient(90deg,#dc2a1c 0,#df3019 0.5px,#e9480f 1px,#f69c09 1.5px,#f8d50e 2px,#e3e009 2.5px,#c9e043 3px,#a7e48a 3.5px,#98e4d1 4px,#8cdcec 4.5px,#64a4d5 5.5px,#5077bf 6.5px,#4651b0 8.5px,#3f33aa 11px,#3d2ca8 19px,#4a69b9 19.5px,#80cfe8 20px,#8cdcec 20.5px,#7bc8e5 26px,#5e97ce 30.5px,#4963b7 36px,#454caf 41.5px,#485db5 42px,#5480c3 42.5px,#6bb5de 43px,#81cfe8 43.5px,#72bfe2 51.5px,#5786c5 62.5px,#5684c5 64px,#5f97ce 65px,#75c2e3 66.5px,#7bc9e6 68.5px,#6ab3dd 87px,#75c2e3 92px,#6cb8e0 111px,#6fbbe1 122px,#6cb8e0 136px,#68adda 272px)"></i><i style="top:154.7px;height:5px;background:linear-gradient(90deg,#dc2a1c 0,#df3019 0.5px,#e94410 1px,#f5930a 1.5px,#f8ce0d 2px,#e7e00a 2.5px,#cee037 3px,#afe37a 3.5px,#9be4c1 4px,#8fdee5 4.5px,#7bc9e6 5px,#5c92cb 6px,#4963b7 7.5px,#3f35aa 11px,#3d2ca8 19px,#4a6ab9 19.5px,#83d2e9 20px,#8ddde9 20.5px,#81d0e8 25.5px,#64a5d6 30px,#4b6ebb 35px,#4651b0 41.5px,#4860b6 42px,#5684c4 42.5px,#6db9e0 43px,#84d3e9 43.5px,#77c4e4 52px,#5c90ca 64px,#7ac7e5 66.5px,#7ecce7 70.5px,#6fbce1 87.5px,#79c6e5 93px,#71bee2 111.5px,#70bce1 127.5px,#6ab3dd 272px)"></i><i style="top:159.7px;height:5px;background:linear-gradient(90deg,#dc2a1c 0,#df3019 0.5px,#e84010 1px,#f38a0a 1.5px,#f8c80d 2px,#ebe00c 2.5px,#d3e02b 3px,#9ee4af 4px,#92e0dd 4.5px,#82d1e8 5px,#6cb8e0 5.5px,#5785c5 6.5px,#485fb5 8px,#3f34aa 11.5px,#3d2ca8 19px,#4a6bba 19.5px,#86d5ea 20px,#8fdee6 21px,#86d5ea 25.5px,#65a8d7 30.5px,#4b6dbb 36px,#4755b2 41.5px,#4964b7 42px,#5889c7 42.5px,#71bee2 43px,#88d7ea 43.5px,#7ac7e5 53px,#629fd3 64px,#82d1e8 67px,#74c1e3 87.5px,#7ccbe6 93.5px,#75c2e3 111.5px,#72bfe2 130px,#6cb9e0 272px)"></i><i style="top:164.7px;height:5px;background:linear-gradient(90deg,#dc2a1c 0,#df2f19 0.5px,#e73e11 1px,#f8c10c 2px,#efe00d 2.5px,#d8e01d 3px,#a2e49b 4px,#96e3d5 4.5px,#8adaeb 5px,#66a8d7 6px,#537dc1 7px,#485cb4 8.5px,#3f36aa 12px,#3d2ea8 19px,#4a6dba 19.5px,#89d9eb 20px,#90dfe2 21px,#88d7ea 26px,#64a5d6 31.5px,#4d73bd 36.5px,#485cb4 41.5px,#4a6ab9 42px,#5c90ca 42.5px,#75c3e4 43px,#8bdbec 43.5px,#7ccae6 54.5px,#68aedb 64px,#86d5ea 67px,#7ac8e5 88px,#80cee7 94.5px,#7ac8e5 112px,#71bde2 272px)"></i><i style="top:169.7px;height:5px;background:linear-gradient(90deg,#dc2a1c 0,#e63d12 1px,#f8b90a 2px,#f4e00f 2.5px,#dde00f 3px,#a9e385 4px,#9ae4c4 4.5px,#90dfe3 5px,#7fcee7 5.5px,#619ed2 6.5px,#5079c0 7.5px,#4757b2 9.5px,#4039ab 13px,#3f34aa 19px,#4c71bc 19.5px,#8cdceb 20px,#92e0de 20.5px,#88d7ea 27px,#62a0d3 33px,#4c70bc 38.5px,#4964b7 41.5px,#4d73bd 42px,#7bc8e5 43px,#8edde8 43.5px,#83d2e9 54.5px,#70bce1 64px,#8adaeb 67px,#7fcde7 88px,#84d3e9 95.5px,#7fcde7 112px,#75c3e4 272px)"></i><i style="top:174.7px;height:5px;background:linear-gradient(90deg,#dc2a1c 0,#e53b13 1px,#ef6d0d 1.5px,#f8b109 2px,#f8dd10 2.5px,#e4e009 3px,#cee035 3.5px,#9fe4a9 4.5px,#95e2d8 5px,#8adaeb 5.5px,#68aeda 6.5px,#5077bf 8px,#4758b3 10px,#423eac 14px,#413bab 19px,#4f75be 19.5px,#8fdee6 20px,#94e2d8 20.5px,#89d9eb 28px,#629fd2 34.5px,#4e75be 40px,#4b6ebb 41.5px,#537ec2 42px,#65a6d6 42.5px,#81d0e8 43px,#90dfe3 43.5px,#85d5ea 57.5px,#7dcbe6 64.5px,#8edde8 67px,#86d5ea 88.5px,#87d6ea 101.5px,#86d5ea 113.5px,#7bc9e6 272px)"></i><i style="top:179.7px;height:5px;background:linear-gradient(90deg,#dc2a1c 0,#e43a14 1px,#ed630d 1.5px,#f8aa08 2px,#f8d20e 2.5px,#eae00b 3px,#d6e022 3.5px,#a5e48f 4.5px,#9ae4c6 5px,#91dfe1 5.5px,#83d2e9 6px,#66a8d8 7px,#5078bf 8.5px,#4758b3 11px,#4344ad 16.5px,#4343ad 19px,#517bc0 19.5px,#91dfe1 20px,#97e3d3 20.5px,#8fdee4 27.5px,#85d5ea 30px,#5f99cf 37px,#527dc1 41.5px,#5a8cc8 42px,#6ab4de 42.5px,#88d7ea 43px,#92e0dd 43.5px,#86d5ea 62.5px,#8edde8 66px,#8fdee5 74.5px,#8dddea 89.5px,#81d0e8 272px)"></i><i style="top:184.7px;height:5px;background:linear-gradient(90deg,#dc2a1c 0,#e43814 1px,#ec5a0e 1.5px,#f69c09 2px,#f8c70c 2.5px,#f1e00e 3px,#dde010 3.5px,#a0e4a8 5px,#96e3d5 5.5px,#8edde8 6px,#65a7d6 7.5px,#517ac0 9px,#485cb4 11.5px,#454caf 18.5px,#454caf 19px,#5481c3 19.5px,#93e1dc 20px,#99e4cb 20.5px,#90dee4 29px,#86d5ea 31.5px,#63a1d3 38.5px,#5a8dc9 41.5px,#629fd2 42px,#74c1e3 42.5px,#8ddde9 43px,#95e2d8 43.5px,#8edde7 65px,#92e0dd 69px,#8edee6 88.5px,#87d6ea 272px)"></i><i style="top:189.7px;height:5px;background:linear-gradient(90deg,#dc2a1c 0,#e33615 1px,#eb500f 1.5px,#f48b0a 2px,#f8bc0b 2.5px,#f7e010 3px,#e5e00a 3.5px,#d3e02a 4px,#a8e489 5px,#9ce4ba 5.5px,#94e1da 6px,#8cdcec 6.5px,#65a8d7 8px,#537ec2 9.5px,#4861b6 12px,#4754b1 18.5px,#4754b1 19px,#5887c6 19.5px,#95e2d6 20px,#9be4be 20.5px,#92e0dd 29.5px,#89d8eb 33px,#65a7d6 41px,#64a4d5 41.5px,#6ab3dd 42px,#7fcde7 42.5px,#91dfe1 43px,#97e3d2 43.5px,#91e0e0 65px,#95e2d7 69.5px,#92e0df 89px,#8cdceb 272px)"></i><i style="top:194.7px;height:5px;background:linear-gradient(90deg,#dc2a1c 0,#e23516 1px,#e9470f 1.5px,#f8b109 2.5px,#f8d30e 3px,#ede00c 3.5px,#dce013 4px,#a3e497 5.5px,#9ae4c4 6px,#8bdbec 7px,#67acda 8.5px,#5685c5 10px,#4967b8 12.5px,#475ab4 19px,#5b90ca 19.5px,#98e4cf 20px,#9ee4ae 20.5px,#9be4c0 26.5px,#8cdcec 35px,#70bce1 41.5px,#79c6e5 42px,#8bdbec 42.5px,#9ae4c5 43.5px,#95e2d8 65px,#98e4d1 70.5px,#95e2d7 89.5px,#90dee3 272px)"></i><i style="top:199.7px;height:5px;background:linear-gradient(90deg,#dc2a1c 0,#e83f10 1.5px,#ef6d0d 2px,#f8a608 2.5px,#f5e00f 3.5px,#e5e00a 4px,#d5e023 4.5px,#a1e49e 6px,#9ae4c7 6.5px,#8ddceb 7.5px,#64a5d6 9.5px,#5785c5 11px,#4968b8 14.5px,#4861b6 19px,#609bd0 19.5px,#9be4be 20px,#a2e49d 20.5px,#9ee4ae 27px,#95e2d7 33.5px,#89d8eb 39.5px,#82d1e8 41.5px,#89d8eb 42px,#99e4cd 43px,#9de4b3 43.5px,#9ae4c3 57px,#97e4d1 64.5px,#9be4bf 67.5px,#98e4d0 89px,#98e4d1 103px,#93e1dc 272px)"></i><i style="top:204.7px;height:5px;background:linear-gradient(90deg,#dc2a1c 0,#e63d12 1.5px,#ed5e0e 2px,#f4900a 2.5px,#f8d60f 3.5px,#eee00d 4px,#dfe00a 4.5px,#a1e49e 6.5px,#9ae4c3 7px,#8edee6 8px,#70bde2 9.5px,#5889c7 12px,#4b6dbb 16px,#4a69b9 19px,#65a7d7 19.5px,#9fe4ad 20px,#a6e48d 20.5px,#a1e49d 28px,#96e2d6 37px,#8fdee4 41.5px,#97e3d3 42.5px,#a1e4a1 43.5px,#9ee4b1 58px,#9be4be 64.5px,#9fe4ad 68px,#9be4be 88.5px,#9ce4bc 99.5px,#9be4c2 113px,#97e3d2 206px,#96e3d4 272px)"></i><i style="top:209.7px;height:5px;background:linear-gradient(90deg,#dc2a1c 0,#e53a13 1.5px,#eb510f 2px,#f8ab08 3px,#f7e010 4px,#dde010 5px,#a3e497 7px,#96e3d4 8px,#8cdceb 9px,#66a9d8 11.5px,#5787c6 14px,#4e74bd 19px,#6ab4de 19.5px,#a2e49b 20px,#aee37c 20.5px,#a5e48e 29.5px,#97e3d2 41.5px,#99e4cc 42px,#a1e49e 43px,#a4e490 43.5px,#a1e4a0 59.5px,#a0e4a6 65px,#a2e49a 68.5px,#9fe4a9 89px,#9ae4c3 232.5px,#9ae4c5 272px)"></i><i style="top:214.7px;height:5px;background:linear-gradient(90deg,#dc2a1c 0,#e33715 1.5px,#e94410 2px,#f8b50a 3.5px,#f5e00f 4.5px,#e9e00b 5px,#dce011 5.5px,#a0e4a8 8px,#9ae4c5 8.5px,#8cdceb 10px,#67abd9 13px,#5889c7 16.5px,#5581c3 19px,#74c1e3 19.5px,#a8e488 20px,#b6e26b 20.5px,#aee37c 31px,#9fe4ab 41.5px,#a3e497 42.5px,#ade37d 43.5px,#a5e48f 61.5px,#a5e48f 65.5px,#a8e488 71px,#a3e494 89.5px,#9ee4ae 229px,#9ee4b0 272px)"></i><i style="top:219.7px;height:5px;background:linear-gradient(90deg,#dc2a1c 0,#e73d11 2px,#eb560e 2.5px,#f7a308 3.5px,#f8d10e 4.5px,#f4e00f 5px,#dee00d 6px,#a4e491 8.5px,#9ae4c5 9.5px,#92e0de 10.5px,#8adaeb 11.5px,#68adda 15px,#5d92cc 19px,#7fcee7 19.5px,#b1e276 20px,#bfe15a 20.5px,#b6e26c 33.5px,#abe383 42px,#b6e26b 43.5px,#afe37a 65.5px,#b0e378 77.5px,#ace37f 94px,#a3e497 214.5px,#a2e49b 272px)"></i><i style="top:224.7px;height:5px;background:linear-gradient(90deg,#dc2a1c 0,#e53a13 2px,#e94a0f 2.5px,#f8ad09 4px,#f8d50e 5px,#f3e00e 5.5px,#dfe00a 6.5px,#a3e497 9.5px,#97e3d3 11px,#89d9eb 13px,#69b1dc 17.5px,#66a9d8 19px,#8cdcec 19.5px,#bbe161 20px,#c7e048 20.5px,#bfe159 36.5px,#bae164 42px,#c0e058 44.5px,#bae163 66px,#ace381 209.5px,#aae385 272px)"></i><i style="top:229.7px;height:5px;background:linear-gradient(90deg,#dc2a1c 0,#e43914 2px,#e94410 2.5px,#f8a608 4px,#f8e010 5.5px,#e5e00a 6.5px,#dce012 7px,#9fe4a9 10.5px,#98e4cf 11.5px,#8bdbec 14px,#6fbce1 19px,#91e0e0 19.5px,#c6e04c 20px,#cfe035 20.5px,#c7e047 40.5px,#c6e04a 60px,#b8e268 205px,#b6e26c 272px)"></i><i style="top:234.7px;height:5px;background:linear-gradient(90deg,#dc2a1c 0,#e43814 2px,#e84010 2.5px,#f8b109 4.5px,#f8d60f 5.5px,#f4e00f 6px,#e2e009 7px,#a1e49e 11px,#98e4ce 12.5px,#8bdbec 16px,#7fcde7 19px,#97e3d2 19.5px,#cee037 20px,#d6e021 20.5px,#d1e02f 48px,#c6e04c 169.5px,#c2e053 272px)"></i><i style="top:239.7px;height:5px;background:linear-gradient(90deg,#dc2a1c 0,#e73d11 2.5px,#ef6b0d 3.5px,#f8a908 4.5px,#f8dc0f 6px,#e2e009 7.5px,#a2e49b 12px,#97e3d2 14.5px,#8edde8 19px,#9ee4ae 19.5px,#d7e01f 20px,#dfe00b 20.5px,#d3e029 118.5px,#cde038 272px)"></i><i style="top:244.7px;height:5px;background:linear-gradient(90deg,#dc2a1c 0,#e53b13 2.5px,#e9470f 3px,#f8ae09 5px,#f8dd10 6.5px,#e4e009 8px,#dde00f 8.5px,#ace37f 12.5px,#9be4bd 16px,#97e3d2 18.5px,#97e3d3 19px,#aae384 19.5px,#e1e008 20px,#e9e00b 21px,#dee00e 111.5px,#d8e01b 272px)"></i><i style="top:249.7px;height:5px;background:linear-gradient(90deg,#dc2a1c 0,#e43914 2.5px,#e73f11 3px,#f2810b 4.5px,#f8af09 5.5px,#f5e00f 7.5px,#e3e009 9px,#b5e26f 14px,#a2e49b 18px,#a1e4a1 19px,#c0e158 19.5px,#ece00c 20px,#f3e00e 22px,#e4e009 272px)"></i><i style="top:254.7px;height:5px;background:linear-gradient(90deg,#dc2a1c 0,#e53b13 3px,#e94410 3.5px,#f8ac09 6px,#f8db0f 8px,#e2e009 10.5px,#c4e04f 15.5px,#b9e167 19px,#d2e02c 19.5px,#f7e010 20px,#f8d60f 21px,#f5e00f 105px,#f0e00d 272px)"></i><i style="top:259.7px;height:5px;background:linear-gradient(90deg,#dc2a1c 0,#e63c12 3.5px,#eb530f 4.5px,#f8ac09 7px,#f7e010 10px,#e0e009 14px,#d3e028 19px,#e5e00a 19.5px,#f8c80d 20px,#f8be0b 21px,#f8d40e 203px,#f8d60f 272px)"></i><i style="top:264.7px;height:5px;background:linear-gradient(90deg,#dc2a1c 0,#e63d12 4.5px,#ee690d 6.5px,#f8aa08 9px,#f8e010 15px,#f2e00e 19px,#f8d20e 19.5px,#f7a408 20px,#f59709 20.5px,#f69c09 42.5px,#f8ab08 123.5px,#f8b009 272px)"></i><i style="top:269.7px;height:17px;background:linear-gradient(90deg,#dc2a1c 0,#e73f11 8px,#f17a0c 15px,#f3880a 19px,#ef700c 19.5px,#ea4b0f 20px,#ea4c0f 65px,#ec570e 272px)"></i></div></div>
<svg id="ov" width="1646" height="1225" viewBox="0 0 1646 1225">
<defs><linearGradient id="g1" gradientUnits="userSpaceOnUse" x1="0" y1="11.3" x2="0" y2="504.4"><stop offset="0" stop-color="#140c0b"/><stop offset="0.04" stop-color="#1e100e"/><stop offset="0.07" stop-color="#2e1311"/><stop offset="0.1" stop-color="#3e1513"/><stop offset="0.13" stop-color="#581614"/><stop offset="0.14" stop-color="#6a1814"/><stop offset="0.18" stop-color="#881c17"/><stop offset="0.21" stop-color="#98201a"/><stop offset="0.24" stop-color="#a8221a"/><stop offset="0.28" stop-color="#b8251b"/><stop offset="0.31" stop-color="#cc271b"/><stop offset="0.34" stop-color="#d8281b"/><stop offset="0.36" stop-color="#dd291b"/><stop offset="0.43" stop-color="#df2d18"/><stop offset="0.48" stop-color="#e53c10"/><stop offset="0.54" stop-color="#ec5a08"/><stop offset="0.59" stop-color="#f37f06"/><stop offset="0.63" stop-color="#f9a004"/><stop offset="0.68" stop-color="#fcc800"/><stop offset="0.73" stop-color="#f8dc08"/><stop offset="0.77" stop-color="#f7e420"/><stop offset="0.84" stop-color="#f9e84a"/><stop offset="0.9" stop-color="#fcf090"/><stop offset="0.94" stop-color="#fef8c8"/><stop offset="1" stop-color="#fffef4"/></linearGradient>
<linearGradient id="sg2" x1="0" y1="0" x2="1" y2="0"><stop offset="0" stop-color="#000" stop-opacity="0"/><stop offset="0.35" stop-color="#000" stop-opacity="1"/><stop offset="1" stop-color="#000" stop-opacity="1"/></linearGradient>
<filter id="fb3" filterUnits="userSpaceOnUse" x="100" y="-50" width="800" height="620"><feGaussianBlur stdDeviation="3 1.1"/></filter>
<filter id="fo4" filterUnits="userSpaceOnUse" x="100" y="-50" width="800" height="620"><feGaussianBlur stdDeviation="38 10"/></filter>
<clipPath id="clip5"><rect x="171" y="11.3" width="493" height="493.1"/></clipPath>
<linearGradient id="g6" gradientUnits="userSpaceOnUse" x1="0" y1="11.3" x2="0" y2="504.4"><stop offset="0" stop-color="#ffffff"/><stop offset="0.03" stop-color="#fffdf0"/><stop offset="0.05" stop-color="#fef9d0"/><stop offset="0.08" stop-color="#fcf4a8"/><stop offset="0.12" stop-color="#faee78"/><stop offset="0.17" stop-color="#f8e850"/><stop offset="0.2" stop-color="#f6e63a"/><stop offset="0.23" stop-color="#f6e530"/><stop offset="0.26" stop-color="#f6e31a"/><stop offset="0.29" stop-color="#f9dc0c"/><stop offset="0.32" stop-color="#fbcc06"/><stop offset="0.35" stop-color="#fbb804"/><stop offset="0.38" stop-color="#f9a204"/><stop offset="0.42" stop-color="#f58c04"/><stop offset="0.45" stop-color="#f07606"/><stop offset="0.48" stop-color="#ec600a"/><stop offset="0.51" stop-color="#e84c0e"/><stop offset="0.54" stop-color="#e43c14"/><stop offset="0.57" stop-color="#e03018"/><stop offset="0.6" stop-color="#de2c1a"/><stop offset="0.62" stop-color="#dd2a1a"/><stop offset="0.65" stop-color="#da2a1c"/><stop offset="0.68" stop-color="#cc281c"/><stop offset="0.72" stop-color="#b8261c"/><stop offset="0.75" stop-color="#a4221a"/><stop offset="0.78" stop-color="#8e1f18"/><stop offset="0.81" stop-color="#7c1c17"/><stop offset="0.84" stop-color="#681a16"/><stop offset="0.87" stop-color="#521714"/><stop offset="0.91" stop-color="#3e1412"/><stop offset="0.94" stop-color="#2c1210"/><stop offset="0.97" stop-color="#1e0f0e"/><stop offset="1" stop-color="#150d0c"/></linearGradient>
<linearGradient id="g7" gradientUnits="userSpaceOnUse" x1="0" y1="623.4" x2="0" y2="1116.4"><stop offset="0" stop-color="#ffffff"/><stop offset="0.03" stop-color="#fffdf0"/><stop offset="0.05" stop-color="#fef9d0"/><stop offset="0.08" stop-color="#fcf4a8"/><stop offset="0.12" stop-color="#faee78"/><stop offset="0.17" stop-color="#f8e850"/><stop offset="0.2" stop-color="#f6e63a"/><stop offset="0.23" stop-color="#f6e530"/><stop offset="0.26" stop-color="#f6e31a"/><stop offset="0.29" stop-color="#f9dc0c"/><stop offset="0.32" stop-color="#fbcc06"/><stop offset="0.35" stop-color="#fbb804"/><stop offset="0.38" stop-color="#f9a204"/><stop offset="0.42" stop-color="#f58c04"/><stop offset="0.45" stop-color="#f07606"/><stop offset="0.48" stop-color="#ec600a"/><stop offset="0.51" stop-color="#e84c0e"/><stop offset="0.54" stop-color="#e43c14"/><stop offset="0.57" stop-color="#e03018"/><stop offset="0.6" stop-color="#de2c1a"/><stop offset="0.62" stop-color="#dd2a1a"/><stop offset="0.65" stop-color="#da2a1c"/><stop offset="0.68" stop-color="#cc281c"/><stop offset="0.72" stop-color="#b8261c"/><stop offset="0.75" stop-color="#a4221a"/><stop offset="0.78" stop-color="#8e1f18"/><stop offset="0.81" stop-color="#7c1c17"/><stop offset="0.84" stop-color="#681a16"/><stop offset="0.87" stop-color="#521714"/><stop offset="0.9" stop-color="#3e1412"/><stop offset="0.94" stop-color="#2c1210"/><stop offset="0.97" stop-color="#1e0f0e"/><stop offset="1" stop-color="#150d0c"/></linearGradient>
<linearGradient id="g8" gradientUnits="userSpaceOnUse" x1="0" y1="11.3" x2="0" y2="504.4"><stop offset="0" stop-color="#ffffff"/><stop offset="0.03" stop-color="#fffdf0"/><stop offset="0.05" stop-color="#fef9d0"/><stop offset="0.08" stop-color="#fcf4a8"/><stop offset="0.12" stop-color="#faee78"/><stop offset="0.17" stop-color="#f8e850"/><stop offset="0.2" stop-color="#f6e63a"/><stop offset="0.23" stop-color="#f6e530"/><stop offset="0.26" stop-color="#f6e31a"/><stop offset="0.29" stop-color="#f9dc0c"/><stop offset="0.32" stop-color="#fbcc06"/><stop offset="0.35" stop-color="#fbb804"/><stop offset="0.38" stop-color="#f9a204"/><stop offset="0.42" stop-color="#f58c04"/><stop offset="0.45" stop-color="#f07606"/><stop offset="0.48" stop-color="#ec600a"/><stop offset="0.51" stop-color="#e84c0e"/><stop offset="0.54" stop-color="#e43c14"/><stop offset="0.57" stop-color="#e03018"/><stop offset="0.6" stop-color="#de2c1a"/><stop offset="0.62" stop-color="#dd2a1a"/><stop offset="0.65" stop-color="#da2a1c"/><stop offset="0.68" stop-color="#cc281c"/><stop offset="0.72" stop-color="#b8261c"/><stop offset="0.75" stop-color="#a4221a"/><stop offset="0.78" stop-color="#8e1f18"/><stop offset="0.81" stop-color="#7c1c17"/><stop offset="0.84" stop-color="#681a16"/><stop offset="0.87" stop-color="#521714"/><stop offset="0.91" stop-color="#3e1412"/><stop offset="0.94" stop-color="#2c1210"/><stop offset="0.97" stop-color="#1e0f0e"/><stop offset="1" stop-color="#150d0c"/></linearGradient>
<clipPath id="clip9"><rect x="998.5" y="617.8" width="600.95" height="500.1"/></clipPath></defs>
<rect x="171" y="11.3" width="493" height="493.1" fill="url(#g1)"/>
<g clip-path="url(#clip5)"><g filter="url(#fb3)" fill="url(#sg2)"><rect x="480" y="34.8" width="184" height="3" opacity="0.3"/><rect x="540" y="49" width="124" height="3" opacity="0.25"/><rect x="300" y="63.3" width="364" height="3" opacity="0.18"/><rect x="440" y="81.95" width="224" height="3.5" opacity="0.28"/><rect x="500" y="93.3" width="164" height="3" opacity="0.25"/><rect x="330" y="107.5" width="334" height="3" opacity="0.14"/><rect x="420" y="119.5" width="244" height="3" opacity="0.14"/><rect x="400" y="144.9" width="264" height="4" opacity="0.3"/><rect x="560" y="158.5" width="104" height="3" opacity="0.14"/><rect x="350" y="198.5" width="314" height="3" opacity="0.08"/></g><rect x="300" y="239" width="364" height="2" fill="#f2680c" opacity="0.45" filter="url(#fb3)"/><g filter="url(#fo4)"><rect x="420" y="45" width="330" height="110" fill="#000" opacity="0.17"/><rect x="450" y="268" width="300" height="70" fill="#c81c10" opacity="0.13"/></g></g>
<path d="M663.5 11.3 V503.9 H171" fill="none" stroke="#3a3a3a" stroke-width="1"/>
<rect x="717" y="11.3" width="24.4" height="493.1" fill="url(#g6)"/>
<path d="M717.5 504.4 V11.5 H741.5 V504.4" fill="none" stroke="#454545" stroke-width="1"/>
<text x="750.4" y="25.4" font-size="33.3" text-anchor="start" fill="#262626" font-family='"Liberation Sans", Arial, Helvetica, sans-serif' >1</text>
<line x1="737" y1="111.6" x2="741.5" y2="111.6" stroke="#262626" stroke-width="1"/>
<text x="750.4" y="125.1" font-size="33.3" text-anchor="start" fill="#262626" font-family='"Liberation Sans", Arial, Helvetica, sans-serif' >0.99</text>
<line x1="737" y1="212.5" x2="741.5" y2="212.5" stroke="#262626" stroke-width="1"/>
<text x="750.4" y="226" font-size="33.3" text-anchor="start" fill="#262626" font-family='"Liberation Sans", Arial, Helvetica, sans-serif' >0.98</text>
<line x1="737" y1="313.6" x2="741.5" y2="313.6" stroke="#262626" stroke-width="1"/>
<text x="750.4" y="327.1" font-size="33.3" text-anchor="start" fill="#262626" font-family='"Liberation Sans", Arial, Helvetica, sans-serif' >0.97</text>
<line x1="737" y1="414.6" x2="741.5" y2="414.6" stroke="#262626" stroke-width="1"/>
<text x="750.4" y="428.1" font-size="33.3" text-anchor="start" fill="#262626" font-family='"Liberation Sans", Arial, Helvetica, sans-serif' >0.96</text>
<text x="159" y="54.8" font-size="36.8" text-anchor="end" fill="#262626" font-family='"Liberation Sans", Arial, Helvetica, sans-serif' >2500</text>
<text x="159" y="149.7" font-size="36.8" text-anchor="end" fill="#262626" font-family='"Liberation Sans", Arial, Helvetica, sans-serif' >2000</text>
<text x="159" y="244.6" font-size="36.8" text-anchor="end" fill="#262626" font-family='"Liberation Sans", Arial, Helvetica, sans-serif' >1500</text>
<text x="159" y="339.5" font-size="36.8" text-anchor="end" fill="#262626" font-family='"Liberation Sans", Arial, Helvetica, sans-serif' >1000</text>
<text x="159" y="434.4" font-size="36.8" text-anchor="end" fill="#262626" font-family='"Liberation Sans", Arial, Helvetica, sans-serif' >500</text>
<text x="170.6" y="551.2" font-size="36.8" text-anchor="middle" fill="#262626" font-family='"Liberation Sans", Arial, Helvetica, sans-serif' >0</text>
<text x="417.1" y="551.2" font-size="36.8" text-anchor="middle" fill="#262626" font-family='"Liberation Sans", Arial, Helvetica, sans-serif' >500</text>
<text x="663.6" y="551.2" font-size="36.8" text-anchor="middle" fill="#262626" font-family='"Liberation Sans", Arial, Helvetica, sans-serif' >1000</text>
<text x="417.5" y="602.2" font-size="40.6" text-anchor="middle" fill="#262626" font-family='"Liberation Sans", Arial, Helvetica, sans-serif' >time (fs)</text>
<text transform="translate(47.7 418.9) rotate(-90)" fill="#262626" font-family='"Liberation Sans", Arial, Helvetica, sans-serif' font-size="40.6"><tspan x="-1.5" y="0">coupling </tspan><tspan x="162.5" y="0" font-family='"Liberation Serif", "Times New Roman", serif' font-style="italic" font-size="40.4" textLength="19.4" lengthAdjust="spacingAndGlyphs">γ</tspan><tspan x="183.5" y="19.5" font-size="31">0 </tspan><tspan x="213.5" y="0">(cm</tspan><tspan x="279" y="-20.5" font-size="31" letter-spacing="-1">-1</tspan><tspan x="310" y="0">)</tspan></text>
<text x="73" y="549.7" font-size="50" text-anchor="start" fill="#1a1a1a" font-family='"Liberation Serif", "Times New Roman", serif' >(a)</text>
<path d="M663.5 623.4 V1115.9 H171" fill="none" stroke="#3a3a3a" stroke-width="1"/>
<rect x="717" y="623.4" width="24.4" height="493" fill="url(#g7)"/>
<path d="M717.5 1116.4 V623.5 H741.5 V1116.4" fill="none" stroke="#454545" stroke-width="1"/>
<text x="750.4" y="637.4" font-size="33.3" text-anchor="start" fill="#262626" font-family='"Liberation Sans", Arial, Helvetica, sans-serif' >1</text>
<line x1="737" y1="720.8" x2="741.5" y2="720.8" stroke="#262626" stroke-width="1"/>
<text x="750.4" y="734.3" font-size="33.3" text-anchor="start" fill="#262626" font-family='"Liberation Sans", Arial, Helvetica, sans-serif' >0.8</text>
<line x1="737" y1="820.4" x2="741.5" y2="820.4" stroke="#262626" stroke-width="1"/>
<text x="750.4" y="833.9" font-size="33.3" text-anchor="start" fill="#262626" font-family='"Liberation Sans", Arial, Helvetica, sans-serif' >0.6</text>
<line x1="737" y1="920.1" x2="741.5" y2="920.1" stroke="#262626" stroke-width="1"/>
<text x="750.4" y="933.6" font-size="33.3" text-anchor="start" fill="#262626" font-family='"Liberation Sans", Arial, Helvetica, sans-serif' >0.4</text>
<line x1="737" y1="1019.7" x2="741.5" y2="1019.7" stroke="#262626" stroke-width="1"/>
<text x="750.4" y="1033.2" font-size="33.3" text-anchor="start" fill="#262626" font-family='"Liberation Sans", Arial, Helvetica, sans-serif' >0.2</text>
<text x="159" y="666.8" font-size="36.8" text-anchor="end" fill="#262626" font-family='"Liberation Sans", Arial, Helvetica, sans-serif' >2500</text>
<text x="159" y="761.7" font-size="36.8" text-anchor="end" fill="#262626" font-family='"Liberation Sans", Arial, Helvetica, sans-serif' >2000</text>
<text x="159" y="856.6" font-size="36.8" text-anchor="end" fill="#262626" font-family='"Liberation Sans", Arial, Helvetica, sans-serif' >1500</text>
<text x="159" y="951.5" font-size="36.8" text-anchor="end" fill="#262626" font-family='"Liberation Sans", Arial, Helvetica, sans-serif' >1000</text>
<text x="159" y="1046.4" font-size="36.8" text-anchor="end" fill="#262626" font-family='"Liberation Sans", Arial, Helvetica, sans-serif' >500</text>
<text x="170.6" y="1163.2" font-size="36.8" text-anchor="middle" fill="#262626" font-family='"Liberation Sans", Arial, Helvetica, sans-serif' >0</text>
<text x="417.1" y="1163.2" font-size="36.8" text-anchor="middle" fill="#262626" font-family='"Liberation Sans", Arial, Helvetica, sans-serif' >500</text>
<text x="663.6" y="1163.2" font-size="36.8" text-anchor="middle" fill="#262626" font-family='"Liberation Sans", Arial, Helvetica, sans-serif' >1000</text>
<text x="417.5" y="1214.2" font-size="40.6" text-anchor="middle" fill="#262626" font-family='"Liberation Sans", Arial, Helvetica, sans-serif' >time (fs)</text>
<text transform="translate(47.7 1030.9) rotate(-90)" fill="#262626" font-family='"Liberation Sans", Arial, Helvetica, sans-serif' font-size="40.6"><tspan x="-1.5" y="0">coupling </tspan><tspan x="162.5" y="0" font-family='"Liberation Serif", "Times New Roman", serif' font-style="italic" font-size="40.4" textLength="19.4" lengthAdjust="spacingAndGlyphs">γ</tspan><tspan x="183.5" y="19.5" font-size="31">0 </tspan><tspan x="213.5" y="0">(cm</tspan><tspan x="279" y="-20.5" font-size="31" letter-spacing="-1">-1</tspan><tspan x="310" y="0">)</tspan></text>
<text x="73" y="1161.7" font-size="50" text-anchor="start" fill="#1a1a1a" font-family='"Liberation Serif", "Times New Roman", serif' >(c)</text>
<path d="M1513.5 11.3 V503.9 H1020.5" fill="none" stroke="#3a3a3a" stroke-width="1"/>
<g fill="none" stroke="#2f7bc3" stroke-width="5.2" stroke-linecap="butt"><path d="M1020.3 9 V505.2" stroke-dasharray="19.3 14.9" stroke-dashoffset="0"/><path d="M1099.8 9 V505.2" stroke-dasharray="19.3 14.9" stroke-dashoffset="-8.5"/><path d="M1017.7 11.6 H1102.4" stroke-dasharray="19.3 14.9" stroke-dashoffset="14"/><path d="M1017.7 502.6 H1102.4" stroke-dasharray="19.3 14.9" stroke-dashoffset="-2.5"/><path d="M1103.7 12.8 L1227.6 45.4" stroke-width="4.7" stroke-dasharray="14.4 5.1"/><path d="M1103.9 504.2 L1227.6 319.8" stroke-width="4.8" stroke-dasharray="11.8 5.2"/></g>
<rect x="1567.3" y="11.3" width="24.3" height="493.1" fill="url(#g8)"/>
<path d="M1567.5 504.4 V11.5 H1591.5 V504.4" fill="none" stroke="#454545" stroke-width="1"/>
<text x="1600.6" y="25.4" font-size="33.3" text-anchor="start" fill="#262626" font-family='"Liberation Sans", Arial, Helvetica, sans-serif' >1</text>
<line x1="1587" y1="111.4" x2="1591.5" y2="111.4" stroke="#262626" stroke-width="1"/>
<text x="1600.6" y="124.9" font-size="33.3" text-anchor="start" fill="#262626" font-family='"Liberation Sans", Arial, Helvetica, sans-serif' >0.8</text>
<line x1="1587" y1="211.4" x2="1591.5" y2="211.4" stroke="#262626" stroke-width="1"/>
<text x="1600.6" y="224.9" font-size="33.3" text-anchor="start" fill="#262626" font-family='"Liberation Sans", Arial, Helvetica, sans-serif' >0.6</text>
<line x1="1587" y1="311.4" x2="1591.5" y2="311.4" stroke="#262626" stroke-width="1"/>
<text x="1600.6" y="324.9" font-size="33.3" text-anchor="start" fill="#262626" font-family='"Liberation Sans", Arial, Helvetica, sans-serif' >0.4</text>
<line x1="1587" y1="411.4" x2="1591.5" y2="411.4" stroke="#262626" stroke-width="1"/>
<text x="1600.6" y="424.9" font-size="33.3" text-anchor="start" fill="#262626" font-family='"Liberation Sans", Arial, Helvetica, sans-serif' >0.2</text>
<text x="1009" y="54.8" font-size="36.8" text-anchor="end" fill="#262626" font-family='"Liberation Sans", Arial, Helvetica, sans-serif' >2500</text>
<text x="1009" y="149.7" font-size="36.8" text-anchor="end" fill="#262626" font-family='"Liberation Sans", Arial, Helvetica, sans-serif' >2000</text>
<text x="1009" y="244.6" font-size="36.8" text-anchor="end" fill="#262626" font-family='"Liberation Sans", Arial, Helvetica, sans-serif' >1500</text>
<text x="1009" y="339.5" font-size="36.8" text-anchor="end" fill="#262626" font-family='"Liberation Sans", Arial, Helvetica, sans-serif' >1000</text>
<text x="1009" y="434.4" font-size="36.8" text-anchor="end" fill="#262626" font-family='"Liberation Sans", Arial, Helvetica, sans-serif' >500</text>
<text x="1020.6" y="551.2" font-size="36.8" text-anchor="middle" fill="#262626" font-family='"Liberation Sans", Arial, Helvetica, sans-serif' >0</text>
<text x="1267.1" y="551.2" font-size="36.8" text-anchor="middle" fill="#262626" font-family='"Liberation Sans", Arial, Helvetica, sans-serif' >500</text>
<text x="1513.6" y="551.2" font-size="36.8" text-anchor="middle" fill="#262626" font-family='"Liberation Sans", Arial, Helvetica, sans-serif' >1000</text>
<text x="1267.5" y="602.2" font-size="40.6" text-anchor="middle" fill="#262626" font-family='"Liberation Sans", Arial, Helvetica, sans-serif' >time (fs)</text>
<text transform="translate(897.7 418.9) rotate(-90)" fill="#262626" font-family='"Liberation Sans", Arial, Helvetica, sans-serif' font-size="40.6"><tspan x="-1.5" y="0">coupling </tspan><tspan x="162.5" y="0" font-family='"Liberation Serif", "Times New Roman", serif' font-style="italic" font-size="40.4" textLength="19.4" lengthAdjust="spacingAndGlyphs">γ</tspan><tspan x="183.5" y="19.5" font-size="31">0 </tspan><tspan x="213.5" y="0">(cm</tspan><tspan x="279" y="-20.5" font-size="31" letter-spacing="-1">-1</tspan><tspan x="310" y="0">)</tspan></text>
<text x="925" y="549.7" font-size="50" text-anchor="start" fill="#1a1a1a" font-family='"Liberation Serif", "Times New Roman", serif' >(b)</text>
<g fill="none" stroke="#3a3a3a" stroke-width="3.8"><rect x="998.5" y="617.8" width="600.95" height="500.1"/></g><g stroke="#3a3a3a" stroke-width="3.4"><path d="M1119.64 1117.9 v-7.8 M1119.64 617.8 v7.8"/><path d="M1240.78 1117.9 v-7.8 M1240.78 617.8 v7.8"/><path d="M1361.92 1117.9 v-7.8 M1361.92 617.8 v7.8"/><path d="M1483.06 1117.9 v-7.8 M1483.06 617.8 v7.8"/><path d="M998.5 989.5 h7.8 M1599.45 989.5 h-7.8"/><path d="M998.5 861.4 h7.8 M1599.45 861.4 h-7.8"/><path d="M998.5 733.3 h7.8 M1599.45 733.3 h-7.8"/></g>
<g clip-path="url(#clip9)" fill="none" stroke-width="3.7" stroke-linejoin="round"><path d="M998.5 605.8 1009.3 605.8 1011.4 684.5 1013.4 749.2 1015.6 809.3 1017.9 861.6 1020.4 908.5 1023 948.1 1025.9 983.6 1029 1013.3 1031.6 1033.1 1034.4 1050.2 1037.5 1065.2 1040.8 1077.5 1042.6 1082.9 1044.5 1087.8 1046.4 1092.1 1048.5 1096.1 1050.7 1099.6 1053 1102.6 1055.5 1105.4 1058.2 1107.8 1058.8 1085.1 1061.1 949 1065.9 727.4 1067.2 690.2 1068.4 667.5 1069.7 651.2 1070.6 645.5 1071 643.9 1071.3 643.5 1071.6 643.7 1072 644.7 1073.1 648.9 1074.4 656.6 1076.7 675.2 1079 698.7 1080.8 721.1 1086.5 806 1090.6 862.6 1094.6 912 1098.3 948.5 1102.9 985.8 1105.6 1004.7 1108.3 1021.8 1110.9 1036.7 1113.8 1051.5 1116.7 1064.7 1119.4 1075.4 1124.9 976.7 1130.2 885.9 1134.8 815.8 1136.8 793.5 1138.6 778.3 1139.6 773.2 1141.2 766.7 1142.3 763.6 1143.2 762.4 1143.5 762.4 1143.9 762.7 1144.6 763.8 1146.3 769.3 1148.4 778.2 1150.3 790.2 1155.8 831.3 1165.7 914.7 1170.1 950.2 1174.5 982.4 1177.5 1000 1179.7 1010.9 1182.7 1021.9 1183.4 1023.7 1184.1 1024.5 1184.5 1024.4 1184.9 1023.9 1185.7 1022.1 1188.3 1012.7 1190 1003 1192.4 985.8 1194.7 964.7 1203.3 874.5 1204.8 861.5 1207.3 843.7 1209.1 833 1210.7 826 1212.4 821.5 1215.6 815.4 1216.6 815.7 1217.6 816.6 1218.6 818 1219.7 820.2 1221.8 826.3 1224 835 1226.3 846.3 1228.8 860.9 1238.9 928.8 1241.3 943.6 1243.4 955.1 1245.9 966.5 1248.3 974.7 1249.5 977.7 1250.6 979.7 1251.8 981.2 1252.9 981.8 1253.8 981.7 1254.8 981.2 1255.8 980 1256.8 978.3 1258.8 973.3 1260.8 966.4 1263 956.7 1265.3 944.7 1274.5 889.1 1278.6 867.5 1280.9 858.1 1283 851.7 1284.1 849.2 1285.1 847.5 1286.2 846.3 1287.2 845.7 1288.2 845.8 1289.2 846.3 1290.2 847.2 1291.2 848.5 1293.3 852.6 1295.4 858.3 1297.6 865.9 1300 875.6 1309.4 919.6 1313.5 936.3 1315.8 943.7 1318 949 1319.1 951 1320.2 952.4 1321.3 953.4 1322.3 953.8 1323.3 953.9 1324.3 953.5 1325.3 952.8 1326.3 951.7 1328.4 948.4 1330.5 943.7 1332.7 937.5 1335.1 929.5 1344.6 892.8 1348.8 878.7 1351.1 872.6 1353.3 868.3 1354.4 866.7 1355.5 865.5 1356.6 864.7 1357.6 864.4 1358.6 864.5 1359.6 864.8 1361.6 866.2 1363.7 869 1365.8 872.8 1368 877.8 1370.3 884 1379.6 912.8 1383.7 923.9 1386 928.8 1388.1 932.2 1390.2 934.5 1391.3 935.2 1392.3 935.5 1393.3 935.6 1394.3 935.4 1396.4 934.3 1398.5 932.1 1400.7 928.9 1402.9 924.9 1405.4 919.4 1414.8 895.5 1419 886.1 1421.3 882.1 1423.5 879.3 1425.7 877.4 1427.8 876.6 1429.8 876.8 1431.9 877.8 1434 879.6 1436.2 882.3 1438.4 885.6 1440.8 889.9 1450.1 909.2 1454.1 916.5 1456.4 919.8 1458.5 922.2 1460.6 923.8 1462.6 924.6 1464.7 924.6 1466.9 923.9 1469.1 922.5 1471.3 920.3 1473.6 917.5 1476 914 1485.6 897.6 1489.7 891.5 1492 888.8 1494.2 886.9 1496.3 885.7 1498.4 885.1 1500.5 885.2 1502.6 885.9 1504.8 887.2 1507 889 1509.2 891.3 1511.5 894 1520.3 906.2 1524.1 910.9 1526.2 913 1528.1 914.5 1530 915.7 1531.9 916.4 1534.1 916.7 1536.5 916.4 1538.9 915.5 1541.3 914.1 1543.6 912.3 1546.2 909.9 1555.8 899.3 1559.9 895.3 1562.2 893.6 1564.3 892.4 1566.4 891.6 1568.5 891.2 1570.7 891.3 1573 891.8 1575.3 892.7 1577.7 894.1 1582.2 897.6 1593.2 907.6 1596.4 909.8 1599.4 911.4" stroke="#0a0a0a"/><path d="M998.5 605.8 1003.9 605.8 1005.9 749.2 1008.2 861.6 1009.4 908.5 1010.7 948.1 1012.2 983.6 1013.7 1013.3 1015 1033.1 1016.4 1050.2 1018 1065.2 1019.6 1077.5 1021.5 1087.8 1023.5 1096.1 1025.7 1102.6 1027 1105.4 1028.3 1107.8 1029.8 949 1032.2 727.4 1032.8 690.2 1033.4 667.5 1034.1 651.2 1034.5 645.5 1034.9 643.5 1035.2 644.7 1035.8 648.9 1036.4 656.6 1037.6 675.2 1038.7 698.7 1044.5 862.6 1046.5 912 1048.4 948.5 1050.7 985.8 1053.4 1021.8 1056.1 1051.5 1058.9 1075.4 1064.3 885.9 1066.6 815.8 1067.7 792.5 1068.6 777.7 1069.9 766 1070.4 763.4 1070.9 762.4 1071.2 762.8 1071.6 764.1 1072.4 769.7 1073.4 778.2 1074.4 790.2 1077.1 831.3 1084.3 950.2 1086.5 982.4 1089.1 1010.9 1090.6 1021.9 1091 1023.9 1091.3 1024.5 1091.7 1023.9 1092.1 1021.9 1093.4 1012.7 1095.4 985.8 1100.9 874.5 1102.8 844.4 1103.8 833 1104.6 826 1105.4 821.5 1107 815.4 1107.5 815.7 1108 816.6 1109.1 820.2 1110.1 826.3 1111.2 834.5 1113.6 860.9 1118.7 929.4 1121 955.6 1122.2 966.9 1123.4 975 1124.6 980 1125.2 981.3 1125.8 981.8 1126.2 981.7 1126.7 981 1127.7 978.1 1128.6 973.3 1129.6 966.4 1131.9 944.7 1136.5 888.5 1138.6 867.1 1139.7 857.8 1140.8 851.2 1141.9 847.1 1142.5 846 1143 845.7 1143.4 845.8 1143.9 846.4 1144.9 848.6 1145.9 852.6 1146.9 858 1149.2 875.2 1154 920.1 1156.1 937 1157.3 944.5 1158.4 949.6 1159.5 952.8 1160 953.6 1160.6 953.9 1161 953.8 1161.5 953.3 1162.5 951.4 1163.5 948 1164.5 943.5 1166.8 929.5 1171.6 892.4 1173.7 878.4 1174.9 872.2 1176 868 1177.1 865.3 1177.6 864.7 1178.1 864.4 1179.1 864.8 1180.1 866.3 1181.1 869 1182.1 872.6 1184.3 883.7 1189.1 913.1 1191.2 924.4 1192.4 929.4 1193.5 932.7 1194.6 934.8 1195.1 935.4 1195.6 935.6 1196.6 935.3 1197.6 934 1198.6 931.9 1199.6 928.8 1201.9 919.4 1206.7 895.2 1208.8 885.9 1210 881.8 1211.1 879 1212.2 877.3 1212.7 876.8 1213.3 876.6 1214.2 876.9 1215.2 877.9 1216.2 879.6 1217.3 882.1 1219.6 889.8 1224.4 909.6 1226.5 917.1 1227.7 920.5 1228.8 922.7 1229.9 924.2 1231 924.7 1231.9 924.5 1232.9 923.6 1233.9 922.2 1235 920.1 1237.3 913.8 1242 897.6 1244.1 891.4 1245.3 888.6 1246.4 886.7 1247.5 885.5 1248.6 885.1 1249.6 885.3 1250.6 886 1251.6 887.1 1252.6 888.7 1254.8 893.7 1259.6 906.7 1261.7 911.7 1262.9 913.9 1264 915.4 1265.1 916.4 1266.1 916.7 1267.1 916.6 1268.1 916 1270.1 913.8 1272.4 909.8 1277.2 899.2 1279.3 895.2 1280.5 893.4 1281.6 892.2 1282.7 891.5 1283.7 891.2 1284.7 891.3 1285.7 891.8 1287.7 893.6 1290 897 1294.8 905.8 1296.9 909.1 1298.1 910.6 1299.2 911.6 1300.3 912.2 1301.3 912.4 1302.3 912.3 1303.3 912 1305.3 910.5 1307.6 907.7 1312.4 900.5 1314.5 897.8 1316.8 895.8 1317.9 895.3 1318.9 895.1 1320.9 895.5 1322.9 896.7 1325.2 899 1330 904.8 1332.1 907 1334.4 908.7 1335.5 909.1 1336.5 909.2 1338.5 908.9 1340.5 907.9 1342.8 906.1 1347.5 901.4 1349.6 899.6 1351.9 898.2 1354.1 897.7 1356 898 1358.1 898.8 1360.4 900.3 1365.1 904.1 1367.2 905.6 1369.5 906.7 1371.7 907.1 1373.6 906.9 1375.7 906.2 1378 905 1384.8 900.7 1387.1 899.8 1389.3 899.5 1391.2 899.6 1393.3 900.2 1395.6 901.2 1402.4 904.7 1404.7 905.4 1406.9 905.7 1408.9 905.6 1410.9 905.1 1420 901.4 1422.3 900.8 1424.4 900.6 1426.4 900.7 1428.5 901.1 1437.6 904.1 1439.9 904.6 1442.1 904.8 1446.1 904.4 1455.2 901.9 1459.6 901.4 1463.7 901.7 1472.8 903.7 1477.2 904.1 1481.3 903.9 1490.4 902.3 1494.7 901.9 1498.9 902.1 1508 903.4 1512.4 903.7 1516.6 903.5 1525.5 902.5 1529.7 902.2 1534 902.4 1543.2 903.2 1547.5 903.4 1551.8 903.3 1564.4 902.5 1569.1 902.5 1582.7 903.3 1599.4 902.6" stroke="#d9301f" stroke-dasharray="4 3.6"/><path d="M998.5 605.8 1001.2 605.8 1002.2 749.2 1003.3 861.6 1004.6 948.1 1006.1 1013.3 1007.5 1050.2 1009.1 1077.5 1010 1087.8 1011 1096.1 1012.1 1102.6 1013.4 1107.8 1015.3 727.4 1016 667.5 1016.3 651.2 1016.7 643.5 1017.1 648.9 1017.5 656.6 1018.6 698.7 1021.5 862.6 1023.4 948.5 1024.6 985.8 1025.9 1021.8 1027.3 1051.5 1028.7 1075.4 1032.6 815.8 1033.6 777.7 1034.2 766 1034.7 762.4 1035.1 764.3 1035.6 770.9 1036.5 790.9 1042.5 982.4 1043.8 1010.9 1044.6 1021.9 1044.9 1024.5 1045.3 1021.9 1046 1012.7 1047 985.8 1049.7 874.5 1050.7 844.4 1051.6 826 1052.8 815.4 1053.3 816.6 1053.8 820.2 1054.9 834.5 1056.1 860.9 1059.8 956.1 1061 975.2 1061.6 980.1 1061.9 981.4 1062.2 981.8 1062.6 981 1063.1 978.1 1064.1 966.4 1065.2 944.7 1068.6 867.1 1069.7 851.2 1070.2 847.1 1070.8 845.7 1071.2 846.4 1071.7 848.6 1072.7 858 1073.9 875.2 1077.3 937 1078.5 949.6 1079 952.8 1079.6 953.9 1080 953.3 1080.5 951.5 1081.5 943.7 1082.7 929.5 1086.1 878.4 1087.3 868 1087.8 865.3 1088.4 864.4 1088.8 864.9 1089.3 866.3 1090.3 872.6 1091.4 883.7 1094.9 924.6 1096 932.9 1096.6 934.9 1097.1 935.6 1097.6 935.2 1098.1 933.9 1099.1 928.8 1100.2 919.6 1103.7 885.8 1104.8 878.9 1105.4 877.2 1105.9 876.6 1106.4 876.9 1106.9 878 1107.9 882.1 1109.1 889.8 1112.5 917.3 1113.7 922.8 1114.2 924.2 1114.8 924.7 1115.3 924.4 1115.8 923.6 1116.8 920.1 1117.9 914 1121.4 891.2 1122.5 886.7 1123.1 885.5 1123.6 885.1 1124.1 885.3 1124.6 886 1125.6 888.7 1126.7 893.7 1130.1 911.8 1131.3 915.5 1131.8 916.4 1132.4 916.7 1132.8 916.5 1133.3 916 1134.3 913.8 1135.5 909.8 1138.9 895.2 1140.1 892.2 1140.6 891.5 1141.2 891.2 1141.6 891.3 1142.1 891.8 1143.1 893.6 1144.3 897 1147.7 909.1 1148.9 911.6 1149.4 912.2 1150 912.4 1150.9 912 1151.9 910.5 1153.1 907.7 1156.5 897.8 1157.7 895.8 1158.2 895.3 1158.8 895.1 1159.7 895.5 1160.7 896.7 1161.9 899 1165.3 907 1166.5 908.7 1167.6 909.2 1168.5 908.9 1169.5 907.9 1170.7 906.1 1174.1 899.5 1175.3 898.2 1176.4 897.7 1177.3 898 1178.3 898.8 1179.5 900.3 1182.9 905.6 1184.1 906.7 1185.2 907.1 1186.1 906.9 1187.1 906.2 1191.7 900.7 1192.9 899.8 1194 899.5 1194.9 899.6 1195.9 900.2 1200.5 904.7 1201.7 905.4 1202.8 905.7 1203.7 905.6 1204.7 905.1 1209.3 901.4 1210.5 900.8 1211.6 900.6 1213.5 901.1 1218.1 904.1 1219.3 904.6 1220.4 904.8 1222.3 904.4 1226.9 901.9 1229.2 901.4 1231.1 901.7 1235.7 903.7 1238 904.1 1239.9 903.9 1244.5 902.2 1246.8 901.9 1248.7 902.1 1253.3 903.4 1255.6 903.7 1257.5 903.6 1262.1 902.5 1264.4 902.2 1266.3 902.4 1270.9 903.3 1273.2 903.4 1282 902.5 1290.8 903.3 1299.6 902.6 1308.4 903.1 1317.2 902.7 1326 903.1 1334.8 902.8 1343.6 903 1352.4 902.8 1361.2 903 1370 902.8 1599.5 902.9" stroke="#2f7bc3" stroke-dasharray="15 14.3" stroke-dashoffset="-12.4"/><path d="M998.5 605.8 999.8 605.8 1000.9 861.6 1001.6 949.5 1002.3 1014.1 1003 1050.8 1003.8 1077.8 1004.7 1096.1 1005.9 1107.7 1006.9 727.4 1007.2 666 1007.6 643.5 1008 657.3 1008.6 699.9 1010 861.3 1011 948.5 1012.2 1021.8 1013.6 1075.3 1015.5 814.5 1016 777.7 1016.6 762.4 1017 770.1 1017.5 790.2 1020.5 982.4 1021.1 1010.9 1021.7 1024.5 1022.2 1012.7 1022.7 985 1024.6 843.7 1025 826 1025.6 815.4 1025.9 816.9 1026.2 821.7 1026.8 841.1 1029.3 962.2 1029.8 976.8 1030.1 980.6 1030.3 981.8 1030.8 977.7 1031.3 966 1033.5 867.1 1034.1 850.9 1034.4 847 1034.6 845.7 1034.9 846.3 1035.1 848.6 1035.6 858 1037.9 937 1038.5 949.6 1038.8 952.8 1039 953.9 1039.3 953.4 1039.5 951.5 1040 943.7 1042.3 878.4 1042.9 868 1043.2 865.3 1043.4 864.4 1043.7 864.8 1043.9 866.3 1044.4 872.6 1046.7 924.4 1047.3 932.7 1047.5 934.8 1047.8 935.6 1048.3 934 1048.8 928.9 1051.1 885.6 1051.7 878.8 1052 877.2 1052.2 876.6 1052.5 877.1 1052.8 878.4 1053.4 883.9 1055.7 919.2 1056.2 923.3 1056.7 924.7 1057.1 923.6 1057.6 920.1 1059.9 891.2 1060.5 886.7 1060.8 885.5 1061.1 885.1 1061.5 886 1062 888.7 1064.3 911.7 1064.9 915.4 1065.4 916.7 1065.9 916 1066.4 913.8 1068.7 895.2 1069.3 892.2 1069.8 891.2 1070.3 891.8 1070.8 893.6 1073.1 909.1 1073.7 911.6 1074.2 912.4 1074.7 912 1075.2 910.5 1077.5 897.8 1078.1 895.8 1078.6 895.1 1079.1 895.5 1079.6 896.7 1081.9 907 1082.5 908.7 1083 909.2 1083.5 908.9 1084 907.9 1086.3 899.5 1086.9 898.2 1087.4 897.7 1087.9 898 1088.4 898.8 1090.7 905.6 1091.3 906.7 1091.8 907.1 1092.3 906.9 1092.8 906.2 1095.1 900.7 1095.7 899.8 1096.2 899.5 1096.7 899.6 1097.2 900.2 1099.5 904.7 1100.1 905.4 1100.6 905.7 1101.1 905.6 1101.6 905.1 1103.9 901.4 1104.5 900.8 1105 900.6 1106 901.1 1108.3 904.1 1108.9 904.6 1109.4 904.8 1110.4 904.4 1112.7 901.9 1113.8 901.4 1114.8 901.7 1117.1 903.7 1118.2 904.1 1119.2 903.9 1121.5 902.2 1122.6 901.9 1123.6 902.1 1125.9 903.4 1127 903.7 1128 903.6 1130.3 902.5 1131.4 902.2 1132.4 902.4 1134.7 903.3 1135.8 903.4 1140.2 902.5 1144.6 903.3 1149 902.6 1153.4 903.1 1157.8 902.7 1162.2 903.1 1166.6 902.8 1171 903 1175.4 902.8 1179.8 903 1184.2 902.8 1599.5 902.9" stroke="#7ab51d" stroke-dasharray="14.5 3.5 8 3.3" stroke-dashoffset="1.9"/></g>
<text x="987.4" y="1131.2" font-size="36.8" text-anchor="end" fill="#404040" font-family='"Liberation Sans", Arial, Helvetica, sans-serif' >0</text>
<text x="987.4" y="1003.1" font-size="36.8" text-anchor="end" fill="#404040" font-family='"Liberation Sans", Arial, Helvetica, sans-serif' >0.1</text>
<text x="987.4" y="875" font-size="36.8" text-anchor="end" fill="#404040" font-family='"Liberation Sans", Arial, Helvetica, sans-serif' >0.2</text>
<text x="987.4" y="746.9" font-size="36.8" text-anchor="end" fill="#404040" font-family='"Liberation Sans", Arial, Helvetica, sans-serif' >0.3</text>
<text x="998.1" y="1165.6" font-size="36.8" text-anchor="middle" fill="#404040" font-family='"Liberation Sans", Arial, Helvetica, sans-serif' >0</text>
<text x="1119.24" y="1165.6" font-size="36.8" text-anchor="middle" fill="#404040" font-family='"Liberation Sans", Arial, Helvetica, sans-serif' >200</text>
<text x="1240.38" y="1165.6" font-size="36.8" text-anchor="middle" fill="#404040" font-family='"Liberation Sans", Arial, Helvetica, sans-serif' >400</text>
<text x="1361.52" y="1165.6" font-size="36.8" text-anchor="middle" fill="#404040" font-family='"Liberation Sans", Arial, Helvetica, sans-serif' >600</text>
<text x="1482.66" y="1165.6" font-size="36.8" text-anchor="middle" fill="#404040" font-family='"Liberation Sans", Arial, Helvetica, sans-serif' >800</text>
<text x="1298.3" y="1214.5" font-size="40.6" text-anchor="middle" fill="#404040" font-family='"Liberation Sans", Arial, Helvetica, sans-serif' >time (fs)</text>
<text transform="translate(921.3 867.8) rotate(-90)" font-size="40.6" text-anchor="middle" fill="#404040" font-family='"Liberation Sans", Arial, Helvetica, sans-serif'>populations</text>
<text x="889" y="1172.5" font-size="50" text-anchor="start" fill="#1a1a1a" font-family='"Liberation Serif", "Times New Roman", serif' >(d)</text>
<line x1="1370.8" y1="646.5" x2="1398.2" y2="646.5" stroke="#0a0a0a" stroke-width="3.8"/>
<text x="1401.8" y="655.6" font-size="22.6" fill="#141414" font-family='"Liberation Sans", Arial, Helvetica, sans-serif'><tspan font-family='"Liberation Serif", "Times New Roman", serif' font-style="italic" font-size="28">τ</tspan><tspan dx="0.8"> = 100, </tspan><tspan font-family='"Liberation Serif", "Times New Roman", serif' font-style="italic" font-size="28">γ</tspan><tspan dx="0.1"> = 265</tspan></text>
<line x1="1370.8" y1="675.5" x2="1398.2" y2="675.5" stroke="#d9301f" stroke-width="3.8" stroke-dasharray="3.9 3.7"/>
<text x="1401.8" y="684.2" font-size="22.6" fill="#141414" font-family='"Liberation Sans", Arial, Helvetica, sans-serif'><tspan font-family='"Liberation Serif", "Times New Roman", serif' font-style="italic" font-size="28">τ</tspan><tspan dx="0.8"> = 50, </tspan><tspan font-family='"Liberation Serif", "Times New Roman", serif' font-style="italic" font-size="28">γ</tspan><tspan dx="0.1"> = 530</tspan></text>
<line x1="1370.8" y1="704.5" x2="1398.2" y2="704.5" stroke="#2f7bc3" stroke-width="3.8" stroke-dasharray="15.2 14"/>
<text x="1401.8" y="712.8" font-size="22.6" fill="#141414" font-family='"Liberation Sans", Arial, Helvetica, sans-serif'><tspan font-family='"Liberation Serif", "Times New Roman", serif' font-style="italic" font-size="28">τ</tspan><tspan dx="0.8"> = 25, </tspan><tspan font-family='"Liberation Serif", "Times New Roman", serif' font-style="italic" font-size="28">γ</tspan><tspan dx="0.1"> = 1060</tspan></text>
<line x1="1370.8" y1="733.5" x2="1398.2" y2="733.5" stroke="#7ab51d" stroke-width="3.8" stroke-dasharray="15.2 3.8 8.4 3"/>
<text x="1401.8" y="741.4" font-size="22.6" fill="#141414" font-family='"Liberation Sans", Arial, Helvetica, sans-serif'><tspan font-family='"Liberation Serif", "Times New Roman", serif' font-style="italic" font-size="28">τ</tspan><tspan dx="0.8"> = 12.5, </tspan><tspan font-family='"Liberation Serif", "Times New Roman", serif' font-style="italic" font-size="28">γ</tspan><tspan dx="0.1"> = 2120</tspan></text>
</svg></div></body></html>
